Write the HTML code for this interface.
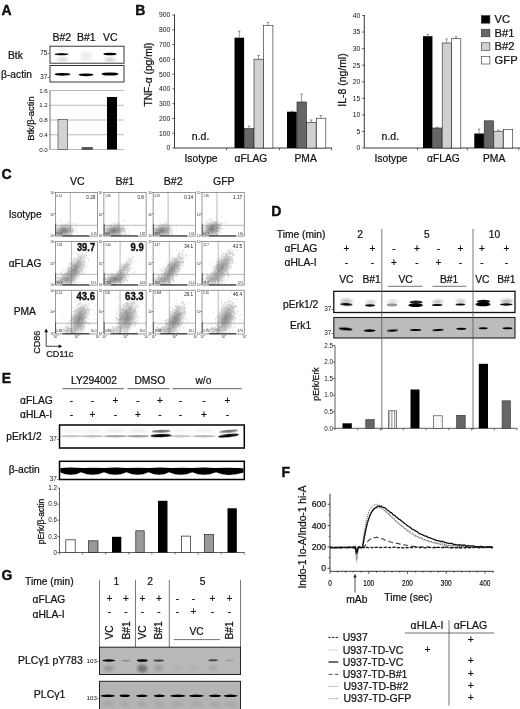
<!DOCTYPE html>
<html><head><meta charset="utf-8"><title>Figure</title>
<style>html,body{margin:0;padding:0;background:#fff}svg{display:block}text{font-family:"Liberation Sans",sans-serif;fill:#111}</style>
</head><body>
<svg width="520" height="709" viewBox="0 0 520 709">
<defs>
<filter id="b1" x="-30%" y="-100%" width="160%" height="300%"><feGaussianBlur stdDeviation="0.7"/></filter>
<filter id="b2" x="-30%" y="-100%" width="160%" height="300%"><feGaussianBlur stdDeviation="1.4"/></filter>
<filter id="b0" x="-10%" y="-10%" width="120%" height="120%"><feGaussianBlur stdDeviation="0.45"/></filter>
<radialGradient id="rg"><stop offset="0" stop-color="#666" stop-opacity="0.8"/><stop offset="0.35" stop-color="#777" stop-opacity="0.55"/><stop offset="0.7" stop-color="#888" stop-opacity="0.2"/><stop offset="1" stop-color="#999" stop-opacity="0"/></radialGradient>
<pattern id="vstripe" x="388.6" width="2.7" height="2" patternUnits="userSpaceOnUse"><rect width="2.7" height="2" fill="#fff"/><rect width="1.2" height="2" fill="#999"/></pattern>
<pattern id="dots" width="2" height="2" patternUnits="userSpaceOnUse"><rect width="2" height="2" fill="#fff"/><rect width="0.6" height="0.6" fill="#bbb"/></pattern>
</defs>
<rect width="520" height="709" fill="#fff"/>
<text x="1.60" y="15.30" font-size="14" font-weight="bold" fill="#000" stroke="#000" stroke-width="0.35">A</text>
<text x="52.50" y="41.00" font-size="10.5" stroke="#111" stroke-width="0.22">B#2</text>
<text x="77.00" y="41.00" font-size="10.5" stroke="#111" stroke-width="0.22">B#1</text>
<text x="103.00" y="41.00" font-size="10.5" stroke="#111" stroke-width="0.22">VC</text>
<rect x="50.00" y="46.20" width="74.00" height="17.00" fill="#fff" stroke="#222" stroke-width="0.9"/>
<rect x="50.00" y="65.50" width="74.00" height="16.50" fill="#fff" stroke="#222" stroke-width="0.9"/>
<text x="8.00" y="59.00" font-size="10.25" stroke="#111" stroke-width="0.22">Btk</text>
<text x="1.00" y="77.50" font-size="10.25" stroke="#111" stroke-width="0.22">β-actin</text>
<text x="49.40" y="54.60" font-size="6.4" text-anchor="end">75-</text>
<text x="49.40" y="79.20" font-size="6.4" text-anchor="end">37-</text>
<ellipse cx="61.50" cy="54.20" rx="7.00" ry="1.10" fill="#111" opacity="1" filter="url(#b1)"/>
<ellipse cx="62.50" cy="59.50" rx="5.50" ry="1.50" fill="#999" opacity="0.45" filter="url(#b2)"/>
<ellipse cx="62.50" cy="49.00" rx="5.00" ry="1.00" fill="#999" opacity="0.3" filter="url(#b2)"/>
<ellipse cx="86.00" cy="54.50" rx="6.00" ry="1.25" fill="#999" opacity="0.3" filter="url(#b2)"/>
<ellipse cx="86.00" cy="58.50" rx="6.00" ry="1.50" fill="#999" opacity="0.25" filter="url(#b2)"/>
<ellipse cx="110.00" cy="54.00" rx="6.75" ry="1.30" fill="#000" opacity="1" filter="url(#b1)"/>
<ellipse cx="110.00" cy="59.50" rx="5.50" ry="1.60" fill="#888" opacity="0.5" filter="url(#b2)"/>
<ellipse cx="62.50" cy="74.30" rx="8.00" ry="1.40" fill="#000" opacity="1" filter="url(#b1)"/>
<ellipse cx="86.00" cy="74.80" rx="7.50" ry="1.40" fill="#000" opacity="1" filter="url(#b1)"/>
<ellipse cx="110.00" cy="74.00" rx="8.50" ry="1.60" fill="#000" opacity="1" filter="url(#b1)"/>
<line x1="50.00" y1="90.50" x2="124.00" y2="90.50" stroke="#777" stroke-width="0.5"/>
<text x="47.80" y="92.60" font-size="6.2" text-anchor="end">1.6</text>
<line x1="50.00" y1="105.25" x2="124.00" y2="105.25" stroke="#777" stroke-width="0.5"/>
<text x="47.80" y="107.35" font-size="6.2" text-anchor="end">1.2</text>
<line x1="50.00" y1="120.00" x2="124.00" y2="120.00" stroke="#777" stroke-width="0.5"/>
<text x="47.80" y="122.10" font-size="6.2" text-anchor="end">0.8</text>
<line x1="50.00" y1="134.75" x2="124.00" y2="134.75" stroke="#777" stroke-width="0.5"/>
<text x="47.80" y="136.85" font-size="6.2" text-anchor="end">0.4</text>
<line x1="50.00" y1="149.50" x2="124.00" y2="149.50" stroke="#777" stroke-width="0.5"/>
<text x="47.80" y="151.60" font-size="6.2" text-anchor="end">0.0</text>
<line x1="50.00" y1="90.50" x2="50.00" y2="149.50" stroke="#333" stroke-width="0.7"/>
<rect x="58.00" y="119.30" width="9.50" height="30.20" fill="#d2d2d2" stroke="#333" stroke-width="0.6"/>
<rect x="82.00" y="147.40" width="10.50" height="2.10" fill="#555" stroke="#222" stroke-width="0.5"/>
<rect x="107.00" y="97.00" width="10.00" height="52.50" fill="#000"/>
<text transform="translate(34.20 118.60) rotate(-90)" font-size="9.4" text-anchor="middle" stroke="#111" stroke-width="0.22">Btk/β-actin</text>
<text x="135.20" y="15.30" font-size="14" font-weight="bold" fill="#000" stroke="#000" stroke-width="0.35">B</text>
<line x1="174.50" y1="14.50" x2="174.50" y2="148.00" stroke="#222" stroke-width="0.9"/>
<line x1="174.50" y1="148.00" x2="332.00" y2="148.00" stroke="#222" stroke-width="0.9"/>
<line x1="172.30" y1="148.00" x2="174.50" y2="148.00" stroke="#222" stroke-width="0.7"/>
<text x="170.30" y="150.40" font-size="6.8" text-anchor="end">0</text>
<line x1="172.30" y1="133.22" x2="174.50" y2="133.22" stroke="#222" stroke-width="0.7"/>
<text x="170.30" y="135.62" font-size="6.8" text-anchor="end">100</text>
<line x1="172.30" y1="118.44" x2="174.50" y2="118.44" stroke="#222" stroke-width="0.7"/>
<text x="170.30" y="120.84" font-size="6.8" text-anchor="end">200</text>
<line x1="172.30" y1="103.67" x2="174.50" y2="103.67" stroke="#222" stroke-width="0.7"/>
<text x="170.30" y="106.07" font-size="6.8" text-anchor="end">300</text>
<line x1="172.30" y1="88.89" x2="174.50" y2="88.89" stroke="#222" stroke-width="0.7"/>
<text x="170.30" y="91.29" font-size="6.8" text-anchor="end">400</text>
<line x1="172.30" y1="74.11" x2="174.50" y2="74.11" stroke="#222" stroke-width="0.7"/>
<text x="170.30" y="76.51" font-size="6.8" text-anchor="end">500</text>
<line x1="172.30" y1="59.33" x2="174.50" y2="59.33" stroke="#222" stroke-width="0.7"/>
<text x="170.30" y="61.73" font-size="6.8" text-anchor="end">600</text>
<line x1="172.30" y1="44.56" x2="174.50" y2="44.56" stroke="#222" stroke-width="0.7"/>
<text x="170.30" y="46.96" font-size="6.8" text-anchor="end">700</text>
<line x1="172.30" y1="29.78" x2="174.50" y2="29.78" stroke="#222" stroke-width="0.7"/>
<text x="170.30" y="32.18" font-size="6.8" text-anchor="end">800</text>
<line x1="172.30" y1="15.00" x2="174.50" y2="15.00" stroke="#222" stroke-width="0.7"/>
<text x="170.30" y="17.40" font-size="6.8" text-anchor="end">900</text>
<line x1="226.50" y1="148.00" x2="226.50" y2="150.20" stroke="#222" stroke-width="0.7"/>
<line x1="279.50" y1="148.00" x2="279.50" y2="150.20" stroke="#222" stroke-width="0.7"/>
<line x1="331.60" y1="148.00" x2="331.60" y2="150.20" stroke="#222" stroke-width="0.7"/>
<text transform="translate(151.70 74.60) rotate(-90)" font-size="10.25" text-anchor="middle" stroke="#111" stroke-width="0.22" textLength="64" lengthAdjust="spacingAndGlyphs">TNF-α (pg/ml)</text>
<text x="191.80" y="140.00" font-size="10.5" stroke="#111" stroke-width="0.22">n.d.</text>
<text x="184.50" y="162.00" font-size="10.25" stroke="#111" stroke-width="0.22">Isotype</text>
<text x="234.50" y="162.00" font-size="10.25" stroke="#111" stroke-width="0.22">αFLAG</text>
<text x="294.50" y="162.00" font-size="10.25" stroke="#111" stroke-width="0.22">PMA</text>
<rect x="234.50" y="37.70" width="9.60" height="110.30" fill="#000"/>
<line x1="239.30" y1="37.70" x2="239.30" y2="31.00" stroke="#555" stroke-width="0.6"/>
<line x1="238.00" y1="31.00" x2="240.60" y2="31.00" stroke="#555" stroke-width="0.6"/>
<rect x="244.40" y="128.50" width="9.30" height="19.50" fill="#666" stroke="#222" stroke-width="0.6"/>
<line x1="248.90" y1="128.50" x2="248.90" y2="126.00" stroke="#555" stroke-width="0.6"/>
<line x1="247.60" y1="126.00" x2="250.20" y2="126.00" stroke="#555" stroke-width="0.6"/>
<rect x="254.00" y="59.20" width="9.30" height="88.80" fill="#d0d0d0" stroke="#222" stroke-width="0.6"/>
<line x1="258.50" y1="59.20" x2="258.50" y2="55.50" stroke="#555" stroke-width="0.6"/>
<line x1="257.20" y1="55.50" x2="259.80" y2="55.50" stroke="#555" stroke-width="0.6"/>
<rect x="263.60" y="25.50" width="9.30" height="122.50" fill="#fff" stroke="#222" stroke-width="0.6"/>
<line x1="268.10" y1="25.50" x2="268.10" y2="22.50" stroke="#555" stroke-width="0.6"/>
<line x1="266.80" y1="22.50" x2="269.40" y2="22.50" stroke="#555" stroke-width="0.6"/>
<rect x="287.00" y="111.70" width="9.70" height="36.30" fill="#000"/>
<line x1="291.85" y1="111.70" x2="291.85" y2="111.20" stroke="#555" stroke-width="0.6"/>
<line x1="290.55" y1="111.20" x2="293.15" y2="111.20" stroke="#555" stroke-width="0.6"/>
<rect x="297.00" y="102.00" width="9.40" height="46.00" fill="#666" stroke="#222" stroke-width="0.6"/>
<line x1="301.55" y1="102.00" x2="301.55" y2="94.00" stroke="#555" stroke-width="0.6"/>
<line x1="300.25" y1="94.00" x2="302.85" y2="94.00" stroke="#555" stroke-width="0.6"/>
<rect x="306.70" y="122.50" width="9.40" height="25.50" fill="#d0d0d0" stroke="#222" stroke-width="0.6"/>
<line x1="311.25" y1="122.50" x2="311.25" y2="120.00" stroke="#555" stroke-width="0.6"/>
<line x1="309.95" y1="120.00" x2="312.55" y2="120.00" stroke="#555" stroke-width="0.6"/>
<rect x="316.40" y="118.20" width="9.40" height="29.80" fill="#fff" stroke="#222" stroke-width="0.6"/>
<line x1="320.95" y1="118.20" x2="320.95" y2="115.50" stroke="#555" stroke-width="0.6"/>
<line x1="319.65" y1="115.50" x2="322.25" y2="115.50" stroke="#555" stroke-width="0.6"/>
<line x1="364.30" y1="15.00" x2="364.30" y2="148.00" stroke="#222" stroke-width="0.9"/>
<line x1="364.30" y1="148.00" x2="520.00" y2="148.00" stroke="#222" stroke-width="0.9"/>
<line x1="362.10" y1="148.00" x2="364.30" y2="148.00" stroke="#222" stroke-width="0.7"/>
<text x="360.20" y="150.40" font-size="6.8" text-anchor="end">0</text>
<line x1="362.10" y1="131.44" x2="364.30" y2="131.44" stroke="#222" stroke-width="0.7"/>
<text x="360.20" y="133.84" font-size="6.8" text-anchor="end">5</text>
<line x1="362.10" y1="114.88" x2="364.30" y2="114.88" stroke="#222" stroke-width="0.7"/>
<text x="360.20" y="117.28" font-size="6.8" text-anchor="end">10</text>
<line x1="362.10" y1="98.31" x2="364.30" y2="98.31" stroke="#222" stroke-width="0.7"/>
<text x="360.20" y="100.71" font-size="6.8" text-anchor="end">15</text>
<line x1="362.10" y1="81.75" x2="364.30" y2="81.75" stroke="#222" stroke-width="0.7"/>
<text x="360.20" y="84.15" font-size="6.8" text-anchor="end">20</text>
<line x1="362.10" y1="65.19" x2="364.30" y2="65.19" stroke="#222" stroke-width="0.7"/>
<text x="360.20" y="67.59" font-size="6.8" text-anchor="end">25</text>
<line x1="362.10" y1="48.62" x2="364.30" y2="48.62" stroke="#222" stroke-width="0.7"/>
<text x="360.20" y="51.02" font-size="6.8" text-anchor="end">30</text>
<line x1="362.10" y1="32.06" x2="364.30" y2="32.06" stroke="#222" stroke-width="0.7"/>
<text x="360.20" y="34.46" font-size="6.8" text-anchor="end">35</text>
<line x1="362.10" y1="15.50" x2="364.30" y2="15.50" stroke="#222" stroke-width="0.7"/>
<text x="360.20" y="17.90" font-size="6.8" text-anchor="end">40</text>
<line x1="417.50" y1="148.00" x2="417.50" y2="150.20" stroke="#222" stroke-width="0.7"/>
<line x1="467.40" y1="148.00" x2="467.40" y2="150.20" stroke="#222" stroke-width="0.7"/>
<line x1="518.80" y1="148.00" x2="518.80" y2="150.20" stroke="#222" stroke-width="0.7"/>
<text transform="translate(346.00 80.00) rotate(-90)" font-size="10.25" text-anchor="middle" stroke="#111" stroke-width="0.22" textLength="53.3" lengthAdjust="spacingAndGlyphs">IL-8 (ng/ml)</text>
<text x="381.60" y="139.60" font-size="10.5" stroke="#111" stroke-width="0.22">n.d.</text>
<text x="374.50" y="162.00" font-size="10.25" stroke="#111" stroke-width="0.22">Isotype</text>
<text x="427.00" y="162.00" font-size="10.25" stroke="#111" stroke-width="0.22">αFLAG</text>
<text x="483.00" y="162.00" font-size="10.25" stroke="#111" stroke-width="0.22">PMA</text>
<rect x="423.00" y="36.20" width="9.45" height="111.80" fill="#000"/>
<line x1="427.73" y1="36.20" x2="427.73" y2="34.50" stroke="#555" stroke-width="0.6"/>
<line x1="426.43" y1="34.50" x2="429.03" y2="34.50" stroke="#555" stroke-width="0.6"/>
<rect x="432.75" y="128.00" width="9.15" height="20.00" fill="#666" stroke="#222" stroke-width="0.6"/>
<line x1="437.18" y1="128.00" x2="437.18" y2="127.20" stroke="#555" stroke-width="0.6"/>
<line x1="435.88" y1="127.20" x2="438.48" y2="127.20" stroke="#555" stroke-width="0.6"/>
<rect x="442.20" y="43.00" width="9.15" height="105.00" fill="#d0d0d0" stroke="#222" stroke-width="0.6"/>
<line x1="446.62" y1="43.00" x2="446.62" y2="39.00" stroke="#555" stroke-width="0.6"/>
<line x1="445.32" y1="39.00" x2="447.93" y2="39.00" stroke="#555" stroke-width="0.6"/>
<rect x="451.65" y="38.70" width="9.15" height="109.30" fill="#fff" stroke="#222" stroke-width="0.6"/>
<line x1="456.08" y1="38.70" x2="456.08" y2="36.70" stroke="#555" stroke-width="0.6"/>
<line x1="454.78" y1="36.70" x2="457.38" y2="36.70" stroke="#555" stroke-width="0.6"/>
<rect x="474.30" y="133.50" width="9.60" height="14.50" fill="#000"/>
<line x1="479.10" y1="133.50" x2="479.10" y2="129.00" stroke="#555" stroke-width="0.6"/>
<line x1="477.80" y1="129.00" x2="480.40" y2="129.00" stroke="#555" stroke-width="0.6"/>
<rect x="484.20" y="120.80" width="9.30" height="27.20" fill="#666" stroke="#222" stroke-width="0.6"/>
<rect x="493.80" y="131.20" width="9.30" height="16.80" fill="#d0d0d0" stroke="#222" stroke-width="0.6"/>
<line x1="498.30" y1="131.20" x2="498.30" y2="130.20" stroke="#555" stroke-width="0.6"/>
<line x1="497.00" y1="130.20" x2="499.60" y2="130.20" stroke="#555" stroke-width="0.6"/>
<rect x="503.40" y="129.60" width="9.30" height="18.40" fill="#fff" stroke="#222" stroke-width="0.6"/>
<rect x="481.30" y="15.60" width="8.60" height="7.60" fill="#000" stroke="#333" stroke-width="0.6"/>
<text x="494.60" y="23.10" font-size="11.2" stroke="#111" stroke-width="0.22">VC</text>
<rect x="481.30" y="29.20" width="8.60" height="7.60" fill="#666" stroke="#333" stroke-width="0.6"/>
<text x="494.60" y="36.70" font-size="11.2" stroke="#111" stroke-width="0.22">B#1</text>
<rect x="481.30" y="42.80" width="8.60" height="7.60" fill="#d0d0d0" stroke="#333" stroke-width="0.6"/>
<text x="494.60" y="50.30" font-size="11.2" stroke="#111" stroke-width="0.22">B#2</text>
<rect x="481.30" y="56.40" width="8.60" height="7.60" fill="#fff" stroke="#333" stroke-width="0.6"/>
<text x="494.60" y="63.90" font-size="11.2" stroke="#111" stroke-width="0.22">GFP</text>
<text x="1.50" y="179.30" font-size="14" font-weight="bold" fill="#000" stroke="#000" stroke-width="0.35">C</text>
<text x="77.20" y="185.30" font-size="10.5" text-anchor="middle" stroke="#111" stroke-width="0.22">VC</text>
<text x="124.80" y="185.30" font-size="10.5" text-anchor="middle" stroke="#111" stroke-width="0.22">B#1</text>
<text x="173.20" y="185.30" font-size="10.5" text-anchor="middle" stroke="#111" stroke-width="0.22">B#2</text>
<text x="223.80" y="185.30" font-size="10.5" text-anchor="middle" stroke="#111" stroke-width="0.22">GFP</text>
<text x="8.70" y="218.00" font-size="10.25" stroke="#111" stroke-width="0.22">Isotype</text>
<text x="8.70" y="267.00" font-size="10.25" stroke="#111" stroke-width="0.22">αFLAG</text>
<text x="13.70" y="314.50" font-size="10.25" stroke="#111" stroke-width="0.22">PMA</text>
<clipPath id="cp00"><rect x="55.3" y="192.3" width="42.2" height="43.8"/></clipPath>
<g clip-path="url(#cp00)">
<ellipse cx="63.8" cy="230.6" rx="11.5" ry="6.9" fill="url(#rg)" opacity="1.00" transform="rotate(-8 63.8 230.6)"/>
<path d="M62.7 232.3h.01M62.5 229.8h.01M59.1 230.6h.01M69.5 231.1h.01M69.0 230.6h.01M65.8 230.9h.01M55.9 234.3h.01M66.5 231.7h.01M55.9 226.6h.01M59.2 229.8h.01M65.3 230.3h.01M66.1 228.3h.01M65.5 231.6h.01M61.2 235.6h.01M67.1 233.8h.01M60.4 228.8h.01M62.1 230.5h.01M67.0 230.9h.01M61.2 228.1h.01M61.7 234.6h.01M59.9 231.9h.01M65.3 225.9h.01M64.6 234.4h.01M55.9 231.0h.01M62.9 228.2h.01M66.2 230.1h.01M56.9 234.1h.01M67.5 232.9h.01M71.1 230.7h.01M63.8 226.7h.01M66.6 228.4h.01M61.0 227.2h.01M58.8 229.7h.01M69.3 223.7h.01M56.7 232.3h.01M71.2 231.3h.01M55.9 224.4h.01M65.3 228.2h.01M58.7 234.3h.01M69.3 230.3h.01M65.2 231.7h.01M72.0 231.3h.01M66.6 231.9h.01M56.6 235.5h.01M68.8 231.5h.01M55.9 230.1h.01M67.2 224.6h.01M63.3 233.8h.01M58.0 235.6h.01M66.5 229.8h.01M65.7 232.3h.01M64.9 233.9h.01M60.4 229.8h.01M69.0 230.0h.01M59.8 234.0h.01M70.9 228.3h.01M56.9 231.2h.01M62.9 229.8h.01M70.3 226.6h.01M69.5 226.0h.01M60.2 233.0h.01M69.7 232.4h.01M65.6 230.8h.01M64.8 232.2h.01M63.0 231.5h.01M66.6 230.2h.01M67.8 231.7h.01M73.9 230.2h.01M61.5 229.8h.01M64.1 233.4h.01M62.3 232.0h.01M71.8 221.7h.01M58.3 232.1h.01M65.9 231.0h.01M61.9 232.8h.01M65.0 228.9h.01M76.0 230.0h.01M61.0 230.7h.01M62.7 230.6h.01M55.9 231.1h.01M68.3 226.4h.01M63.9 233.5h.01M68.7 234.4h.01M55.9 230.7h.01M62.4 232.7h.01M68.1 221.9h.01M68.6 225.5h.01M66.6 225.7h.01M65.2 234.0h.01M63.1 231.3h.01M67.8 230.5h.01M64.0 235.2h.01M68.9 229.0h.01M76.9 225.3h.01M68.2 229.2h.01M64.7 232.6h.01M65.2 232.3h.01M55.9 227.2h.01M66.4 227.3h.01M58.1 226.9h.01M70.4 231.9h.01M70.7 226.8h.01M63.3 227.2h.01M68.3 234.8h.01M60.0 235.6h.01M68.6 229.4h.01M55.9 235.6h.01M63.1 228.9h.01M65.9 231.5h.01M70.8 226.5h.01M70.0 234.2h.01M70.9 229.1h.01M60.5 234.1h.01M64.4 230.9h.01M70.7 228.8h.01M55.9 231.0h.01M55.9 234.3h.01M65.1 228.6h.01M64.1 233.1h.01M64.7 234.5h.01M63.9 233.7h.01M71.9 234.3h.01M60.8 233.7h.01M55.9 228.7h.01M55.9 235.1h.01M57.7 231.4h.01M62.8 230.6h.01M61.0 231.7h.01M72.7 229.5h.01M66.8 233.2h.01M62.3 227.0h.01M61.5 234.2h.01M55.9 230.0h.01M69.1 232.3h.01M64.2 233.0h.01M64.1 227.0h.01M55.9 229.8h.01M68.1 228.3h.01M59.0 228.9h.01M56.2 231.3h.01M58.1 232.5h.01M55.9 233.2h.01M59.8 225.3h.01M67.3 229.3h.01M55.9 229.6h.01M65.0 229.0h.01M68.0 232.3h.01M67.2 231.1h.01M70.7 231.6h.01M65.2 224.1h.01M68.8 233.9h.01M62.1 229.4h.01M72.7 224.0h.01M67.1 235.6h.01M59.5 233.3h.01M73.1 228.9h.01M67.0 232.9h.01M59.3 231.0h.01M65.6 232.8h.01M63.5 230.0h.01M58.6 230.2h.01M68.3 230.3h.01M59.2 228.7h.01M77.5 232.1h.01M65.9 222.5h.01M67.1 231.6h.01M72.3 230.7h.01M63.7 232.2h.01M55.9 235.0h.01M65.1 228.3h.01M71.1 235.1h.01M56.6 229.6h.01M65.3 230.9h.01M61.4 228.0h.01M74.7 232.2h.01M57.3 227.4h.01M72.6 232.4h.01M73.2 231.7h.01M59.6 232.0h.01M55.9 229.9h.01M63.7 232.2h.01M60.1 230.7h.01M66.2 231.4h.01M67.0 230.8h.01M62.5 233.2h.01M63.7 228.1h.01M60.7 231.0h.01M63.3 231.1h.01M63.9 231.1h.01M62.6 227.0h.01M66.3 233.4h.01M65.9 229.7h.01M65.6 227.4h.01M55.9 232.1h.01M59.5 233.4h.01M57.3 223.5h.01M59.3 235.6h.01M61.3 226.8h.01M60.2 232.7h.01M66.3 230.8h.01M71.4 231.7h.01M63.9 232.4h.01M72.4 232.3h.01M68.4 226.7h.01M63.4 232.9h.01M62.8 234.0h.01M67.1 232.9h.01M63.8 235.6h.01M69.8 229.1h.01M65.3 235.6h.01M62.5 233.4h.01M68.7 229.9h.01M58.1 232.0h.01M66.1 233.7h.01M67.7 230.1h.01M68.3 231.6h.01M64.8 230.6h.01M62.9 232.8h.01M58.3 229.5h.01M63.2 226.2h.01M60.8 224.9h.01M60.7 232.8h.01M66.6 230.0h.01M62.1 226.6h.01M73.1 230.9h.01M68.8 227.2h.01M62.1 225.3h.01M68.1 232.8h.01M55.9 231.8h.01M66.2 224.9h.01M55.9 228.7h.01M60.1 226.9h.01M64.1 231.3h.01M67.2 232.2h.01M71.7 233.0h.01M57.1 230.0h.01M58.1 228.1h.01M63.4 230.7h.01M65.6 225.5h.01M57.7 231.4h.01M62.7 229.8h.01M63.2 228.4h.01M67.4 231.2h.01M63.1 228.7h.01M61.8 222.6h.01M59.0 231.4h.01M56.4 232.2h.01M64.0 226.4h.01M62.4 229.8h.01M66.3 232.1h.01M63.3 228.1h.01M63.1 230.5h.01M67.6 231.0h.01M59.7 227.1h.01M61.6 228.7h.01M58.2 231.0h.01M61.4 231.3h.01M66.2 229.0h.01M75.2 228.0h.01M69.3 230.2h.01M68.3 222.8h.01M60.2 231.9h.01M67.8 235.6h.01M65.9 234.2h.01M68.0 232.9h.01M66.3 229.8h.01M65.9 227.0h.01M69.2 226.8h.01M65.9 235.6h.01M62.7 230.8h.01M69.6 229.9h.01M59.9 231.9h.01M67.0 232.3h.01M60.7 235.6h.01M72.1 229.5h.01M65.0 229.1h.01M70.5 227.5h.01M66.9 228.7h.01M60.7 233.2h.01M70.4 229.6h.01M60.8 233.5h.01M63.7 231.6h.01M71.8 232.9h.01M62.2 235.6h.01M64.1 232.9h.01M60.6 230.9h.01M55.9 235.6h.01M70.1 226.0h.01M55.9 226.8h.01M69.4 228.4h.01M63.4 229.7h.01M62.7 227.5h.01M63.3 226.3h.01M63.6 231.6h.01M66.0 229.6h.01M59.4 231.7h.01M62.1 235.6h.01M67.6 229.7h.01M61.2 228.8h.01M59.0 230.2h.01M65.5 231.9h.01M67.5 235.6h.01M60.3 231.1h.01M76.9 223.1h.01M61.3 231.5h.01M64.7 231.7h.01M62.8 231.9h.01M64.4 232.9h.01M55.9 229.3h.01M63.4 227.5h.01M58.9 233.2h.01M60.8 232.9h.01M67.6 231.0h.01M66.3 229.9h.01M56.8 231.5h.01M65.8 228.7h.01M63.6 232.9h.01M59.7 233.1h.01M72.8 227.7h.01M64.5 230.1h.01M71.6 230.5h.01M68.0 227.9h.01M63.7 230.6h.01M55.9 235.6h.01M67.5 224.8h.01M67.4 229.7h.01M66.2 231.4h.01M56.3 231.0h.01M71.0 227.9h.01M58.2 227.3h.01M57.9 232.4h.01M72.4 230.7h.01M65.9 235.6h.01M60.9 229.0h.01M66.6 231.9h.01M58.3 227.8h.01M65.3 231.1h.01M57.2 230.9h.01M61.3 232.3h.01M63.2 230.4h.01M62.5 234.0h.01M70.5 228.5h.01M67.7 227.8h.01M64.5 232.8h.01M71.1 228.4h.01M63.5 231.2h.01M56.4 231.7h.01M60.6 232.2h.01M57.4 225.5h.01M64.1 231.3h.01M61.5 233.6h.01M62.2 229.0h.01M65.5 225.6h.01M60.4 231.0h.01M67.9 229.5h.01M65.1 228.4h.01M66.0 235.3h.01M61.4 235.6h.01M60.6 231.1h.01M65.1 233.5h.01M56.8 225.2h.01M67.1 232.5h.01M68.0 235.6h.01M64.9 231.2h.01M68.6 231.0h.01M71.5 225.8h.01M60.5 220.6h.01M67.7 228.9h.01M69.3 235.6h.01M63.7 229.8h.01M61.0 228.5h.01M60.9 232.9h.01M64.0 230.8h.01M63.3 233.4h.01M66.2 229.8h.01M67.0 229.7h.01M58.7 235.6h.01M65.7 227.4h.01M69.3 230.9h.01M56.7 235.6h.01M65.8 233.0h.01M64.7 230.0h.01M56.5 234.6h.01M63.8 229.7h.01M65.6 230.6h.01M67.0 229.0h.01M62.7 224.3h.01M62.0 232.9h.01M70.3 228.6h.01M63.9 235.4h.01M62.5 233.0h.01M72.1 229.6h.01M69.6 227.6h.01M64.8 230.2h.01M64.8 233.9h.01M75.4 227.0h.01M61.2 232.5h.01M58.8 232.8h.01M66.5 229.4h.01M65.8 225.6h.01M66.9 225.5h.01M60.1 229.4h.01M62.2 233.4h.01M64.0 229.4h.01M67.2 234.9h.01M64.0 231.7h.01M70.0 230.5h.01M58.5 235.6h.01M73.9 223.2h.01M63.8 231.9h.01M68.9 231.9h.01M62.0 227.7h.01M64.7 233.6h.01M58.0 228.3h.01M62.9 224.9h.01M62.3 229.5h.01M65.7 228.2h.01M59.3 230.0h.01M63.3 228.7h.01M64.2 232.8h.01" stroke="#555" stroke-width="1.1" stroke-linecap="round" fill="none" opacity="0.28"/>
</g>
<rect x="55.30" y="192.30" width="42.20" height="43.80" fill="none" stroke="#555" stroke-width="0.6"/>
<line x1="70.30" y1="192.30" x2="70.30" y2="236.10" stroke="#777" stroke-width="0.5"/>
<line x1="55.30" y1="225.30" x2="97.50" y2="225.30" stroke="#777" stroke-width="0.5"/>
<line x1="62.30" y1="235.90" x2="89.30" y2="235.90" stroke="#222" stroke-width="1.0"/>
<line x1="55.60" y1="224.10" x2="55.60" y2="235.10" stroke="#444" stroke-width="0.8"/>
<text x="56.60" y="196.50" font-size="2.8" fill="#555">0.14</text>
<text x="56.60" y="234.50" font-size="2.8" fill="#444">99.4</text>
<text x="96.50" y="234.50" font-size="2.8" text-anchor="end" fill="#444">0.15</text>
<text x="95.30" y="198.50" font-size="4.6" text-anchor="end" fill="#444">0.29</text>
<text x="53.70" y="194.30" font-size="3.0" text-anchor="end" fill="#444">10</text>
<text x="55.10" y="192.70" font-size="2.0" text-anchor="end" fill="#444">4</text>
<text x="53.70" y="215.50" font-size="3.0" text-anchor="end" fill="#444">10</text>
<text x="55.10" y="213.90" font-size="2.0" text-anchor="end" fill="#444">2</text>
<text x="53.70" y="237.10" font-size="3.0" text-anchor="end" fill="#444">10</text>
<text x="55.10" y="235.50" font-size="2.0" text-anchor="end" fill="#444">0</text>
<clipPath id="cp01"><rect x="103.9" y="192.3" width="42.2" height="43.8"/></clipPath>
<g clip-path="url(#cp01)">
<ellipse cx="113.9" cy="230.6" rx="12.9" ry="6.9" fill="url(#rg)" opacity="1.00" transform="rotate(-10 113.9 230.6)"/>
<path d="M121.3 234.5h.01M109.4 230.1h.01M104.5 235.6h.01M109.9 231.2h.01M116.1 226.1h.01M116.4 230.1h.01M104.5 233.2h.01M119.5 223.9h.01M118.5 230.4h.01M116.7 231.4h.01M121.0 228.7h.01M118.5 228.5h.01M117.5 227.5h.01M114.2 235.6h.01M116.3 229.7h.01M107.2 229.4h.01M115.5 233.2h.01M116.5 231.7h.01M114.4 234.6h.01M111.5 229.4h.01M118.8 229.9h.01M112.1 229.2h.01M112.8 232.7h.01M115.2 226.7h.01M116.3 230.7h.01M108.8 233.9h.01M112.2 229.9h.01M119.0 233.7h.01M110.3 232.6h.01M110.3 235.6h.01M111.8 234.6h.01M110.8 233.6h.01M124.8 220.9h.01M111.8 232.5h.01M113.0 228.7h.01M125.8 228.7h.01M105.3 234.7h.01M105.0 235.6h.01M110.8 231.6h.01M120.9 229.7h.01M105.3 226.9h.01M120.8 231.6h.01M109.8 233.9h.01M117.0 232.0h.01M104.5 231.9h.01M119.2 231.9h.01M117.5 222.5h.01M115.1 231.9h.01M127.5 225.3h.01M112.1 231.0h.01M118.6 228.4h.01M119.8 227.2h.01M115.1 228.8h.01M114.4 228.4h.01M105.7 235.4h.01M115.3 228.7h.01M115.5 233.3h.01M108.5 231.2h.01M117.1 231.6h.01M111.0 224.7h.01M120.9 230.4h.01M113.8 229.8h.01M115.1 229.1h.01M107.9 229.4h.01M110.3 229.4h.01M107.8 233.6h.01M107.0 233.8h.01M108.5 232.6h.01M121.6 229.9h.01M109.9 231.5h.01M113.8 225.3h.01M110.6 231.7h.01M111.4 231.3h.01M118.3 232.2h.01M119.2 231.5h.01M112.3 230.8h.01M112.2 229.9h.01M112.0 225.7h.01M112.1 230.9h.01M108.5 231.5h.01M116.7 229.6h.01M124.0 220.9h.01M111.8 225.4h.01M120.7 235.6h.01M104.5 233.4h.01M116.6 229.2h.01M115.8 223.4h.01M118.8 230.9h.01M113.7 228.8h.01M117.2 228.5h.01M114.9 228.9h.01M104.5 232.7h.01M115.4 232.6h.01M109.1 231.4h.01M117.4 230.4h.01M121.8 235.3h.01M107.9 225.8h.01M119.4 234.3h.01M119.4 232.1h.01M110.1 229.1h.01M118.3 227.0h.01M104.5 229.4h.01M128.6 233.9h.01M109.7 229.1h.01M114.8 228.2h.01M121.1 229.1h.01M108.6 235.5h.01M110.8 231.8h.01M113.7 229.7h.01M115.3 228.2h.01M104.5 225.9h.01M106.5 229.6h.01M113.8 230.8h.01M117.0 230.4h.01M109.2 229.3h.01M104.5 232.2h.01M116.8 231.7h.01M113.1 230.2h.01M119.1 229.7h.01M118.3 231.6h.01M115.8 234.3h.01M110.6 230.1h.01M109.0 229.0h.01M123.4 234.3h.01M114.3 232.3h.01M120.8 231.8h.01M119.9 225.7h.01M110.6 232.6h.01M121.9 229.5h.01M109.0 230.4h.01M109.8 228.7h.01M121.9 227.3h.01M115.1 235.6h.01M120.6 230.4h.01M110.7 232.4h.01M123.2 230.9h.01M120.9 229.7h.01M116.6 229.5h.01M116.9 234.0h.01M106.0 231.8h.01M114.9 228.7h.01M112.6 233.2h.01M125.3 230.5h.01M114.9 225.7h.01M124.6 229.0h.01M113.1 227.3h.01M113.0 227.4h.01M114.5 231.9h.01M114.2 231.4h.01M109.9 235.6h.01M109.4 225.9h.01M112.5 228.5h.01M108.1 230.5h.01M114.9 226.8h.01M113.9 234.9h.01M117.6 229.5h.01M114.5 230.1h.01M114.0 232.8h.01M112.1 223.6h.01M113.3 228.0h.01M117.2 228.2h.01M115.9 235.6h.01M107.5 228.3h.01M104.9 224.9h.01M104.5 233.5h.01M109.4 225.7h.01M106.0 233.9h.01M109.4 230.3h.01M116.4 234.3h.01M125.1 231.8h.01M114.8 231.0h.01M124.6 233.1h.01M112.4 232.3h.01M115.5 230.5h.01M110.5 227.2h.01M110.2 226.6h.01M120.9 231.0h.01M108.0 235.6h.01M117.8 224.1h.01M124.5 231.2h.01M124.6 225.0h.01M117.0 231.3h.01M115.1 230.9h.01M118.9 225.2h.01M106.3 227.7h.01M110.5 229.4h.01M116.1 231.0h.01M113.7 228.6h.01M112.0 233.8h.01M118.2 230.2h.01M112.9 235.5h.01M111.0 233.1h.01M120.1 228.7h.01M117.9 226.5h.01M119.6 230.2h.01M105.5 234.1h.01M109.6 235.3h.01M110.1 230.8h.01M115.3 229.3h.01M115.0 228.7h.01M117.6 230.0h.01M113.6 222.3h.01M120.3 229.6h.01M104.5 232.6h.01M117.0 233.3h.01M108.7 235.6h.01M114.3 235.6h.01M113.4 232.8h.01M111.3 227.7h.01M120.4 232.2h.01M122.8 231.6h.01M109.9 226.2h.01M110.0 229.2h.01M109.7 233.1h.01M115.6 229.5h.01M114.8 230.0h.01M115.5 232.6h.01M118.8 227.6h.01M106.3 235.6h.01M115.1 233.8h.01M104.7 231.2h.01M113.3 226.3h.01M111.4 233.2h.01M120.7 234.3h.01M108.4 227.3h.01M117.3 232.9h.01M114.3 226.6h.01M118.6 232.2h.01M116.7 228.6h.01M116.0 232.6h.01M109.9 225.7h.01M116.0 231.7h.01M114.4 233.2h.01M110.6 230.9h.01M112.5 232.6h.01M122.6 228.3h.01M126.0 233.1h.01M118.6 231.6h.01M123.6 228.3h.01M112.7 227.6h.01M117.2 234.1h.01M117.1 231.3h.01M112.9 231.3h.01M106.6 235.1h.01M111.1 227.7h.01M109.3 228.9h.01M119.2 232.9h.01M106.9 234.7h.01M118.5 228.0h.01M105.3 229.8h.01M110.6 232.2h.01M110.9 225.0h.01M114.4 225.8h.01M118.3 226.2h.01M109.6 228.7h.01M111.6 235.0h.01M118.9 231.5h.01M114.9 225.7h.01M110.7 229.5h.01M108.8 233.1h.01M109.4 229.2h.01M107.1 225.5h.01M117.9 234.0h.01M114.4 227.5h.01M104.5 233.7h.01M120.8 230.3h.01M119.8 234.1h.01M119.9 228.2h.01M120.1 231.9h.01M105.2 230.9h.01M106.0 231.7h.01M116.5 226.9h.01M104.5 235.6h.01M116.7 234.6h.01M107.2 235.0h.01M126.4 234.5h.01M112.9 231.6h.01M113.6 233.7h.01M119.7 229.8h.01M106.8 234.1h.01M111.6 232.9h.01M116.2 235.1h.01M119.9 228.2h.01M116.7 235.5h.01M111.2 232.4h.01M121.1 233.2h.01M116.1 226.2h.01M107.1 232.6h.01M117.4 235.6h.01M109.7 234.8h.01M117.3 224.9h.01M109.5 231.9h.01M111.1 230.6h.01M116.1 227.8h.01M116.1 228.3h.01M111.2 232.7h.01M110.9 232.0h.01M122.7 229.1h.01M113.5 232.9h.01M112.4 234.2h.01M107.1 233.7h.01M110.7 228.7h.01M123.2 226.4h.01M123.9 230.8h.01M121.4 226.3h.01M121.3 233.7h.01M113.2 230.3h.01M127.5 228.7h.01M111.2 229.1h.01M116.5 231.1h.01M115.8 235.5h.01M112.3 232.3h.01M121.4 226.2h.01M120.6 235.0h.01M105.9 228.7h.01M107.2 226.2h.01M115.4 224.7h.01M117.4 234.4h.01M104.8 231.2h.01M104.5 234.8h.01M109.7 230.5h.01M114.5 232.2h.01M112.0 231.0h.01M110.9 231.5h.01M107.5 231.9h.01M104.5 231.0h.01M124.5 229.0h.01M107.1 232.6h.01M107.7 226.7h.01M110.2 233.5h.01M116.0 229.9h.01M108.2 228.3h.01M121.5 230.0h.01M107.6 225.3h.01M107.6 235.6h.01M107.5 231.5h.01M115.0 229.9h.01M111.7 226.8h.01M109.0 235.6h.01M110.2 233.8h.01M104.5 231.4h.01M115.9 233.4h.01M108.0 233.5h.01M115.6 228.0h.01M116.1 227.5h.01M109.5 231.3h.01M104.5 232.9h.01M107.6 227.3h.01M112.0 233.3h.01M112.3 234.7h.01M106.8 227.9h.01M122.7 230.3h.01M118.7 227.2h.01M118.5 230.6h.01M117.5 230.0h.01M120.2 227.5h.01M107.8 227.2h.01M119.9 227.3h.01M107.7 228.8h.01M110.8 227.3h.01M112.0 229.0h.01M110.4 228.3h.01M113.9 229.2h.01M114.7 231.2h.01M114.6 223.8h.01M110.5 228.8h.01M117.3 225.2h.01M109.8 230.4h.01M112.6 233.9h.01M112.0 233.9h.01M104.9 226.7h.01M120.9 230.7h.01M116.7 230.5h.01M115.9 226.5h.01M118.9 228.1h.01M119.4 229.9h.01M104.5 228.7h.01M120.0 229.1h.01M111.8 231.7h.01M111.3 229.4h.01M114.5 230.9h.01M122.3 229.3h.01M125.2 234.1h.01M123.9 232.1h.01M114.7 230.9h.01M112.7 228.6h.01M113.2 228.8h.01M123.2 230.6h.01M110.4 225.4h.01M113.4 229.4h.01M107.3 228.3h.01M104.5 234.5h.01M114.9 235.6h.01M113.7 230.2h.01M121.9 229.6h.01M114.6 229.3h.01M111.3 235.6h.01M120.3 234.7h.01M112.0 231.0h.01M109.5 234.3h.01M106.5 233.6h.01M120.7 233.7h.01M109.3 234.7h.01M109.6 229.1h.01M107.2 235.3h.01M122.7 227.2h.01M109.5 230.3h.01M128.3 231.1h.01M110.0 225.8h.01M110.8 234.8h.01M124.1 228.0h.01M109.8 229.8h.01M104.5 235.1h.01M108.5 234.8h.01M104.5 228.5h.01M115.1 228.1h.01M118.2 229.9h.01M107.7 233.6h.01M117.5 224.1h.01M124.2 230.3h.01" stroke="#555" stroke-width="1.1" stroke-linecap="round" fill="none" opacity="0.28"/>
</g>
<rect x="103.90" y="192.30" width="42.20" height="43.80" fill="none" stroke="#555" stroke-width="0.6"/>
<line x1="118.90" y1="192.30" x2="118.90" y2="236.10" stroke="#777" stroke-width="0.5"/>
<line x1="103.90" y1="225.30" x2="146.10" y2="225.30" stroke="#777" stroke-width="0.5"/>
<line x1="110.90" y1="235.90" x2="137.90" y2="235.90" stroke="#222" stroke-width="1.0"/>
<line x1="104.20" y1="224.10" x2="104.20" y2="235.10" stroke="#444" stroke-width="0.8"/>
<text x="105.20" y="196.50" font-size="2.8" fill="#555">1.26</text>
<text x="105.20" y="234.50" font-size="2.8" fill="#444">96.1</text>
<text x="145.10" y="234.50" font-size="2.8" text-anchor="end" fill="#444">1.82</text>
<text x="143.90" y="198.50" font-size="4.6" text-anchor="end" fill="#444">0.8</text>
<text x="102.30" y="194.30" font-size="3.0" text-anchor="end" fill="#444">10</text>
<text x="103.70" y="192.70" font-size="2.0" text-anchor="end" fill="#444">4</text>
<text x="102.30" y="215.50" font-size="3.0" text-anchor="end" fill="#444">10</text>
<text x="103.70" y="213.90" font-size="2.0" text-anchor="end" fill="#444">2</text>
<text x="102.30" y="237.10" font-size="3.0" text-anchor="end" fill="#444">10</text>
<text x="103.70" y="235.50" font-size="2.0" text-anchor="end" fill="#444">0</text>
<clipPath id="cp02"><rect x="153.1" y="192.3" width="42.2" height="43.8"/></clipPath>
<g clip-path="url(#cp02)">
<ellipse cx="161.6" cy="230.6" rx="11.5" ry="6.9" fill="url(#rg)" opacity="1.00" transform="rotate(-8 161.6 230.6)"/>
<path d="M164.6 224.5h.01M157.9 230.1h.01M166.3 225.5h.01M156.4 225.2h.01M160.6 231.8h.01M153.7 230.0h.01M164.8 235.0h.01M164.8 229.2h.01M155.4 228.6h.01M158.4 231.5h.01M162.1 235.6h.01M162.6 227.2h.01M169.6 232.3h.01M161.8 228.4h.01M153.7 228.9h.01M165.8 227.6h.01M155.1 232.1h.01M163.1 232.2h.01M165.4 234.3h.01M157.9 234.1h.01M157.0 233.3h.01M162.6 231.2h.01M166.4 229.9h.01M167.5 232.4h.01M162.0 228.8h.01M157.6 229.6h.01M160.6 230.7h.01M176.6 230.4h.01M165.0 227.5h.01M157.9 230.1h.01M162.1 227.4h.01M169.3 227.8h.01M166.0 222.9h.01M161.7 231.4h.01M162.8 232.3h.01M163.1 230.9h.01M153.7 229.8h.01M153.7 234.1h.01M163.0 229.8h.01M157.3 229.4h.01M171.5 234.5h.01M161.8 234.5h.01M153.7 226.0h.01M158.8 228.3h.01M158.9 231.5h.01M176.3 226.5h.01M162.0 231.4h.01M161.8 233.4h.01M169.9 225.7h.01M162.3 229.7h.01M162.7 225.8h.01M153.7 224.9h.01M164.3 230.8h.01M161.0 223.5h.01M159.4 228.6h.01M154.2 228.9h.01M165.3 231.7h.01M161.7 232.1h.01M158.6 231.2h.01M162.0 232.2h.01M161.2 230.2h.01M160.7 228.8h.01M172.9 230.6h.01M164.7 235.6h.01M167.9 225.0h.01M165.4 232.6h.01M171.5 233.2h.01M164.9 226.6h.01M157.4 232.0h.01M163.7 227.2h.01M159.5 229.7h.01M162.0 231.6h.01M159.7 227.1h.01M168.4 234.5h.01M161.5 233.7h.01M164.1 232.3h.01M163.7 228.0h.01M164.9 233.2h.01M158.0 235.6h.01M172.7 234.6h.01M171.8 231.4h.01M159.7 229.1h.01M157.6 231.5h.01M161.7 232.6h.01M153.7 235.6h.01M172.9 228.9h.01M165.1 231.5h.01M162.9 229.8h.01M160.6 228.2h.01M162.5 230.4h.01M162.8 227.8h.01M161.8 230.7h.01M164.1 227.0h.01M164.1 233.2h.01M164.4 229.1h.01M159.1 230.2h.01M165.9 234.7h.01M160.5 228.8h.01M163.5 230.9h.01M156.8 229.0h.01M161.4 232.7h.01M155.3 228.4h.01M163.6 226.6h.01M162.3 231.6h.01M160.6 227.7h.01M161.2 229.7h.01M162.9 227.9h.01M166.3 224.9h.01M160.7 230.7h.01M166.1 228.1h.01M164.1 228.5h.01M166.0 235.2h.01M159.8 232.2h.01M157.4 234.1h.01M167.6 229.9h.01M156.1 232.6h.01M167.7 233.0h.01M164.9 224.6h.01M158.8 235.3h.01M156.0 234.8h.01M171.2 231.6h.01M167.0 228.8h.01M155.5 231.1h.01M160.6 230.6h.01M165.0 229.7h.01M162.7 231.7h.01M162.3 235.6h.01M163.8 230.5h.01M160.3 228.9h.01M168.3 230.1h.01M156.0 229.7h.01M160.7 229.4h.01M166.5 226.4h.01M164.1 230.7h.01M155.8 231.6h.01M161.3 232.2h.01M159.5 231.8h.01M153.7 228.5h.01M165.9 233.1h.01M161.3 228.8h.01M166.1 223.6h.01M157.9 233.2h.01M164.4 227.1h.01M153.7 235.6h.01M162.0 227.8h.01M162.2 233.2h.01M153.7 235.6h.01M164.4 223.9h.01M164.7 224.8h.01M167.4 231.0h.01M172.5 227.2h.01M162.1 233.7h.01M158.1 229.0h.01M159.7 230.6h.01M156.4 232.8h.01M164.3 230.4h.01M169.9 228.4h.01M167.8 228.1h.01M164.5 224.3h.01M162.5 229.9h.01M158.9 229.1h.01M159.6 228.7h.01M153.7 230.4h.01M158.7 229.4h.01M156.3 230.9h.01M165.4 229.3h.01M159.7 235.0h.01M166.8 232.7h.01M167.2 228.8h.01M161.4 234.0h.01M158.8 230.6h.01M163.6 231.4h.01M160.6 233.7h.01M161.0 232.9h.01M167.2 231.8h.01M164.7 226.6h.01M154.9 229.7h.01M164.6 234.7h.01M155.7 232.4h.01M157.1 229.0h.01M160.5 232.8h.01M163.1 234.0h.01M157.1 233.9h.01M166.2 230.2h.01M163.7 228.6h.01M156.0 230.2h.01M159.6 235.6h.01M159.9 235.6h.01M162.7 231.4h.01M165.0 227.8h.01M166.3 231.1h.01M154.3 233.4h.01M164.5 231.6h.01M169.3 228.3h.01M164.4 232.5h.01M157.6 234.8h.01M153.9 227.7h.01M163.7 227.0h.01M160.3 225.8h.01M161.5 227.2h.01M162.7 225.8h.01M163.7 229.5h.01M161.9 230.4h.01M161.7 226.6h.01M153.7 232.5h.01M156.8 229.9h.01M162.9 224.4h.01M157.6 229.3h.01M156.5 232.3h.01M160.6 228.3h.01M157.1 233.7h.01M158.6 232.8h.01M163.0 224.7h.01M156.2 231.4h.01M163.6 232.7h.01M166.0 233.1h.01M159.7 230.2h.01M165.3 228.8h.01M166.2 225.1h.01M164.8 229.6h.01M153.7 234.9h.01M163.1 230.4h.01M156.1 230.0h.01M168.7 227.1h.01M153.7 230.5h.01M155.6 231.0h.01M159.3 228.2h.01M157.9 234.3h.01M155.3 235.6h.01M158.5 227.7h.01M165.7 231.7h.01M156.7 233.6h.01M153.7 229.1h.01M167.1 229.1h.01M155.4 233.0h.01M166.1 229.9h.01M153.7 230.8h.01M164.0 232.6h.01M170.7 228.6h.01M159.2 230.8h.01M167.2 227.0h.01M166.9 221.5h.01M165.3 228.0h.01M164.2 232.3h.01M155.7 231.2h.01M163.0 232.2h.01M156.6 228.3h.01M153.7 235.6h.01M160.6 230.1h.01M154.6 234.4h.01M159.6 235.2h.01M165.8 230.1h.01M164.7 226.8h.01M159.7 229.1h.01M155.3 231.5h.01M161.5 235.0h.01M153.7 230.9h.01M156.9 229.9h.01M163.9 231.5h.01M161.5 229.2h.01M164.2 231.3h.01M153.7 231.1h.01M154.3 228.0h.01M162.4 230.7h.01M161.8 227.9h.01M160.2 228.0h.01M163.8 232.4h.01M170.8 233.1h.01M157.4 229.8h.01M157.1 232.2h.01M171.7 231.3h.01M153.7 228.4h.01M155.4 233.0h.01M161.7 231.5h.01M170.1 226.9h.01M158.2 235.6h.01M163.0 228.0h.01M153.7 227.5h.01M153.7 232.5h.01M162.2 233.5h.01M160.6 228.6h.01M158.7 235.6h.01M153.7 232.3h.01M162.0 232.4h.01M159.8 232.4h.01M165.6 229.6h.01M159.3 230.4h.01M156.7 230.7h.01M160.2 231.4h.01M168.8 233.6h.01M159.6 232.7h.01M163.4 232.7h.01M161.8 231.4h.01M159.0 228.6h.01M166.5 233.9h.01M165.1 231.4h.01M162.7 229.1h.01M153.7 233.8h.01M162.4 228.8h.01M157.4 235.1h.01M153.7 235.6h.01M165.8 235.6h.01M158.0 231.0h.01M159.2 231.4h.01M160.2 228.5h.01M166.6 227.5h.01M159.3 232.6h.01M158.8 229.7h.01M163.2 229.3h.01M155.4 231.2h.01M161.2 235.6h.01M156.6 234.2h.01M157.6 230.1h.01M160.1 231.6h.01M166.6 235.2h.01M159.0 235.0h.01M166.9 232.3h.01M158.2 233.8h.01M161.2 231.7h.01M160.5 232.8h.01M167.6 233.2h.01M161.0 233.7h.01M168.4 226.8h.01M168.3 225.6h.01M164.5 232.0h.01M169.1 230.4h.01M158.9 228.6h.01M155.7 233.7h.01M160.1 228.6h.01M163.9 228.0h.01M159.2 229.5h.01M170.4 233.8h.01M160.2 226.0h.01M163.0 230.6h.01M163.6 232.0h.01M160.4 233.6h.01M165.8 230.6h.01M159.4 229.5h.01M164.6 226.9h.01M160.5 228.5h.01M155.0 233.4h.01M161.5 230.7h.01M165.3 225.6h.01M161.4 231.5h.01M165.3 226.8h.01M165.2 230.8h.01M168.8 233.0h.01M165.2 235.6h.01M161.4 229.3h.01M159.5 228.0h.01M160.7 225.0h.01M161.4 231.9h.01M166.4 228.9h.01M168.2 227.7h.01M160.1 225.1h.01M157.5 228.8h.01M169.0 231.1h.01M156.5 232.9h.01M163.8 229.6h.01M161.6 229.7h.01M158.3 225.8h.01M161.7 234.4h.01M168.4 228.8h.01M157.9 230.5h.01M166.1 231.0h.01M158.9 232.0h.01M160.8 232.2h.01M159.0 226.6h.01M162.2 232.8h.01M156.2 231.0h.01M165.7 228.9h.01M159.3 235.6h.01M166.0 233.0h.01M157.7 235.6h.01M153.7 230.2h.01M165.7 233.9h.01M156.8 229.3h.01M161.8 224.9h.01M164.9 231.8h.01M159.7 232.5h.01M165.5 231.0h.01M164.7 234.6h.01M159.4 231.4h.01M159.5 233.9h.01M159.8 232.2h.01M162.3 230.7h.01M169.8 229.2h.01M168.7 232.0h.01M167.9 229.2h.01M166.4 232.1h.01M158.8 231.8h.01M161.0 230.6h.01M167.5 227.7h.01M153.7 226.7h.01M159.2 229.1h.01M161.9 232.2h.01M170.1 230.3h.01M163.5 228.2h.01M164.9 234.1h.01M167.2 224.1h.01M166.5 234.5h.01M164.9 225.8h.01M160.4 232.5h.01M163.3 228.0h.01M157.7 234.0h.01M155.8 235.6h.01M161.8 231.4h.01M155.0 229.8h.01M164.3 225.9h.01M170.9 225.2h.01M155.8 231.5h.01M164.2 232.4h.01M159.7 230.3h.01M160.2 229.1h.01M153.7 235.1h.01M162.9 230.9h.01M158.7 231.7h.01M161.5 230.4h.01M166.2 224.9h.01M162.4 227.4h.01" stroke="#555" stroke-width="1.1" stroke-linecap="round" fill="none" opacity="0.28"/>
</g>
<rect x="153.10" y="192.30" width="42.20" height="43.80" fill="none" stroke="#555" stroke-width="0.6"/>
<line x1="168.10" y1="192.30" x2="168.10" y2="236.10" stroke="#777" stroke-width="0.5"/>
<line x1="153.10" y1="225.30" x2="195.30" y2="225.30" stroke="#777" stroke-width="0.5"/>
<line x1="160.10" y1="235.90" x2="187.10" y2="235.90" stroke="#222" stroke-width="1.0"/>
<line x1="153.40" y1="224.10" x2="153.40" y2="235.10" stroke="#444" stroke-width="0.8"/>
<text x="154.40" y="196.50" font-size="2.8" fill="#555">0.19</text>
<text x="154.40" y="234.50" font-size="2.8" fill="#444">98.1</text>
<text x="194.30" y="234.50" font-size="2.8" text-anchor="end" fill="#444">1.62</text>
<text x="193.10" y="198.50" font-size="4.6" text-anchor="end" fill="#444">0.14</text>
<text x="151.50" y="194.30" font-size="3.0" text-anchor="end" fill="#444">10</text>
<text x="152.90" y="192.70" font-size="2.0" text-anchor="end" fill="#444">4</text>
<text x="151.50" y="215.50" font-size="3.0" text-anchor="end" fill="#444">10</text>
<text x="152.90" y="213.90" font-size="2.0" text-anchor="end" fill="#444">2</text>
<text x="151.50" y="237.10" font-size="3.0" text-anchor="end" fill="#444">10</text>
<text x="152.90" y="235.50" font-size="2.0" text-anchor="end" fill="#444">0</text>
<clipPath id="cp03"><rect x="202.0" y="192.3" width="42.2" height="43.8"/></clipPath>
<g clip-path="url(#cp03)">
<ellipse cx="212.0" cy="228.8" rx="11.5" ry="8.3" fill="url(#rg)" opacity="1.00" transform="rotate(-30 212.0 228.8)"/>
<path d="M213.3 234.1h.01M207.3 231.1h.01M211.2 233.1h.01M205.0 226.1h.01M213.5 226.5h.01M212.5 232.8h.01M207.7 229.8h.01M213.3 229.7h.01M211.6 233.1h.01M220.6 222.2h.01M216.1 218.0h.01M217.3 224.4h.01M212.0 227.5h.01M207.1 226.5h.01M212.6 233.6h.01M216.1 225.0h.01M208.6 228.0h.01M210.1 235.6h.01M215.0 227.6h.01M208.2 226.9h.01M218.8 228.0h.01M209.7 234.0h.01M208.5 233.4h.01M207.3 229.9h.01M214.8 228.9h.01M214.8 223.9h.01M220.9 229.0h.01M212.8 230.2h.01M208.5 230.2h.01M206.7 232.2h.01M215.2 232.3h.01M217.3 229.0h.01M210.1 229.0h.01M211.0 230.3h.01M205.3 235.6h.01M204.6 231.0h.01M211.2 227.2h.01M218.7 224.5h.01M220.6 228.5h.01M210.6 231.2h.01M216.8 224.7h.01M211.4 226.9h.01M211.6 227.6h.01M214.1 231.6h.01M218.0 225.9h.01M214.3 230.9h.01M209.0 226.3h.01M215.0 223.3h.01M214.2 223.7h.01M217.8 221.3h.01M218.1 231.3h.01M210.6 235.6h.01M205.5 225.5h.01M216.2 229.2h.01M206.8 221.7h.01M211.2 228.0h.01M209.9 228.8h.01M203.6 231.4h.01M222.2 229.1h.01M209.3 227.5h.01M215.5 231.0h.01M213.0 223.6h.01M212.9 228.8h.01M220.0 228.9h.01M216.3 231.2h.01M213.0 234.4h.01M210.9 231.0h.01M214.2 223.9h.01M206.0 225.2h.01M212.6 228.2h.01M211.5 231.1h.01M203.2 233.8h.01M211.9 227.8h.01M218.3 232.1h.01M208.5 227.1h.01M209.6 230.5h.01M212.9 224.8h.01M214.4 223.3h.01M216.2 228.1h.01M217.7 234.1h.01M210.6 228.9h.01M215.5 230.2h.01M206.9 232.8h.01M210.0 232.5h.01M217.8 225.7h.01M211.9 229.6h.01M202.6 235.6h.01M214.6 227.9h.01M209.1 227.6h.01M213.4 232.9h.01M213.9 233.1h.01M202.6 233.6h.01M213.1 228.1h.01M204.0 230.8h.01M215.0 221.9h.01M206.0 227.9h.01M210.8 232.0h.01M211.0 221.3h.01M217.0 223.5h.01M212.4 235.2h.01M209.5 225.3h.01M208.1 228.2h.01M207.2 230.2h.01M216.3 227.7h.01M211.1 235.6h.01M208.1 231.5h.01M213.4 231.0h.01M211.4 231.0h.01M220.9 224.0h.01M208.1 232.4h.01M208.0 229.6h.01M213.4 229.4h.01M212.3 232.0h.01M208.9 225.4h.01M215.0 225.6h.01M215.9 223.9h.01M214.9 228.4h.01M202.6 230.8h.01M209.8 235.6h.01M205.7 235.6h.01M217.4 227.7h.01M213.9 225.7h.01M212.3 229.5h.01M215.0 229.9h.01M209.9 227.2h.01M210.4 231.4h.01M202.9 229.0h.01M209.3 228.1h.01M206.3 221.5h.01M210.1 228.9h.01M211.8 221.0h.01M211.5 231.0h.01M216.1 231.2h.01M214.6 223.1h.01M214.1 226.3h.01M211.3 235.3h.01M207.9 227.8h.01M208.8 227.2h.01M216.8 227.5h.01M218.5 226.7h.01M211.3 233.4h.01M208.5 229.0h.01M211.4 229.3h.01M215.9 224.1h.01M213.4 227.9h.01M204.9 228.5h.01M211.8 230.5h.01M214.2 229.5h.01M211.4 227.3h.01M212.0 224.8h.01M205.8 231.0h.01M205.1 230.7h.01M207.9 228.9h.01M210.4 226.5h.01M207.3 224.7h.01M211.1 225.8h.01M208.8 219.3h.01M209.1 231.5h.01M202.6 233.6h.01M212.6 228.9h.01M206.2 233.1h.01M210.9 225.5h.01M215.0 226.9h.01M211.3 227.4h.01M214.5 227.8h.01M217.5 227.4h.01M209.0 229.6h.01M215.2 225.5h.01M214.5 229.4h.01M207.2 222.2h.01M212.9 229.1h.01M211.2 226.2h.01M216.8 225.5h.01M208.1 228.1h.01M211.6 224.6h.01M211.3 235.6h.01M219.3 228.8h.01M218.8 227.3h.01M207.0 235.6h.01M218.0 227.3h.01M206.0 235.6h.01M216.9 224.0h.01M213.9 230.8h.01M213.6 232.3h.01M213.5 230.7h.01M209.8 224.1h.01M213.3 235.6h.01M215.5 232.1h.01M219.8 231.2h.01M213.3 225.7h.01M208.7 223.0h.01M212.8 232.0h.01M203.3 234.6h.01M217.8 230.8h.01M207.0 229.1h.01M202.6 230.3h.01M217.9 233.8h.01M209.6 235.6h.01M212.9 226.3h.01M216.8 215.8h.01M212.1 229.6h.01M224.1 229.1h.01M221.8 223.7h.01M218.5 230.5h.01M214.8 228.6h.01M210.5 228.0h.01M210.2 235.6h.01M206.5 223.6h.01M213.1 228.1h.01M215.9 233.9h.01M211.1 228.3h.01M208.8 230.5h.01M210.5 230.5h.01M225.8 222.4h.01M211.8 235.6h.01M217.1 229.2h.01M216.4 229.5h.01M217.3 231.4h.01M218.6 230.4h.01M209.9 230.0h.01M210.6 233.5h.01M214.7 225.4h.01M219.1 235.3h.01M215.3 222.4h.01M212.7 231.0h.01M212.5 230.1h.01M217.5 226.9h.01M208.6 233.6h.01M211.8 229.4h.01M207.2 226.0h.01M206.1 230.8h.01M202.7 223.2h.01M214.8 222.5h.01M209.9 232.2h.01M204.2 235.6h.01M209.9 232.7h.01M210.5 230.9h.01M212.4 228.5h.01M202.6 228.8h.01M214.3 233.2h.01M210.6 231.7h.01M213.5 229.9h.01M213.6 221.8h.01M212.8 227.6h.01M209.2 227.0h.01M206.9 227.6h.01M211.8 235.6h.01M219.2 224.7h.01M213.4 224.0h.01M202.6 230.0h.01M215.1 232.8h.01M210.1 225.9h.01M209.2 226.4h.01M205.7 231.5h.01M208.9 227.3h.01M206.6 228.1h.01M215.4 232.5h.01M215.0 235.6h.01M205.7 233.6h.01M206.8 231.1h.01M213.4 230.2h.01M215.8 224.4h.01M206.4 231.3h.01M212.0 226.0h.01M218.7 231.7h.01M206.6 233.4h.01M212.9 220.5h.01M212.5 227.6h.01M208.3 235.6h.01M212.1 226.8h.01M215.0 229.7h.01M216.3 228.7h.01M211.7 224.2h.01M210.4 230.2h.01M204.1 235.6h.01M208.5 226.5h.01M204.8 234.0h.01M211.1 226.9h.01M208.7 227.1h.01M208.7 230.3h.01M210.5 232.4h.01M211.6 229.5h.01M215.9 231.7h.01M214.9 228.0h.01M209.9 226.7h.01M211.8 231.7h.01M212.3 227.1h.01M203.7 227.4h.01M215.2 231.1h.01M211.2 223.7h.01M211.5 230.0h.01M208.7 232.1h.01M209.7 226.8h.01M208.2 234.3h.01M211.9 225.2h.01M209.3 234.0h.01M214.0 226.4h.01M218.2 224.0h.01M209.5 234.7h.01M211.8 230.3h.01M210.4 225.7h.01M206.7 231.1h.01M216.2 222.3h.01M218.1 226.2h.01M207.8 232.3h.01M212.8 224.7h.01M203.6 235.1h.01M208.1 232.8h.01M203.7 233.0h.01M206.0 226.3h.01M211.3 229.9h.01M207.6 226.6h.01M209.8 223.0h.01M215.1 229.0h.01M220.6 227.4h.01M214.0 228.7h.01M209.8 224.7h.01M219.1 226.8h.01M208.8 226.0h.01M219.2 226.8h.01M208.2 233.7h.01M219.9 224.1h.01M213.0 226.6h.01M211.2 233.6h.01M225.2 221.7h.01M212.9 231.5h.01M212.0 231.7h.01M213.7 223.7h.01M207.4 231.2h.01M216.0 227.6h.01M214.8 221.6h.01M213.0 225.7h.01M213.0 229.5h.01M207.5 230.5h.01M207.6 232.4h.01M207.6 229.4h.01M211.8 226.3h.01M215.7 224.1h.01M216.1 227.6h.01M207.3 230.6h.01M207.9 229.7h.01M214.0 235.0h.01M213.0 234.6h.01M211.6 223.8h.01M203.5 235.6h.01M204.9 235.6h.01M217.0 227.5h.01M210.7 228.5h.01M212.6 227.3h.01M209.1 229.0h.01M215.8 224.1h.01M211.6 224.4h.01M206.6 226.4h.01M212.4 231.3h.01M212.4 226.6h.01M214.0 226.3h.01M214.0 228.7h.01M210.0 220.0h.01M207.9 234.3h.01M215.5 235.6h.01M210.1 227.7h.01M219.2 226.9h.01M220.8 225.7h.01M212.4 231.5h.01M207.9 229.4h.01M209.3 229.5h.01M214.4 225.5h.01M212.5 226.5h.01M210.9 218.4h.01M211.4 229.8h.01M209.2 234.5h.01M215.1 232.1h.01M217.1 228.4h.01M209.5 225.9h.01M210.3 227.9h.01M212.2 226.8h.01M222.0 216.6h.01M216.1 224.5h.01M212.6 232.2h.01M209.9 225.1h.01M213.4 227.2h.01M203.7 234.4h.01M206.3 229.1h.01M214.5 228.5h.01M214.6 235.6h.01M212.7 225.9h.01M212.8 227.9h.01M202.6 229.4h.01M209.8 235.6h.01M210.8 228.4h.01M211.3 233.1h.01M215.1 233.9h.01M218.2 231.8h.01M212.2 230.2h.01M209.9 229.3h.01M203.8 231.2h.01M206.9 229.1h.01M217.5 226.7h.01M218.6 228.4h.01M217.6 229.6h.01M210.9 232.7h.01M209.7 228.0h.01M220.7 232.4h.01M210.9 235.6h.01M214.0 224.3h.01M213.8 229.3h.01M212.9 226.8h.01M206.7 232.0h.01M217.0 229.1h.01M216.7 230.5h.01M207.8 231.1h.01M215.2 231.0h.01M213.5 230.0h.01M216.2 234.8h.01M202.8 234.0h.01M222.7 223.5h.01M204.6 233.6h.01M204.8 230.2h.01M215.9 233.4h.01M215.1 229.7h.01" stroke="#555" stroke-width="1.1" stroke-linecap="round" fill="none" opacity="0.28"/>
</g>
<rect x="202.00" y="192.30" width="42.20" height="43.80" fill="none" stroke="#555" stroke-width="0.6"/>
<line x1="217.00" y1="192.30" x2="217.00" y2="236.10" stroke="#777" stroke-width="0.5"/>
<line x1="202.00" y1="225.30" x2="244.20" y2="225.30" stroke="#777" stroke-width="0.5"/>
<line x1="209.00" y1="235.90" x2="236.00" y2="235.90" stroke="#222" stroke-width="1.0"/>
<line x1="202.30" y1="224.10" x2="202.30" y2="235.10" stroke="#444" stroke-width="0.8"/>
<text x="203.30" y="196.50" font-size="2.8" fill="#555">1.96</text>
<text x="203.30" y="234.50" font-size="2.8" fill="#444">95.2</text>
<text x="243.20" y="234.50" font-size="2.8" text-anchor="end" fill="#444">1.65</text>
<text x="242.00" y="198.50" font-size="4.6" text-anchor="end" fill="#444">1.17</text>
<text x="200.40" y="194.30" font-size="3.0" text-anchor="end" fill="#444">10</text>
<text x="201.80" y="192.70" font-size="2.0" text-anchor="end" fill="#444">4</text>
<text x="200.40" y="215.50" font-size="3.0" text-anchor="end" fill="#444">10</text>
<text x="201.80" y="213.90" font-size="2.0" text-anchor="end" fill="#444">2</text>
<text x="200.40" y="237.10" font-size="3.0" text-anchor="end" fill="#444">10</text>
<text x="201.80" y="235.50" font-size="2.0" text-anchor="end" fill="#444">0</text>
<clipPath id="cp10"><rect x="55.3" y="241.3" width="42.2" height="43.8"/></clipPath>
<g clip-path="url(#cp10)">
<ellipse cx="74.3" cy="270.3" rx="20.7" ry="8.5" fill="url(#rg)" opacity="0.80" transform="rotate(-58 74.3 270.3)"/>
<ellipse cx="65.3" cy="279.8" rx="13.8" ry="6.4" fill="url(#rg)" opacity="0.56" transform="rotate(-8 65.3 279.8)"/>
<path d="M79.6 263.2h.01M70.1 276.4h.01M75.0 267.3h.01M70.1 274.5h.01M64.3 279.4h.01M72.8 270.3h.01M78.7 272.7h.01M75.6 268.0h.01M65.7 276.9h.01M73.4 265.9h.01M73.0 265.1h.01M74.7 269.2h.01M77.7 262.2h.01M73.3 273.5h.01M79.7 273.1h.01M71.5 271.2h.01M74.3 273.5h.01M77.5 269.9h.01M75.4 284.6h.01M82.7 256.7h.01M69.2 279.5h.01M69.5 263.0h.01M69.9 267.4h.01M80.6 269.5h.01M74.5 259.9h.01M83.4 261.9h.01M74.2 273.9h.01M80.3 258.5h.01M72.5 269.4h.01M73.1 257.7h.01M77.9 258.0h.01M73.6 260.4h.01M68.2 276.1h.01M73.2 261.2h.01M75.1 264.7h.01M79.1 260.6h.01M76.0 266.4h.01M81.4 256.5h.01M80.2 274.2h.01M76.7 271.0h.01M71.5 276.1h.01M64.2 284.6h.01M66.8 272.2h.01M71.2 282.9h.01M71.7 264.3h.01M80.5 255.7h.01M73.4 273.5h.01M64.2 275.6h.01M74.4 278.0h.01M73.9 260.3h.01M79.9 261.5h.01M76.8 266.7h.01M73.2 265.4h.01M68.0 275.7h.01M74.5 274.2h.01M73.5 282.2h.01M69.6 273.8h.01M78.8 266.0h.01M69.5 270.8h.01M64.9 274.6h.01M82.8 263.9h.01M84.4 257.5h.01M78.1 269.3h.01M77.9 262.8h.01M82.4 271.8h.01M62.3 280.1h.01M72.2 278.8h.01M78.7 260.9h.01M77.2 265.3h.01M74.0 267.1h.01M74.2 270.5h.01M86.2 266.2h.01M67.6 284.6h.01M77.2 272.2h.01M81.5 264.0h.01M75.1 262.6h.01M71.5 284.6h.01M77.0 259.6h.01M82.2 262.1h.01M65.7 284.6h.01M73.3 279.8h.01M68.9 273.9h.01M66.5 281.2h.01M76.9 261.6h.01M72.2 284.6h.01M84.9 258.0h.01M68.2 272.0h.01M68.5 283.4h.01M77.1 258.7h.01M73.5 269.8h.01M74.6 273.1h.01M82.0 253.7h.01M81.5 266.1h.01M72.5 272.1h.01M71.4 282.2h.01M69.9 273.0h.01M72.0 268.2h.01M68.6 277.4h.01M80.5 259.0h.01M72.3 263.7h.01M70.8 284.6h.01M67.8 270.3h.01M75.7 272.2h.01M63.7 281.3h.01M72.7 266.6h.01M80.9 266.3h.01M75.0 266.2h.01M72.2 269.4h.01M74.7 271.9h.01M75.9 274.4h.01M84.6 250.2h.01M78.4 269.3h.01M76.5 265.1h.01M75.1 275.7h.01M78.7 266.7h.01M72.5 277.4h.01M77.4 264.1h.01M83.9 269.6h.01M67.5 284.6h.01M64.8 276.3h.01M74.9 273.1h.01M71.0 267.7h.01M66.0 279.9h.01M71.8 268.6h.01M72.7 284.6h.01M70.0 276.2h.01M70.0 273.2h.01M73.6 269.4h.01M73.6 263.5h.01M73.4 284.6h.01M76.3 272.3h.01M81.4 262.6h.01M69.7 267.1h.01M69.9 284.0h.01M79.2 266.4h.01M60.2 278.5h.01M65.8 275.9h.01M71.9 267.2h.01M79.7 257.4h.01M74.3 276.1h.01M73.1 266.2h.01M83.9 267.9h.01M67.9 278.9h.01M63.4 274.6h.01M79.3 267.0h.01M80.1 263.9h.01M64.9 284.6h.01M67.6 273.0h.01M71.5 280.0h.01M78.9 276.2h.01M70.7 263.2h.01M82.2 266.1h.01M70.7 267.8h.01M78.5 254.7h.01M68.1 267.3h.01M63.3 276.4h.01M82.9 264.5h.01M68.3 270.7h.01M75.2 271.5h.01M63.7 279.4h.01M76.0 272.4h.01M76.0 270.6h.01M60.9 274.8h.01M72.9 266.2h.01M72.6 270.5h.01M74.2 265.2h.01M81.1 259.6h.01M78.7 267.6h.01M80.4 263.3h.01M64.2 282.1h.01M84.4 257.3h.01M78.3 267.0h.01M69.2 273.8h.01M74.8 277.3h.01M81.5 271.0h.01M82.4 270.2h.01M72.8 264.6h.01M83.5 257.9h.01M80.5 261.8h.01M73.3 273.1h.01M65.4 276.4h.01M68.5 275.9h.01M67.6 280.2h.01M82.0 271.9h.01M82.8 256.4h.01M77.8 263.3h.01M76.0 267.3h.01M72.0 274.5h.01M68.7 282.2h.01M69.6 270.4h.01M74.3 274.1h.01M72.6 276.3h.01M81.8 269.0h.01M68.9 278.2h.01M81.3 269.4h.01M77.9 269.8h.01M65.6 280.2h.01M81.2 257.3h.01M82.2 252.6h.01M68.1 269.3h.01M78.1 266.0h.01M84.3 255.4h.01M68.8 269.5h.01M76.8 272.7h.01M81.6 267.1h.01M78.2 263.7h.01M77.7 266.1h.01M73.3 283.7h.01M72.8 265.4h.01M77.0 268.0h.01M83.5 265.6h.01M61.7 284.6h.01M78.6 256.9h.01M66.4 284.6h.01M77.0 268.4h.01M67.6 277.8h.01M77.5 270.3h.01M85.6 254.3h.01M64.1 270.3h.01M79.0 261.9h.01M70.7 269.2h.01M72.2 261.3h.01M75.2 269.7h.01M79.8 270.6h.01M74.1 271.2h.01M73.5 260.8h.01M73.1 272.6h.01M76.3 261.5h.01M79.3 265.0h.01M62.7 278.7h.01M68.0 281.4h.01M77.5 270.1h.01M76.5 263.0h.01M81.9 263.8h.01M78.0 267.7h.01M69.3 280.8h.01M65.7 275.8h.01M73.1 273.2h.01M73.0 270.1h.01M70.1 278.2h.01M66.4 273.2h.01M79.3 272.4h.01M69.1 271.3h.01M86.2 263.1h.01M72.2 272.1h.01M84.5 274.4h.01M78.0 271.2h.01M70.7 263.4h.01M65.2 276.3h.01M76.7 267.2h.01M82.0 256.2h.01M76.0 268.1h.01M82.2 273.8h.01M80.3 271.0h.01M78.6 259.3h.01M76.4 264.3h.01M75.3 269.8h.01M72.9 269.2h.01M80.9 257.9h.01M82.9 268.2h.01M80.5 267.5h.01M84.3 261.9h.01M78.0 254.4h.01M83.7 255.5h.01M64.0 282.3h.01M67.6 280.9h.01M64.1 279.7h.01M76.2 268.4h.01M69.8 275.9h.01M74.1 271.2h.01M73.6 269.9h.01M73.5 260.5h.01M72.4 274.3h.01M70.7 272.3h.01M72.9 274.0h.01M79.6 260.4h.01M74.1 273.0h.01M67.1 268.4h.01M74.4 267.5h.01M73.5 275.9h.01M72.7 268.9h.01M58.5 283.5h.01M74.0 270.0h.01M77.1 267.4h.01M68.1 271.5h.01M68.6 278.4h.01M71.2 280.5h.01M62.4 276.9h.01M67.8 268.3h.01M78.9 255.9h.01M73.3 270.2h.01M64.8 273.1h.01M68.1 284.6h.01M86.0 266.7h.01M69.1 282.6h.01M76.9 272.1h.01M74.1 275.6h.01M80.5 264.7h.01M80.7 258.9h.01M79.5 257.1h.01M73.6 252.2h.01M71.9 268.6h.01M77.5 272.3h.01M78.0 265.0h.01M77.8 254.4h.01M75.2 279.5h.01M69.4 263.7h.01M72.2 265.4h.01M84.9 261.3h.01M75.8 277.0h.01M73.2 278.5h.01M76.7 265.6h.01M66.6 280.6h.01M61.6 284.6h.01M69.3 284.6h.01M62.1 272.9h.01M78.2 266.6h.01M78.5 278.3h.01M78.2 264.5h.01M62.0 269.4h.01M79.6 268.5h.01M67.0 272.0h.01M68.9 267.3h.01M76.8 271.8h.01M82.3 259.3h.01M77.6 270.3h.01M80.0 259.0h.01M66.0 278.1h.01M65.5 278.2h.01M74.8 271.9h.01M75.3 269.2h.01M73.9 273.9h.01M80.9 265.0h.01M80.5 258.3h.01M78.4 275.5h.01M76.6 269.6h.01M75.7 274.8h.01M69.2 271.4h.01M72.6 269.9h.01M77.1 263.2h.01M74.2 268.9h.01M73.9 266.5h.01M75.1 259.1h.01M70.2 271.9h.01M77.5 265.4h.01M75.6 266.0h.01M67.4 273.6h.01M71.0 271.8h.01M76.7 268.9h.01M78.6 262.6h.01M67.4 273.9h.01M75.7 270.5h.01M84.2 255.8h.01M88.6 260.6h.01M73.1 280.7h.01M83.9 264.3h.01M77.2 272.2h.01M71.8 273.8h.01M80.0 273.6h.01M76.3 273.8h.01M72.4 268.4h.01M77.5 269.7h.01M72.9 277.0h.01M68.2 274.0h.01M74.6 268.2h.01M64.5 274.6h.01M75.2 270.6h.01M72.7 274.2h.01M68.2 282.7h.01M77.2 267.7h.01M71.6 275.1h.01M78.3 271.4h.01M76.4 268.7h.01M73.6 277.5h.01M78.3 260.4h.01M78.3 266.0h.01M70.0 268.1h.01M76.8 253.2h.01M74.6 267.3h.01M78.4 260.7h.01M76.4 271.2h.01M74.8 265.8h.01M78.8 265.9h.01M77.4 261.8h.01M72.9 269.9h.01M71.1 277.2h.01M80.7 270.0h.01M74.0 273.5h.01M79.4 261.4h.01M75.0 270.1h.01M67.9 273.6h.01M80.2 262.1h.01M70.1 268.4h.01M78.5 271.7h.01M66.0 277.3h.01M84.0 264.7h.01M80.0 257.4h.01M74.8 264.3h.01M75.6 265.6h.01M79.4 271.4h.01M75.2 267.3h.01M75.4 270.4h.01M72.5 274.6h.01M82.0 268.8h.01M60.8 283.6h.01M71.2 281.4h.01M86.5 252.2h.01M78.4 271.6h.01M62.2 284.6h.01M60.0 284.6h.01M70.4 273.2h.01M74.1 266.6h.01M79.6 261.9h.01M84.0 272.4h.01M75.1 275.5h.01M74.3 279.0h.01M79.3 263.3h.01M84.0 265.9h.01M80.8 259.9h.01M77.5 272.9h.01M65.5 280.3h.01M78.4 267.7h.01M88.6 259.6h.01M77.2 268.7h.01M67.5 279.9h.01M74.8 267.9h.01M76.5 271.0h.01M68.0 276.4h.01M69.5 284.6h.01M64.0 275.0h.01M77.3 264.1h.01M77.7 262.3h.01M86.6 255.6h.01M75.4 269.4h.01M75.8 273.4h.01M82.4 254.4h.01M71.0 279.7h.01M74.7 259.4h.01M67.9 273.6h.01M78.5 267.0h.01M67.3 273.7h.01M71.1 261.2h.01M76.9 265.1h.01M86.4 257.8h.01M70.7 274.1h.01M70.7 271.0h.01M77.7 271.6h.01M66.5 281.2h.01M83.6 260.5h.01M68.0 274.9h.01M65.3 273.6h.01M79.9 261.8h.01M66.6 272.8h.01M70.9 272.2h.01M81.0 256.5h.01M78.2 271.5h.01M76.9 264.9h.01M68.4 284.6h.01M75.8 265.0h.01M70.9 269.1h.01M65.5 274.2h.01M78.3 267.5h.01M77.5 270.5h.01M77.2 266.5h.01M72.0 278.1h.01M81.8 262.6h.01M78.7 260.0h.01M73.6 280.1h.01M72.3 275.1h.01M73.5 271.8h.01M71.4 271.3h.01M71.8 284.6h.01M69.3 265.1h.01M66.6 274.9h.01M63.0 271.0h.01M82.0 269.1h.01M75.4 273.6h.01M73.3 263.4h.01M74.8 257.9h.01M70.5 273.9h.01M72.7 279.1h.01M64.3 277.7h.01M65.8 279.8h.01M70.1 283.0h.01M69.6 279.2h.01M65.0 284.3h.01M66.5 279.6h.01M76.4 282.6h.01M68.6 279.0h.01M62.0 283.2h.01M63.0 282.8h.01M60.8 280.7h.01M67.7 279.9h.01M66.8 280.6h.01M58.3 277.7h.01M65.1 284.6h.01M64.2 277.4h.01M61.5 280.4h.01M72.0 277.3h.01M68.6 279.8h.01M62.9 277.5h.01M64.1 278.0h.01M67.8 274.6h.01M72.1 280.9h.01M69.2 283.4h.01M68.2 274.7h.01M65.8 281.0h.01M60.9 277.3h.01M68.0 280.8h.01M62.7 279.5h.01M62.1 278.7h.01M65.4 282.8h.01M55.9 280.2h.01M74.8 279.3h.01M66.5 281.9h.01M59.0 277.3h.01M55.9 277.2h.01M67.1 281.9h.01M62.6 278.3h.01M67.9 281.1h.01M66.1 274.4h.01M61.2 273.4h.01M66.4 277.3h.01M62.1 284.4h.01M73.1 280.0h.01M67.0 280.0h.01M61.9 280.1h.01M76.0 275.9h.01M61.5 280.8h.01M70.8 281.3h.01M59.7 280.2h.01M63.3 276.7h.01M65.6 278.4h.01M70.8 280.2h.01M60.8 280.7h.01M63.0 278.4h.01M62.9 283.1h.01M62.3 275.5h.01M61.1 282.6h.01M77.3 275.2h.01M63.1 279.2h.01M57.3 282.0h.01M65.1 280.6h.01M78.1 277.3h.01M70.2 281.4h.01M61.4 278.7h.01M74.6 280.5h.01M65.7 276.7h.01M70.6 280.5h.01M78.6 282.0h.01M70.0 279.9h.01M65.5 278.3h.01M67.2 280.2h.01M69.5 282.2h.01M66.9 278.1h.01M70.6 283.3h.01M60.6 281.6h.01M68.7 280.8h.01M68.2 279.1h.01M65.4 284.4h.01M74.8 274.6h.01M55.9 283.0h.01M61.2 279.0h.01M56.2 282.0h.01M64.8 278.4h.01M71.4 284.6h.01M74.3 281.8h.01M63.2 281.9h.01M65.5 282.9h.01M68.7 279.2h.01M68.2 277.4h.01M70.4 283.2h.01M63.4 281.6h.01M56.0 283.7h.01M70.0 276.3h.01M75.4 278.7h.01M55.9 277.5h.01M70.2 278.4h.01M71.1 274.7h.01M65.1 282.5h.01M61.6 282.2h.01M63.4 281.0h.01M68.0 284.6h.01M58.4 282.9h.01M72.5 275.7h.01M66.6 284.6h.01M70.2 271.0h.01M63.3 275.4h.01M66.8 277.6h.01M61.7 278.0h.01M66.8 278.3h.01M60.0 279.9h.01M67.3 277.2h.01M71.1 274.4h.01M67.5 278.4h.01M74.1 276.8h.01M61.0 276.7h.01M77.0 279.9h.01M58.9 279.8h.01M60.4 284.6h.01M66.9 274.0h.01M66.9 282.1h.01M65.5 281.1h.01M64.7 280.5h.01M66.3 277.7h.01M67.4 280.0h.01M64.8 278.0h.01M59.5 281.3h.01M69.2 272.6h.01M62.7 283.9h.01M70.3 277.1h.01M72.7 276.0h.01M61.5 284.6h.01M62.7 279.6h.01M55.9 278.4h.01M58.5 280.4h.01M55.9 284.2h.01M63.0 278.5h.01M61.9 282.3h.01M74.0 277.5h.01M75.2 282.8h.01M73.2 279.5h.01M56.9 282.8h.01M63.0 280.7h.01M55.9 280.6h.01M66.3 277.1h.01M67.6 284.1h.01M66.4 277.8h.01M78.3 272.1h.01M60.1 281.6h.01M61.0 274.1h.01M67.1 281.8h.01M61.3 284.4h.01M68.6 282.6h.01M56.5 281.0h.01M75.3 283.9h.01M72.9 278.7h.01M66.1 278.0h.01M71.4 277.0h.01M65.2 274.1h.01M57.3 284.6h.01M65.7 280.3h.01M55.9 281.5h.01M76.7 274.1h.01M55.9 281.3h.01M62.1 279.7h.01M57.5 277.2h.01M58.4 282.5h.01M65.3 282.1h.01M59.3 282.3h.01" stroke="#555" stroke-width="1.1" stroke-linecap="round" fill="none" opacity="0.28"/>
</g>
<rect x="55.30" y="241.30" width="42.20" height="43.80" fill="none" stroke="#555" stroke-width="0.6"/>
<line x1="71.50" y1="241.30" x2="71.50" y2="285.10" stroke="#777" stroke-width="0.5"/>
<line x1="55.30" y1="274.30" x2="97.50" y2="274.30" stroke="#777" stroke-width="0.5"/>
<line x1="62.30" y1="284.90" x2="89.30" y2="284.90" stroke="#222" stroke-width="1.0"/>
<line x1="55.60" y1="273.10" x2="55.60" y2="284.10" stroke="#444" stroke-width="0.8"/>
<text x="56.60" y="245.50" font-size="2.8" fill="#555">1.83</text>
<text x="56.60" y="283.50" font-size="2.8" fill="#444">39.4</text>
<text x="96.50" y="283.50" font-size="2.8" text-anchor="end" fill="#444">19.1</text>
<text x="95.10" y="250.90" font-size="10.7" text-anchor="end" font-weight="bold" fill="#000" stroke="#000" stroke-width="0.35" textLength="18.2" lengthAdjust="spacingAndGlyphs">39.7</text>
<text x="53.70" y="243.30" font-size="3.0" text-anchor="end" fill="#444">10</text>
<text x="55.10" y="241.70" font-size="2.0" text-anchor="end" fill="#444">4</text>
<text x="53.70" y="264.50" font-size="3.0" text-anchor="end" fill="#444">10</text>
<text x="55.10" y="262.90" font-size="2.0" text-anchor="end" fill="#444">2</text>
<text x="53.70" y="286.10" font-size="3.0" text-anchor="end" fill="#444">10</text>
<text x="55.10" y="284.50" font-size="2.0" text-anchor="end" fill="#444">0</text>
<clipPath id="cp11"><rect x="103.9" y="241.3" width="42.2" height="43.8"/></clipPath>
<g clip-path="url(#cp11)">
<ellipse cx="114.9" cy="279.3" rx="14.9" ry="6.9" fill="url(#rg)" opacity="0.94" transform="rotate(-12 114.9 279.3)"/>
<ellipse cx="123.9" cy="269.3" rx="16.1" ry="6.0" fill="url(#rg)" opacity="0.46" transform="rotate(-55 123.9 269.3)"/>
<path d="M112.2 280.1h.01M120.7 278.2h.01M111.7 275.0h.01M115.8 281.5h.01M110.9 279.9h.01M104.5 277.8h.01M118.2 282.5h.01M112.0 274.9h.01M111.6 275.3h.01M114.4 284.6h.01M116.7 278.5h.01M121.1 276.8h.01M117.1 279.4h.01M116.8 274.5h.01M119.9 280.9h.01M104.5 274.5h.01M110.2 284.6h.01M115.4 281.2h.01M118.9 281.1h.01M110.6 278.5h.01M117.6 280.6h.01M118.7 279.5h.01M112.6 283.1h.01M118.5 281.7h.01M104.5 284.6h.01M104.5 283.2h.01M110.8 280.5h.01M111.7 279.0h.01M116.3 280.0h.01M108.3 273.1h.01M110.3 281.9h.01M109.9 281.7h.01M112.0 277.1h.01M123.2 282.5h.01M114.2 279.3h.01M120.1 274.2h.01M110.1 283.7h.01M120.2 276.7h.01M110.2 281.4h.01M105.8 279.7h.01M111.9 272.5h.01M119.1 280.7h.01M120.7 273.7h.01M106.3 278.7h.01M108.0 284.6h.01M108.6 279.7h.01M116.5 280.3h.01M123.4 274.2h.01M120.5 278.6h.01M107.6 281.3h.01M107.1 284.6h.01M110.9 283.2h.01M122.7 275.8h.01M109.3 280.9h.01M108.8 283.3h.01M115.5 276.8h.01M111.0 282.3h.01M106.8 284.6h.01M109.8 279.8h.01M110.1 284.6h.01M120.9 282.0h.01M119.1 278.7h.01M126.0 279.0h.01M118.0 280.4h.01M119.7 279.1h.01M112.9 274.9h.01M127.1 272.7h.01M104.5 280.1h.01M127.9 280.3h.01M111.3 280.9h.01M113.5 273.5h.01M113.0 280.6h.01M121.6 274.2h.01M104.5 277.7h.01M117.0 279.1h.01M115.9 279.5h.01M111.7 275.8h.01M118.0 279.8h.01M119.3 282.2h.01M105.6 274.1h.01M104.9 284.6h.01M109.3 281.7h.01M115.3 281.5h.01M135.0 273.5h.01M113.4 277.8h.01M116.8 280.5h.01M109.6 284.5h.01M122.5 279.1h.01M114.1 278.8h.01M104.9 283.4h.01M108.4 279.1h.01M120.7 275.3h.01M112.1 282.5h.01M126.3 274.8h.01M121.5 275.9h.01M117.7 280.2h.01M108.3 283.8h.01M126.4 277.0h.01M115.9 275.5h.01M126.3 277.1h.01M107.3 283.3h.01M105.2 279.3h.01M104.5 284.6h.01M128.6 274.5h.01M110.4 278.5h.01M111.7 281.7h.01M123.5 274.4h.01M116.6 273.4h.01M124.5 277.0h.01M111.4 284.6h.01M115.1 283.5h.01M122.8 282.7h.01M109.8 280.5h.01M117.1 278.2h.01M124.1 275.1h.01M122.1 281.9h.01M104.5 279.1h.01M108.8 278.9h.01M117.3 278.3h.01M115.1 277.8h.01M114.7 280.8h.01M119.2 276.0h.01M113.7 277.2h.01M112.9 275.3h.01M121.4 280.0h.01M113.7 277.5h.01M111.6 278.0h.01M106.1 284.6h.01M135.0 271.2h.01M107.8 282.6h.01M117.8 273.9h.01M104.5 283.5h.01M104.5 284.6h.01M111.8 280.2h.01M114.5 277.7h.01M113.8 278.6h.01M122.8 277.3h.01M114.4 277.8h.01M110.4 278.0h.01M116.1 284.6h.01M122.1 278.5h.01M126.1 280.0h.01M116.1 278.5h.01M108.1 281.5h.01M111.9 275.1h.01M107.9 284.6h.01M116.6 280.5h.01M115.9 277.7h.01M118.5 281.9h.01M113.3 281.2h.01M121.1 276.5h.01M115.5 276.9h.01M118.5 277.4h.01M121.7 275.5h.01M125.4 276.1h.01M109.0 277.8h.01M118.6 275.9h.01M127.2 280.6h.01M117.3 274.4h.01M114.3 277.2h.01M104.5 283.0h.01M128.6 274.8h.01M120.8 282.0h.01M108.6 279.6h.01M116.9 280.3h.01M107.8 281.5h.01M114.8 282.2h.01M104.5 279.8h.01M111.5 279.1h.01M119.1 276.5h.01M131.9 273.5h.01M120.9 281.2h.01M120.9 277.4h.01M109.5 279.7h.01M119.2 278.8h.01M119.0 280.2h.01M108.7 277.8h.01M123.8 275.9h.01M106.0 284.6h.01M109.0 277.7h.01M120.3 274.7h.01M110.0 283.6h.01M111.3 284.6h.01M117.2 284.6h.01M115.8 279.3h.01M110.7 279.5h.01M111.7 279.9h.01M119.0 274.5h.01M107.8 274.4h.01M124.4 277.0h.01M114.8 279.1h.01M121.5 278.9h.01M120.2 277.7h.01M114.1 279.3h.01M104.5 284.6h.01M104.5 278.5h.01M119.2 278.6h.01M121.1 283.2h.01M127.6 280.8h.01M114.7 284.6h.01M109.3 280.2h.01M121.1 277.3h.01M113.9 278.4h.01M122.0 270.2h.01M123.7 280.7h.01M114.8 281.0h.01M109.4 283.9h.01M133.8 272.5h.01M123.7 277.2h.01M112.4 278.3h.01M112.9 275.9h.01M107.3 284.6h.01M115.1 280.9h.01M117.2 280.3h.01M104.6 278.6h.01M119.5 281.4h.01M107.3 279.2h.01M108.5 282.7h.01M117.1 278.9h.01M111.0 281.2h.01M114.6 277.1h.01M116.6 276.9h.01M121.3 279.9h.01M110.9 282.0h.01M114.9 277.1h.01M108.1 275.7h.01M107.9 281.8h.01M122.2 275.8h.01M116.1 280.1h.01M120.1 279.5h.01M123.2 279.9h.01M110.3 281.5h.01M104.5 281.9h.01M115.4 281.0h.01M113.5 282.2h.01M122.8 275.1h.01M111.6 280.8h.01M118.1 279.1h.01M119.4 274.7h.01M120.6 281.7h.01M122.2 279.1h.01M113.6 280.8h.01M113.4 274.7h.01M111.0 280.0h.01M111.0 277.3h.01M113.2 278.5h.01M115.3 279.1h.01M116.6 282.0h.01M116.0 280.3h.01M105.3 272.3h.01M112.8 281.8h.01M112.4 277.9h.01M107.6 283.6h.01M111.7 280.7h.01M122.4 279.3h.01M129.1 275.9h.01M121.4 280.0h.01M110.8 280.3h.01M110.7 277.1h.01M116.3 276.6h.01M125.1 274.9h.01M111.5 280.3h.01M111.6 280.2h.01M110.1 275.9h.01M104.5 278.8h.01M124.9 278.5h.01M115.6 277.7h.01M114.2 280.4h.01M105.6 278.8h.01M110.0 284.2h.01M108.9 284.2h.01M113.6 284.6h.01M114.4 279.5h.01M124.0 280.0h.01M120.2 274.9h.01M123.2 282.7h.01M113.9 278.0h.01M108.6 283.8h.01M116.8 278.9h.01M108.1 284.6h.01M120.5 278.1h.01M123.7 274.5h.01M119.9 275.2h.01M123.7 276.6h.01M122.4 276.4h.01M118.1 282.1h.01M109.2 280.8h.01M110.1 282.9h.01M110.8 279.0h.01M114.3 283.0h.01M108.3 280.6h.01M112.5 278.1h.01M109.8 279.9h.01M115.2 274.5h.01M115.6 275.5h.01M116.4 284.6h.01M108.7 280.4h.01M113.9 282.5h.01M110.8 274.7h.01M104.8 282.0h.01M117.2 282.1h.01M111.9 282.0h.01M108.9 284.5h.01M114.0 277.4h.01M117.1 284.2h.01M108.7 276.8h.01M107.7 277.3h.01M114.8 280.4h.01M114.0 280.1h.01M122.3 276.9h.01M105.5 274.3h.01M116.0 277.0h.01M113.6 280.8h.01M116.9 274.1h.01M108.9 280.8h.01M114.7 282.9h.01M110.4 273.9h.01M121.3 272.9h.01M109.0 281.8h.01M109.7 284.6h.01M116.7 280.5h.01M113.5 284.6h.01M117.9 276.5h.01M121.8 272.6h.01M111.4 280.9h.01M115.2 276.3h.01M125.9 281.5h.01M109.2 281.7h.01M110.6 278.9h.01M121.2 278.3h.01M123.7 270.1h.01M121.8 277.8h.01M123.7 275.6h.01M121.1 271.2h.01M130.3 261.1h.01M120.2 272.2h.01M130.3 268.6h.01M125.5 265.2h.01M118.0 274.7h.01M123.9 270.3h.01M124.0 275.0h.01M118.5 273.7h.01M126.9 267.2h.01M124.4 273.0h.01M121.7 279.8h.01M136.8 259.7h.01M128.6 271.6h.01M126.9 271.0h.01M123.5 270.7h.01M122.3 263.7h.01M126.7 273.1h.01M113.0 284.6h.01M128.3 264.5h.01M127.6 270.3h.01M121.2 264.6h.01M119.5 274.3h.01M123.5 267.8h.01M127.0 272.4h.01M114.6 284.6h.01M128.9 264.8h.01M124.1 269.3h.01M125.9 267.6h.01M122.7 274.6h.01M120.5 274.0h.01M120.0 269.6h.01M126.2 265.7h.01M119.1 275.9h.01M121.4 279.3h.01M130.2 269.3h.01M123.1 273.6h.01M118.2 273.6h.01M124.4 270.4h.01M127.0 263.6h.01M130.4 264.4h.01M120.0 274.0h.01M123.9 277.1h.01M123.6 273.8h.01M127.0 263.7h.01M122.7 272.6h.01M118.1 271.9h.01M120.8 275.3h.01M128.4 270.8h.01M117.7 280.5h.01M121.7 277.6h.01M127.0 265.5h.01M129.0 260.3h.01M119.6 270.8h.01M121.5 273.2h.01M129.3 267.4h.01M121.3 269.8h.01M121.7 270.6h.01M121.2 271.4h.01M120.3 274.2h.01M121.5 272.0h.01M118.7 277.4h.01M127.6 267.0h.01M119.3 270.7h.01M116.2 275.0h.01M120.7 272.5h.01M118.2 280.4h.01M116.3 277.0h.01M122.8 274.6h.01M130.5 258.3h.01M122.0 270.3h.01M122.7 270.2h.01M131.4 253.7h.01M121.8 268.8h.01M124.2 266.5h.01M123.9 264.4h.01M132.7 257.6h.01M118.3 280.4h.01M119.6 270.3h.01M124.6 266.0h.01M125.7 264.3h.01M127.8 264.4h.01M125.7 267.5h.01M121.7 270.8h.01M127.2 267.8h.01M127.0 274.9h.01M128.2 258.0h.01M128.1 263.0h.01M123.2 266.8h.01M128.7 258.7h.01M122.1 268.7h.01M134.2 260.2h.01M117.7 276.1h.01M124.4 266.6h.01M120.2 269.7h.01M122.6 266.3h.01M132.2 268.1h.01M126.1 273.6h.01M124.0 266.2h.01M120.5 269.8h.01M125.8 269.7h.01M127.0 263.6h.01M119.0 275.9h.01M131.1 260.3h.01M119.3 266.6h.01M123.3 272.5h.01M123.0 276.6h.01M119.8 271.2h.01M121.4 272.4h.01M126.7 262.8h.01M116.7 279.3h.01M129.2 268.6h.01M122.6 277.8h.01M127.5 266.1h.01M119.0 272.3h.01M122.1 276.1h.01M127.0 269.6h.01M131.1 259.1h.01M127.7 272.4h.01M117.8 276.0h.01M121.7 270.8h.01M122.7 267.3h.01M125.6 260.8h.01M117.2 271.4h.01M119.6 278.1h.01M126.0 265.5h.01M128.5 265.4h.01M121.5 272.5h.01M129.6 270.2h.01M122.9 272.3h.01M128.6 268.0h.01M127.8 268.5h.01M119.2 274.9h.01M116.2 280.1h.01M133.6 256.5h.01M124.8 269.2h.01M121.7 266.6h.01M120.8 273.0h.01M122.8 267.1h.01M122.0 268.8h.01M117.3 275.8h.01M122.5 275.1h.01M130.4 262.6h.01M121.9 269.7h.01M116.6 277.4h.01M132.5 262.2h.01M124.3 267.7h.01" stroke="#555" stroke-width="1.1" stroke-linecap="round" fill="none" opacity="0.28"/>
</g>
<rect x="103.90" y="241.30" width="42.20" height="43.80" fill="none" stroke="#555" stroke-width="0.6"/>
<line x1="120.10" y1="241.30" x2="120.10" y2="285.10" stroke="#777" stroke-width="0.5"/>
<line x1="103.90" y1="274.30" x2="146.10" y2="274.30" stroke="#777" stroke-width="0.5"/>
<line x1="110.90" y1="284.90" x2="137.90" y2="284.90" stroke="#222" stroke-width="1.0"/>
<line x1="104.20" y1="273.10" x2="104.20" y2="284.10" stroke="#444" stroke-width="0.8"/>
<text x="105.20" y="245.50" font-size="2.8" fill="#555">2.40</text>
<text x="105.20" y="283.50" font-size="2.8" fill="#444">72.8</text>
<text x="145.10" y="283.50" font-size="2.8" text-anchor="end" fill="#444">14.9</text>
<text x="143.70" y="250.90" font-size="10.7" text-anchor="end" font-weight="bold" fill="#000" stroke="#000" stroke-width="0.35" textLength="13.1" lengthAdjust="spacingAndGlyphs">9.9</text>
<text x="102.30" y="243.30" font-size="3.0" text-anchor="end" fill="#444">10</text>
<text x="103.70" y="241.70" font-size="2.0" text-anchor="end" fill="#444">4</text>
<text x="102.30" y="264.50" font-size="3.0" text-anchor="end" fill="#444">10</text>
<text x="103.70" y="262.90" font-size="2.0" text-anchor="end" fill="#444">2</text>
<text x="102.30" y="286.10" font-size="3.0" text-anchor="end" fill="#444">10</text>
<text x="103.70" y="284.50" font-size="2.0" text-anchor="end" fill="#444">0</text>
<clipPath id="cp12"><rect x="153.1" y="241.3" width="42.2" height="43.8"/></clipPath>
<g clip-path="url(#cp12)">
<ellipse cx="172.1" cy="269.3" rx="20.7" ry="8.0" fill="url(#rg)" opacity="0.81" transform="rotate(-55 172.1 269.3)"/>
<ellipse cx="163.1" cy="279.8" rx="13.8" ry="6.4" fill="url(#rg)" opacity="0.50" transform="rotate(-8 163.1 279.8)"/>
<path d="M173.3 270.1h.01M173.3 270.2h.01M168.3 275.0h.01M173.4 274.0h.01M169.5 280.8h.01M170.3 268.9h.01M172.6 269.4h.01M172.1 271.8h.01M164.5 270.2h.01M175.6 264.2h.01M181.7 258.0h.01M165.4 284.6h.01M170.2 275.4h.01M186.4 255.4h.01M166.3 277.1h.01M165.8 282.3h.01M172.1 263.2h.01M177.0 267.9h.01M174.3 262.2h.01M165.5 272.1h.01M166.4 279.3h.01M176.0 271.6h.01M172.6 266.7h.01M169.2 282.7h.01M172.9 268.1h.01M164.1 274.5h.01M172.6 262.8h.01M176.8 266.3h.01M165.7 268.9h.01M178.1 269.1h.01M164.4 272.8h.01M178.0 261.7h.01M172.4 276.2h.01M172.0 272.2h.01M168.0 270.8h.01M170.8 266.0h.01M161.6 281.1h.01M181.4 262.5h.01M185.9 255.5h.01M181.0 258.1h.01M171.2 273.4h.01M169.4 277.6h.01M170.6 273.1h.01M167.4 275.2h.01M176.5 261.8h.01M169.5 274.7h.01M176.1 262.6h.01M161.9 274.7h.01M168.3 281.1h.01M173.0 270.9h.01M178.4 262.1h.01M173.2 264.8h.01M165.7 282.2h.01M173.2 271.1h.01M166.3 276.7h.01M180.0 253.1h.01M176.3 271.2h.01M171.3 271.2h.01M163.5 284.6h.01M173.5 275.0h.01M170.6 269.3h.01M173.7 265.7h.01M173.8 276.0h.01M177.4 262.4h.01M178.5 265.1h.01M175.2 265.2h.01M173.6 269.6h.01M176.0 265.9h.01M169.1 273.2h.01M171.7 264.1h.01M174.2 270.9h.01M172.2 267.6h.01M170.7 268.6h.01M176.1 261.5h.01M160.4 279.0h.01M174.2 267.6h.01M166.1 270.2h.01M169.1 268.8h.01M168.8 274.1h.01M169.1 275.5h.01M167.1 273.8h.01M175.0 273.8h.01M182.7 259.8h.01M168.4 274.7h.01M179.0 264.3h.01M163.8 281.0h.01M170.5 276.1h.01M173.9 263.7h.01M182.2 253.3h.01M184.0 251.4h.01M176.9 273.6h.01M168.2 272.2h.01M179.5 258.6h.01M171.1 263.5h.01M183.9 258.3h.01M175.9 268.1h.01M168.3 272.0h.01M165.2 281.4h.01M180.7 262.0h.01M178.7 264.1h.01M163.9 273.5h.01M175.8 265.0h.01M176.4 261.7h.01M168.9 276.5h.01M164.8 270.2h.01M166.7 272.0h.01M165.0 276.3h.01M183.4 267.0h.01M179.7 256.1h.01M177.7 261.0h.01M172.3 265.1h.01M167.2 266.7h.01M179.1 254.9h.01M173.5 264.0h.01M170.3 265.1h.01M172.7 273.8h.01M169.8 261.3h.01M172.9 260.7h.01M175.0 268.3h.01M168.0 273.4h.01M172.0 271.9h.01M180.5 265.3h.01M179.2 270.8h.01M172.2 279.6h.01M172.9 272.7h.01M171.7 270.4h.01M168.6 276.7h.01M182.8 255.0h.01M172.1 269.5h.01M175.2 263.8h.01M172.7 269.8h.01M181.3 261.7h.01M165.1 275.7h.01M174.6 270.8h.01M176.5 261.9h.01M182.5 253.7h.01M183.1 261.9h.01M180.8 258.2h.01M170.9 262.3h.01M161.5 281.0h.01M178.7 266.2h.01M174.5 272.1h.01M179.2 268.1h.01M161.8 279.2h.01M164.5 274.2h.01M178.0 255.7h.01M166.9 274.6h.01M175.4 262.1h.01M177.4 265.1h.01M162.5 269.4h.01M164.1 273.6h.01M178.5 256.2h.01M167.8 277.8h.01M169.9 267.2h.01M180.2 263.2h.01M171.5 265.9h.01M162.1 271.7h.01M175.2 267.3h.01M167.6 276.0h.01M185.7 243.5h.01M165.2 282.8h.01M168.6 271.5h.01M174.9 264.6h.01M178.6 263.1h.01M178.3 261.2h.01M164.9 284.6h.01M166.4 283.6h.01M169.6 264.9h.01M174.9 270.5h.01M167.1 276.8h.01M165.7 272.7h.01M172.5 276.2h.01M175.5 264.3h.01M172.1 270.2h.01M174.1 267.6h.01M165.9 283.5h.01M160.7 270.5h.01M172.4 261.9h.01M171.2 270.2h.01M170.6 274.6h.01M170.0 270.8h.01M166.5 275.7h.01M167.0 276.9h.01M181.6 261.7h.01M170.6 263.6h.01M179.9 263.7h.01M176.4 250.1h.01M171.3 268.6h.01M174.7 259.4h.01M176.5 276.5h.01M171.7 258.3h.01M176.0 271.8h.01M170.6 274.9h.01M168.6 265.8h.01M172.0 276.0h.01M176.5 259.6h.01M175.9 259.8h.01M173.3 267.5h.01M166.7 279.0h.01M162.7 266.9h.01M165.6 273.7h.01M165.2 273.5h.01M161.9 269.6h.01M176.8 263.0h.01M172.7 267.0h.01M171.7 268.4h.01M162.4 274.3h.01M175.3 270.7h.01M177.7 270.7h.01M164.5 278.7h.01M172.4 276.2h.01M179.3 256.0h.01M175.2 263.5h.01M166.7 276.3h.01M171.1 279.8h.01M178.4 267.3h.01M167.3 262.1h.01M176.4 263.7h.01M160.3 284.6h.01M181.9 265.3h.01M169.1 278.2h.01M173.3 266.6h.01M172.1 272.4h.01M176.8 266.4h.01M166.4 269.7h.01M182.4 262.2h.01M169.2 273.3h.01M171.4 260.1h.01M181.3 270.3h.01M171.6 266.0h.01M182.5 254.5h.01M172.0 267.0h.01M168.1 264.6h.01M161.6 275.8h.01M176.4 262.6h.01M172.4 257.0h.01M173.1 276.5h.01M163.0 271.5h.01M167.4 274.0h.01M175.6 271.9h.01M183.1 262.7h.01M173.7 264.1h.01M165.5 270.1h.01M182.0 262.5h.01M170.1 266.9h.01M176.9 265.4h.01M169.7 266.0h.01M171.8 266.5h.01M177.5 265.1h.01M173.2 265.3h.01M182.0 259.8h.01M180.8 261.7h.01M176.5 265.3h.01M161.7 273.6h.01M169.0 277.3h.01M177.2 263.1h.01M177.6 272.2h.01M165.2 268.7h.01M163.4 279.9h.01M177.7 265.7h.01M173.2 272.5h.01M169.9 268.3h.01M172.3 273.5h.01M173.9 260.2h.01M167.4 276.7h.01M179.7 251.7h.01M166.9 279.2h.01M173.0 264.4h.01M173.3 270.4h.01M163.2 281.9h.01M177.7 266.7h.01M177.8 260.7h.01M168.5 282.3h.01M174.3 262.5h.01M180.2 263.8h.01M164.9 265.8h.01M167.7 271.2h.01M167.6 275.2h.01M167.7 277.9h.01M178.4 253.4h.01M175.9 260.8h.01M174.5 265.1h.01M176.6 258.7h.01M173.7 262.5h.01M173.2 267.6h.01M173.3 258.4h.01M169.1 281.7h.01M178.7 269.8h.01M167.5 277.1h.01M180.0 268.3h.01M170.6 268.8h.01M175.4 263.9h.01M170.4 276.2h.01M159.7 281.1h.01M177.6 258.5h.01M171.5 272.3h.01M179.2 262.2h.01M165.7 275.2h.01M177.1 261.5h.01M171.3 275.5h.01M183.8 265.3h.01M164.7 275.7h.01M169.6 275.0h.01M172.8 274.9h.01M161.2 284.6h.01M168.1 273.4h.01M175.5 265.6h.01M171.1 279.5h.01M173.7 264.2h.01M170.1 265.7h.01M165.1 277.6h.01M174.2 266.9h.01M164.4 272.2h.01M168.0 284.4h.01M171.8 265.1h.01M179.6 261.8h.01M168.3 271.1h.01M178.7 261.7h.01M181.3 258.2h.01M167.5 272.4h.01M169.3 274.8h.01M175.0 268.6h.01M171.5 264.0h.01M168.5 269.0h.01M170.9 263.3h.01M166.8 271.8h.01M168.3 273.2h.01M179.0 257.9h.01M164.1 279.0h.01M177.4 265.0h.01M178.8 271.4h.01M177.9 261.5h.01M174.5 258.0h.01M168.9 268.8h.01M177.4 271.1h.01M174.0 275.9h.01M170.9 279.4h.01M161.3 279.8h.01M176.9 262.0h.01M172.8 268.2h.01M172.5 267.7h.01M166.4 275.8h.01M170.2 266.8h.01M179.3 269.3h.01M162.4 280.0h.01M170.7 271.3h.01M170.6 267.2h.01M171.9 269.6h.01M175.9 272.9h.01M168.7 265.5h.01M165.9 281.7h.01M168.7 270.6h.01M164.5 278.4h.01M169.8 268.6h.01M172.8 273.5h.01M177.5 264.7h.01M167.5 267.9h.01M180.1 266.6h.01M181.7 262.4h.01M174.5 268.0h.01M175.5 271.8h.01M176.7 275.4h.01M175.1 263.1h.01M167.7 266.2h.01M167.6 274.0h.01M182.1 250.2h.01M176.9 262.9h.01M172.3 272.6h.01M164.7 284.6h.01M182.6 256.0h.01M172.2 270.1h.01M174.1 263.6h.01M174.1 269.4h.01M171.4 272.5h.01M175.7 268.3h.01M165.7 275.3h.01M173.3 274.7h.01M168.8 264.3h.01M171.0 282.2h.01M170.2 264.4h.01M167.9 276.1h.01M183.7 262.2h.01M169.4 271.3h.01M179.0 253.7h.01M180.9 258.8h.01M176.1 271.1h.01M172.2 264.2h.01M164.5 280.2h.01M178.4 268.3h.01M162.7 284.6h.01M179.4 267.8h.01M176.7 264.0h.01M175.4 267.0h.01M168.6 273.6h.01M171.5 267.5h.01M160.8 277.0h.01M176.1 266.7h.01M169.4 266.3h.01M175.3 262.4h.01M166.0 284.6h.01M170.8 284.3h.01M173.6 264.6h.01M158.4 284.6h.01M183.3 261.3h.01M168.7 264.1h.01M169.4 271.5h.01M174.1 265.7h.01M169.3 263.7h.01M172.8 276.7h.01M167.4 281.5h.01M185.5 254.0h.01M168.6 281.6h.01M163.7 283.2h.01M173.5 274.6h.01M178.5 261.2h.01M183.8 258.4h.01M167.0 270.8h.01M183.3 250.9h.01M173.8 266.1h.01M165.3 269.6h.01M171.1 270.1h.01M175.6 261.3h.01M161.3 278.4h.01M172.6 270.1h.01M174.7 263.4h.01M175.2 265.7h.01M180.4 257.1h.01M174.4 269.4h.01M175.7 258.8h.01M169.0 272.2h.01M165.0 284.6h.01M177.5 261.7h.01M192.5 247.7h.01M186.6 257.8h.01M172.7 260.1h.01M180.9 259.1h.01M166.3 278.0h.01M178.6 265.8h.01M171.5 267.0h.01M173.8 262.3h.01M173.8 271.3h.01M165.9 280.3h.01M159.7 281.5h.01M165.7 277.9h.01M175.5 264.1h.01M176.9 262.9h.01M172.4 271.7h.01M171.3 271.3h.01M175.7 260.7h.01M174.8 258.9h.01M166.2 267.5h.01M173.8 276.2h.01M177.4 269.2h.01M161.9 277.9h.01M176.7 267.6h.01M171.7 260.1h.01M174.5 265.5h.01M174.0 269.4h.01M166.0 268.0h.01M162.7 274.2h.01M155.5 280.5h.01M170.4 276.8h.01M158.3 277.3h.01M153.7 281.4h.01M160.2 279.6h.01M157.7 281.9h.01M156.4 282.2h.01M159.6 282.4h.01M158.1 281.7h.01M165.6 279.2h.01M172.6 278.9h.01M158.2 282.4h.01M158.1 279.0h.01M163.2 280.3h.01M172.3 273.7h.01M162.0 283.0h.01M162.3 280.8h.01M171.5 275.3h.01M163.7 281.9h.01M159.0 275.6h.01M157.4 281.1h.01M164.9 284.6h.01M170.2 274.6h.01M169.4 281.4h.01M172.4 278.1h.01M159.9 280.6h.01M172.3 280.2h.01M173.2 280.5h.01M159.3 277.6h.01M173.2 274.2h.01M161.0 279.2h.01M157.6 279.0h.01M164.0 284.6h.01M162.5 278.5h.01M164.2 282.2h.01M158.2 279.4h.01M153.7 283.1h.01M167.6 283.3h.01M157.0 284.6h.01M168.0 278.4h.01M160.7 279.3h.01M156.4 282.9h.01M159.3 278.4h.01M166.1 279.7h.01M159.6 279.6h.01M160.8 283.8h.01M168.6 277.0h.01M163.4 283.5h.01M162.1 284.6h.01M165.9 281.2h.01M153.7 283.8h.01M165.3 281.1h.01M166.1 280.8h.01M160.5 282.6h.01M163.1 276.9h.01M157.3 281.1h.01M164.2 273.6h.01M153.7 284.3h.01M164.1 284.6h.01M154.1 280.4h.01M159.8 281.8h.01M171.9 283.0h.01M157.7 283.9h.01M156.2 281.6h.01M164.3 281.3h.01M159.0 284.0h.01M162.7 279.8h.01M161.2 277.2h.01M167.4 280.1h.01M166.4 284.4h.01M158.0 279.7h.01M163.5 282.1h.01M162.4 282.5h.01M165.1 274.7h.01M158.4 274.9h.01M161.3 278.9h.01M166.6 279.8h.01M163.2 283.2h.01M166.1 276.0h.01M159.2 281.2h.01M172.9 277.9h.01M162.2 280.7h.01M167.6 278.9h.01M164.7 278.4h.01M159.6 278.1h.01M166.7 277.8h.01M166.4 280.4h.01M167.7 271.8h.01M157.0 277.3h.01M162.5 282.1h.01M178.4 281.9h.01M171.1 279.7h.01M161.1 281.6h.01M153.7 284.1h.01M163.4 281.5h.01M156.7 277.7h.01M159.4 280.2h.01M165.0 278.6h.01M165.4 281.3h.01M156.3 280.5h.01M153.9 279.6h.01M168.1 277.1h.01M174.1 279.6h.01M168.3 279.4h.01M168.5 282.0h.01M163.5 278.3h.01M160.6 284.6h.01M161.9 278.7h.01M158.4 275.8h.01M160.3 281.1h.01M160.0 278.2h.01M165.7 280.7h.01M160.7 281.0h.01M157.8 282.9h.01M157.3 279.7h.01M163.7 278.6h.01M157.2 284.6h.01M171.2 273.9h.01M163.3 276.3h.01M164.4 276.0h.01M166.7 280.8h.01M173.5 281.7h.01M160.8 282.7h.01M160.4 279.9h.01M159.5 275.5h.01M165.8 273.8h.01M161.9 281.4h.01M163.2 275.5h.01M159.6 282.2h.01M170.1 283.2h.01M153.7 282.5h.01M160.6 282.3h.01M153.7 280.8h.01M167.0 277.5h.01M160.6 277.5h.01M169.1 275.3h.01M157.7 279.6h.01M162.1 284.6h.01M164.4 277.3h.01M166.6 280.3h.01M164.7 279.4h.01M165.3 276.3h.01M156.0 279.6h.01M157.0 282.6h.01M174.8 281.6h.01M165.8 280.3h.01M158.6 276.9h.01M165.7 275.4h.01M164.8 279.2h.01M167.5 279.3h.01" stroke="#555" stroke-width="1.1" stroke-linecap="round" fill="none" opacity="0.28"/>
</g>
<rect x="153.10" y="241.30" width="42.20" height="43.80" fill="none" stroke="#555" stroke-width="0.6"/>
<line x1="169.30" y1="241.30" x2="169.30" y2="285.10" stroke="#777" stroke-width="0.5"/>
<line x1="153.10" y1="274.30" x2="195.30" y2="274.30" stroke="#777" stroke-width="0.5"/>
<line x1="160.10" y1="284.90" x2="187.10" y2="284.90" stroke="#222" stroke-width="1.0"/>
<line x1="153.40" y1="273.10" x2="153.40" y2="284.10" stroke="#444" stroke-width="0.8"/>
<text x="154.40" y="245.50" font-size="2.8" fill="#555">4.47</text>
<text x="154.40" y="283.50" font-size="2.8" fill="#444">40.4</text>
<text x="194.30" y="283.50" font-size="2.8" text-anchor="end" fill="#444">21.0</text>
<text x="193.10" y="247.50" font-size="4.6" text-anchor="end" fill="#444">34.1</text>
<text x="151.50" y="243.30" font-size="3.0" text-anchor="end" fill="#444">10</text>
<text x="152.90" y="241.70" font-size="2.0" text-anchor="end" fill="#444">4</text>
<text x="151.50" y="264.50" font-size="3.0" text-anchor="end" fill="#444">10</text>
<text x="152.90" y="262.90" font-size="2.0" text-anchor="end" fill="#444">2</text>
<text x="151.50" y="286.10" font-size="3.0" text-anchor="end" fill="#444">10</text>
<text x="152.90" y="284.50" font-size="2.0" text-anchor="end" fill="#444">0</text>
<clipPath id="cp13"><rect x="202.0" y="241.3" width="42.2" height="43.8"/></clipPath>
<g clip-path="url(#cp13)">
<ellipse cx="222.0" cy="267.3" rx="20.7" ry="9.0" fill="url(#rg)" opacity="0.76" transform="rotate(-58 222.0 267.3)"/>
<ellipse cx="213.0" cy="279.3" rx="13.8" ry="6.4" fill="url(#rg)" opacity="0.50" transform="rotate(-8 213.0 279.3)"/>
<path d="M220.6 265.3h.01M212.9 279.4h.01M228.6 264.2h.01M225.2 255.0h.01M219.9 275.7h.01M228.2 275.9h.01M218.6 261.9h.01M224.5 274.6h.01M214.0 281.2h.01M220.7 280.9h.01M216.6 268.6h.01M211.7 278.6h.01M208.6 284.6h.01M232.5 251.2h.01M217.0 266.9h.01M222.1 263.8h.01M222.5 276.4h.01M221.2 262.2h.01M228.7 256.2h.01M224.8 263.8h.01M229.5 259.7h.01M222.7 271.3h.01M220.6 270.5h.01M226.2 252.9h.01M215.9 274.2h.01M223.9 273.6h.01M222.0 283.8h.01M227.9 254.6h.01M221.7 265.2h.01M227.3 263.6h.01M228.0 263.2h.01M230.5 252.5h.01M224.7 261.7h.01M222.9 267.5h.01M222.9 268.4h.01M217.5 273.3h.01M215.4 269.5h.01M217.1 271.6h.01M216.3 265.3h.01M217.2 266.9h.01M218.8 273.8h.01M228.1 259.6h.01M218.3 270.1h.01M223.0 254.0h.01M222.5 255.8h.01M219.2 272.1h.01M226.3 272.3h.01M224.2 263.5h.01M226.6 260.3h.01M221.9 275.6h.01M233.1 258.7h.01M222.7 279.9h.01M222.5 272.0h.01M235.2 263.2h.01M211.2 277.3h.01M229.1 259.5h.01M211.1 263.7h.01M223.5 263.6h.01M218.5 284.6h.01M208.5 284.6h.01M222.7 267.8h.01M224.7 261.1h.01M216.6 273.3h.01M208.6 280.8h.01M229.0 251.1h.01M227.8 271.7h.01M227.3 259.7h.01M224.6 261.3h.01M221.0 276.1h.01M227.8 269.5h.01M219.6 268.5h.01M223.0 264.3h.01M217.7 267.8h.01M224.2 266.0h.01M230.5 253.6h.01M215.3 281.4h.01M231.3 249.3h.01M217.7 273.0h.01M207.5 284.6h.01M216.2 265.7h.01M221.9 261.2h.01M211.0 279.7h.01M231.2 266.4h.01M228.5 258.3h.01M218.8 270.6h.01M224.9 259.0h.01M227.1 266.1h.01M215.9 272.9h.01M224.1 264.0h.01M219.7 267.2h.01M227.7 271.5h.01M223.1 253.9h.01M222.5 267.1h.01M217.7 264.2h.01M221.9 268.6h.01M219.8 273.0h.01M205.7 282.5h.01M223.7 267.3h.01M219.7 267.6h.01M226.4 268.1h.01M226.0 260.4h.01M223.3 272.9h.01M227.4 265.0h.01M217.9 267.6h.01M220.9 264.6h.01M230.1 260.4h.01M214.0 284.6h.01M231.6 259.4h.01M217.0 269.1h.01M229.8 262.1h.01M218.5 264.5h.01M215.7 279.3h.01M215.9 272.1h.01M227.5 266.1h.01M210.2 281.4h.01M227.9 257.5h.01M222.5 271.2h.01M212.7 273.4h.01M227.2 270.3h.01M226.7 259.7h.01M225.4 258.9h.01M211.1 272.7h.01M226.2 267.1h.01M223.6 264.4h.01M223.7 272.5h.01M217.1 264.7h.01M226.3 255.7h.01M223.8 264.4h.01M227.7 259.9h.01M228.4 258.5h.01M218.2 269.7h.01M222.4 260.7h.01M225.6 259.9h.01M214.8 272.5h.01M227.1 272.0h.01M225.7 261.6h.01M223.9 277.9h.01M220.7 269.4h.01M224.3 273.2h.01M221.3 265.0h.01M219.6 263.9h.01M216.5 274.9h.01M212.3 284.6h.01M227.7 250.1h.01M216.2 265.2h.01M223.5 266.4h.01M221.1 259.0h.01M217.1 270.5h.01M228.3 273.8h.01M220.9 268.7h.01M222.2 272.7h.01M237.8 250.4h.01M225.7 253.6h.01M227.0 259.4h.01M231.3 260.1h.01M219.6 259.0h.01M221.0 265.3h.01M224.2 264.0h.01M221.7 256.2h.01M218.3 272.7h.01M222.2 264.1h.01M222.0 267.6h.01M226.5 259.2h.01M217.2 261.8h.01M205.0 284.0h.01M216.2 259.9h.01M223.6 264.0h.01M219.6 265.8h.01M222.7 272.1h.01M223.6 264.6h.01M220.4 271.4h.01M227.5 258.3h.01M216.5 267.7h.01M219.5 264.7h.01M218.1 279.9h.01M212.5 267.8h.01M224.6 276.4h.01M217.2 265.4h.01M219.2 277.0h.01M224.6 264.7h.01M222.7 269.8h.01M230.8 256.7h.01M216.7 265.7h.01M229.2 267.1h.01M221.0 259.9h.01M227.1 268.5h.01M220.6 273.1h.01M233.0 261.5h.01M208.9 275.7h.01M226.0 265.9h.01M220.3 269.9h.01M224.0 272.8h.01M212.4 284.4h.01M213.8 275.5h.01M211.8 277.0h.01M222.0 267.5h.01M229.7 253.4h.01M224.8 265.4h.01M228.0 268.3h.01M223.1 266.6h.01M221.5 268.2h.01M225.0 269.7h.01M222.3 267.3h.01M224.2 269.2h.01M222.8 272.8h.01M221.6 273.0h.01M231.8 253.3h.01M217.7 265.6h.01M225.5 261.8h.01M224.1 259.1h.01M230.3 267.1h.01M222.8 263.6h.01M215.8 277.1h.01M227.0 263.6h.01M213.4 273.6h.01M214.1 272.6h.01M221.6 269.9h.01M231.7 253.2h.01M223.4 253.0h.01M231.9 257.3h.01M226.8 265.7h.01M231.1 266.6h.01M220.1 257.7h.01M219.0 283.7h.01M225.9 270.6h.01M218.2 268.5h.01M221.4 270.5h.01M220.9 264.6h.01M226.5 264.5h.01M214.0 271.9h.01M211.8 281.5h.01M219.8 265.8h.01M218.7 271.6h.01M224.0 268.2h.01M227.3 261.9h.01M224.1 256.9h.01M226.1 263.5h.01M214.9 273.8h.01M224.3 264.1h.01M214.3 275.6h.01M231.9 257.5h.01M226.8 269.4h.01M217.2 273.8h.01M225.4 259.4h.01M218.6 276.9h.01M221.3 250.0h.01M218.6 263.6h.01M216.0 266.7h.01M232.0 246.3h.01M219.9 265.5h.01M215.9 273.8h.01M228.7 269.3h.01M228.5 268.3h.01M217.2 275.5h.01M214.8 267.4h.01M238.8 241.9h.01M220.7 263.9h.01M215.9 269.5h.01M225.5 258.7h.01M221.9 268.8h.01M217.0 277.0h.01M222.7 269.5h.01M220.3 270.3h.01M227.6 265.4h.01M221.9 274.5h.01M216.7 274.3h.01M223.1 266.6h.01M207.0 284.1h.01M224.2 270.6h.01M223.6 275.7h.01M213.8 281.1h.01M224.6 263.3h.01M226.3 267.2h.01M220.1 274.6h.01M226.2 258.8h.01M207.2 282.3h.01M214.5 271.6h.01M221.4 262.4h.01M235.6 249.8h.01M214.9 276.6h.01M231.4 257.2h.01M220.6 277.1h.01M227.0 275.4h.01M221.3 272.7h.01M223.2 262.1h.01M225.1 270.8h.01M224.1 263.4h.01M229.8 267.5h.01M227.9 261.2h.01M218.4 261.6h.01M221.0 265.3h.01M223.5 260.5h.01M220.7 261.8h.01M223.8 259.1h.01M223.8 268.7h.01M220.5 269.8h.01M232.8 262.9h.01M210.5 279.1h.01M228.3 264.1h.01M220.1 271.1h.01M228.5 273.4h.01M217.2 266.4h.01M210.5 276.4h.01M226.9 256.7h.01M233.3 253.9h.01M225.9 265.7h.01M228.7 263.2h.01M215.6 273.5h.01M219.8 271.6h.01M216.8 266.7h.01M224.6 276.2h.01M229.2 249.5h.01M223.7 264.4h.01M220.3 275.1h.01M227.1 271.2h.01M223.1 263.2h.01M209.2 284.6h.01M223.7 259.4h.01M228.4 262.0h.01M213.0 280.2h.01M226.0 266.4h.01M222.7 266.1h.01M219.4 269.3h.01M218.5 265.1h.01M224.0 261.8h.01M222.8 262.3h.01M224.4 264.5h.01M227.7 261.5h.01M225.9 259.9h.01M220.9 267.2h.01M215.7 276.5h.01M229.6 260.7h.01M219.0 274.3h.01M221.1 258.9h.01M224.7 265.3h.01M226.4 262.2h.01M207.2 276.3h.01M230.1 251.5h.01M232.1 260.3h.01M218.7 264.3h.01M228.3 256.9h.01M226.0 264.4h.01M229.8 262.2h.01M210.7 275.1h.01M222.7 266.3h.01M225.2 261.2h.01M227.8 272.8h.01M232.3 259.3h.01M224.3 257.9h.01M221.4 267.8h.01M214.0 273.8h.01M218.8 263.6h.01M226.1 264.2h.01M219.8 268.4h.01M226.4 263.7h.01M219.7 262.1h.01M221.0 283.7h.01M217.7 271.5h.01M210.8 279.4h.01M221.1 274.4h.01M205.0 284.4h.01M218.5 269.4h.01M216.9 272.2h.01M215.4 279.7h.01M228.1 258.6h.01M223.6 273.9h.01M220.9 261.5h.01M217.3 270.4h.01M225.7 270.1h.01M218.2 272.3h.01M218.7 264.0h.01M221.7 272.1h.01M221.2 255.0h.01M224.4 261.4h.01M230.1 258.8h.01M232.3 253.1h.01M217.4 268.6h.01M217.1 279.2h.01M227.1 265.1h.01M218.8 261.6h.01M219.3 269.9h.01M225.2 267.7h.01M229.6 257.2h.01M209.0 280.8h.01M209.5 281.8h.01M217.1 276.8h.01M224.6 271.2h.01M225.6 258.2h.01M226.5 260.2h.01M228.5 266.6h.01M216.4 275.8h.01M226.8 254.1h.01M223.4 265.9h.01M215.8 267.8h.01M215.6 270.5h.01M227.9 259.6h.01M221.5 259.6h.01M224.8 263.8h.01M224.6 257.9h.01M230.3 264.0h.01M227.5 251.8h.01M212.0 272.8h.01M228.5 261.2h.01M220.8 263.0h.01M233.1 261.1h.01M221.4 267.3h.01M229.3 259.4h.01M227.0 256.3h.01M222.5 264.1h.01M218.4 271.0h.01M222.3 270.5h.01M220.8 269.7h.01M214.2 270.9h.01M225.6 254.5h.01M233.6 255.5h.01M209.1 283.3h.01M220.1 270.5h.01M219.2 267.4h.01M227.5 257.6h.01M224.3 258.6h.01M223.1 275.2h.01M217.1 267.2h.01M224.6 270.7h.01M218.9 267.1h.01M228.2 264.5h.01M220.0 268.2h.01M229.0 275.5h.01M226.8 272.2h.01M222.6 269.2h.01M213.0 283.0h.01M221.2 266.3h.01M215.7 267.6h.01M215.5 278.9h.01M218.7 271.9h.01M219.5 267.6h.01M224.6 276.5h.01M215.2 274.6h.01M216.9 267.2h.01M220.3 276.3h.01M226.8 260.5h.01M240.0 244.5h.01M225.2 256.3h.01M232.6 262.5h.01M226.1 273.8h.01M214.6 271.1h.01M219.2 266.0h.01M221.4 260.2h.01M216.1 262.7h.01M225.3 269.6h.01M221.8 269.9h.01M223.6 256.8h.01M216.3 277.0h.01M222.5 264.6h.01M221.4 277.0h.01M215.7 275.5h.01M224.2 269.1h.01M217.3 269.0h.01M228.8 250.4h.01M225.3 261.0h.01M219.6 270.8h.01M221.8 269.8h.01M210.0 284.6h.01M219.2 264.8h.01M227.7 274.9h.01M232.8 254.7h.01M222.1 264.9h.01M227.1 255.9h.01M220.4 274.9h.01M214.9 273.0h.01M223.6 253.1h.01M222.1 268.0h.01M218.5 262.4h.01M219.9 268.3h.01M234.3 254.8h.01M221.3 274.7h.01M224.7 262.1h.01M220.0 268.5h.01M212.7 277.6h.01M231.1 263.1h.01M229.5 252.5h.01M215.7 272.3h.01M211.0 276.1h.01M217.2 274.1h.01M206.5 277.2h.01M215.7 281.2h.01M208.3 284.6h.01M213.7 276.9h.01M215.1 279.0h.01M218.0 279.5h.01M226.3 280.7h.01M209.6 282.0h.01M217.1 276.0h.01M208.3 277.7h.01M202.6 283.1h.01M212.2 282.8h.01M209.8 280.0h.01M217.7 281.3h.01M214.5 276.2h.01M226.3 279.8h.01M221.6 282.6h.01M221.4 279.3h.01M216.0 280.6h.01M204.5 282.7h.01M207.5 281.2h.01M207.4 282.1h.01M211.1 284.6h.01M214.4 280.5h.01M207.6 279.3h.01M212.6 278.6h.01M210.2 277.3h.01M217.4 277.6h.01M208.4 281.0h.01M208.2 279.5h.01M209.7 277.2h.01M211.4 277.3h.01M205.8 281.3h.01M210.7 275.6h.01M210.8 280.1h.01M215.7 280.0h.01M214.8 280.7h.01M209.8 277.5h.01M216.5 277.7h.01M213.3 281.0h.01M219.0 281.8h.01M208.9 278.9h.01M215.8 275.0h.01M205.9 282.0h.01M209.1 277.3h.01M217.9 280.1h.01M218.3 277.6h.01M211.2 278.6h.01M214.0 273.6h.01M209.3 281.8h.01M208.5 279.8h.01M214.0 280.6h.01M209.8 276.6h.01M227.4 275.3h.01M222.4 273.1h.01M213.6 278.7h.01M224.9 283.2h.01M218.4 275.8h.01M208.1 277.9h.01M210.1 280.4h.01M208.4 279.3h.01M222.2 282.0h.01M202.6 278.3h.01M211.4 283.1h.01M211.8 284.6h.01M215.7 282.9h.01M207.9 279.2h.01M219.2 280.0h.01M202.6 280.1h.01M214.3 280.8h.01M210.0 284.5h.01M214.5 283.1h.01M215.4 279.2h.01M210.8 276.4h.01M218.4 280.6h.01M218.4 277.5h.01M207.0 279.1h.01M211.2 279.5h.01M218.5 276.0h.01M210.5 281.6h.01M219.2 284.5h.01M215.8 276.6h.01M206.7 278.0h.01M213.6 279.9h.01M212.4 277.7h.01M212.0 279.2h.01M216.6 279.0h.01M207.9 276.8h.01M221.7 277.8h.01M212.0 279.4h.01M219.5 277.5h.01M214.0 278.5h.01M216.1 276.1h.01M214.6 281.9h.01M220.2 280.0h.01M215.4 283.3h.01M217.7 282.5h.01M205.7 277.3h.01M217.6 277.9h.01M210.2 277.1h.01M221.3 274.9h.01M213.2 275.5h.01M212.9 284.6h.01M227.1 276.0h.01M207.8 284.5h.01M207.4 275.2h.01M214.7 276.1h.01M205.1 283.5h.01M208.4 277.0h.01M214.0 278.6h.01M219.7 278.6h.01M222.8 281.0h.01M223.9 280.8h.01M213.7 280.7h.01M212.6 275.1h.01M206.5 282.2h.01M202.6 279.0h.01M205.6 280.2h.01M207.1 280.8h.01M211.8 278.2h.01M207.3 274.0h.01M213.0 275.8h.01M211.5 280.5h.01M219.5 280.3h.01M221.2 274.3h.01M217.6 282.9h.01M215.0 276.0h.01M215.2 277.6h.01M209.7 282.7h.01M211.6 276.4h.01M209.9 284.6h.01M208.4 281.8h.01M214.6 282.3h.01M211.1 277.0h.01M209.0 277.1h.01M228.2 277.7h.01M211.7 282.9h.01M216.8 278.3h.01M216.8 279.5h.01M220.3 282.8h.01M211.3 279.5h.01M212.5 282.7h.01M215.6 281.1h.01M218.1 276.9h.01M214.4 282.9h.01M218.8 280.7h.01M211.3 278.6h.01" stroke="#555" stroke-width="1.1" stroke-linecap="round" fill="none" opacity="0.28"/>
</g>
<rect x="202.00" y="241.30" width="42.20" height="43.80" fill="none" stroke="#555" stroke-width="0.6"/>
<line x1="218.20" y1="241.30" x2="218.20" y2="285.10" stroke="#777" stroke-width="0.5"/>
<line x1="202.00" y1="274.30" x2="244.20" y2="274.30" stroke="#777" stroke-width="0.5"/>
<line x1="209.00" y1="284.90" x2="236.00" y2="284.90" stroke="#222" stroke-width="1.0"/>
<line x1="202.30" y1="273.10" x2="202.30" y2="284.10" stroke="#444" stroke-width="0.8"/>
<text x="203.30" y="245.50" font-size="2.8" fill="#555">12.7</text>
<text x="203.30" y="283.50" font-size="2.8" fill="#444">31.4</text>
<text x="243.20" y="283.50" font-size="2.8" text-anchor="end" fill="#444">12.5</text>
<text x="242.00" y="247.50" font-size="4.6" text-anchor="end" fill="#444">43.5</text>
<text x="200.40" y="243.30" font-size="3.0" text-anchor="end" fill="#444">10</text>
<text x="201.80" y="241.70" font-size="2.0" text-anchor="end" fill="#444">4</text>
<text x="200.40" y="264.50" font-size="3.0" text-anchor="end" fill="#444">10</text>
<text x="201.80" y="262.90" font-size="2.0" text-anchor="end" fill="#444">2</text>
<text x="200.40" y="286.10" font-size="3.0" text-anchor="end" fill="#444">10</text>
<text x="201.80" y="284.50" font-size="2.0" text-anchor="end" fill="#444">0</text>
<clipPath id="cp20"><rect x="55.3" y="290.2" width="42.2" height="43.8"/></clipPath>
<g clip-path="url(#cp20)">
<ellipse cx="79.3" cy="319.2" rx="19.5" ry="9.9" fill="url(#rg)" opacity="0.85" transform="rotate(-70 79.3 319.2)"/>
<ellipse cx="68.3" cy="330.2" rx="11.5" ry="4.6" fill="url(#rg)" opacity="0.33" transform="rotate(0 68.3 330.2)"/>
<path d="M75.9 325.4h.01M73.6 317.5h.01M79.7 308.9h.01M82.4 318.0h.01M70.7 320.8h.01M83.7 312.1h.01M83.1 322.7h.01M78.2 310.7h.01M72.2 317.2h.01M84.1 323.1h.01M80.2 326.8h.01M73.9 330.4h.01M88.7 314.2h.01M83.6 316.6h.01M74.7 302.2h.01M81.9 333.5h.01M88.7 300.7h.01M80.6 318.9h.01M77.0 318.0h.01M78.8 319.0h.01M83.9 314.8h.01M84.4 312.3h.01M82.0 328.6h.01M72.2 333.5h.01M78.2 315.7h.01M80.4 302.9h.01M74.1 327.5h.01M83.6 316.9h.01M82.3 319.2h.01M75.0 323.7h.01M74.5 316.1h.01M78.4 317.0h.01M77.3 312.3h.01M75.7 322.4h.01M74.4 320.5h.01M73.3 319.2h.01M83.5 315.9h.01M78.6 318.9h.01M73.1 324.6h.01M75.2 319.5h.01M76.7 328.4h.01M77.7 318.6h.01M76.8 325.3h.01M75.7 323.8h.01M82.7 318.7h.01M79.1 312.3h.01M78.3 308.1h.01M84.0 322.3h.01M86.6 300.9h.01M76.9 321.3h.01M75.4 328.3h.01M75.2 321.3h.01M79.7 308.7h.01M87.4 307.1h.01M78.9 313.3h.01M70.1 320.2h.01M79.1 316.6h.01M77.8 315.1h.01M74.9 313.2h.01M75.0 333.5h.01M70.1 306.3h.01M81.6 308.6h.01M72.9 318.1h.01M79.3 327.8h.01M77.1 324.7h.01M86.7 323.1h.01M76.7 310.3h.01M73.5 321.2h.01M72.8 328.8h.01M82.6 310.6h.01M80.7 313.7h.01M78.5 322.5h.01M86.7 322.4h.01M85.9 305.7h.01M73.3 311.6h.01M88.3 323.4h.01M80.3 326.4h.01M81.2 309.1h.01M76.9 320.2h.01M81.7 313.0h.01M88.2 309.2h.01M89.5 322.9h.01M76.1 320.6h.01M75.3 319.7h.01M77.9 322.2h.01M75.7 310.0h.01M72.4 328.8h.01M80.3 322.1h.01M83.0 327.3h.01M77.0 322.9h.01M84.1 320.3h.01M80.3 316.8h.01M78.5 323.5h.01M79.1 315.5h.01M72.1 316.6h.01M82.5 324.9h.01M83.0 308.0h.01M80.5 333.5h.01M88.9 324.1h.01M82.1 323.7h.01M83.0 325.8h.01M78.4 308.7h.01M94.2 313.2h.01M74.0 319.1h.01M78.6 316.4h.01M71.0 329.2h.01M74.1 315.0h.01M84.1 311.4h.01M84.3 322.5h.01M79.4 327.2h.01M74.3 329.1h.01M79.0 313.4h.01M81.6 320.9h.01M88.7 309.2h.01M79.6 315.2h.01M82.0 332.7h.01M76.1 301.6h.01M81.6 312.4h.01M82.6 314.1h.01M78.8 320.6h.01M83.8 321.1h.01M76.5 320.4h.01M83.7 315.0h.01M81.7 316.2h.01M87.8 309.4h.01M79.1 317.2h.01M73.8 311.4h.01M75.1 322.1h.01M78.3 317.2h.01M89.1 301.2h.01M89.3 319.2h.01M78.1 318.7h.01M86.0 310.8h.01M86.7 313.7h.01M75.7 321.0h.01M77.7 324.8h.01M78.0 309.9h.01M72.6 321.3h.01M88.1 304.9h.01M75.2 315.7h.01M73.9 326.1h.01M74.4 317.0h.01M83.5 322.6h.01M79.8 319.2h.01M72.4 333.5h.01M76.2 319.3h.01M75.2 329.7h.01M74.3 326.2h.01M74.5 331.2h.01M78.6 310.9h.01M74.3 314.5h.01M83.1 315.5h.01M81.7 323.4h.01M77.1 325.9h.01M83.9 306.2h.01M80.7 329.4h.01M79.7 314.6h.01M66.8 330.4h.01M80.9 332.9h.01M76.8 315.7h.01M88.3 312.4h.01M78.9 326.3h.01M76.2 332.3h.01M78.8 303.2h.01M77.0 317.8h.01M79.4 320.0h.01M83.6 318.3h.01M84.9 316.7h.01M86.5 312.9h.01M79.1 324.9h.01M75.0 320.8h.01M85.9 304.5h.01M71.2 315.8h.01M81.7 322.0h.01M76.6 319.9h.01M82.2 307.4h.01M78.0 321.5h.01M82.8 322.4h.01M80.6 314.7h.01M77.4 321.6h.01M82.8 305.7h.01M74.9 311.9h.01M82.9 317.7h.01M84.1 309.8h.01M82.2 315.2h.01M90.4 313.9h.01M76.7 316.4h.01M80.6 314.4h.01M84.2 315.3h.01M78.0 317.3h.01M75.3 315.0h.01M76.6 315.8h.01M81.1 315.9h.01M74.0 319.1h.01M76.8 317.8h.01M81.7 321.2h.01M76.9 310.0h.01M87.3 313.9h.01M83.6 310.9h.01M85.9 322.3h.01M72.4 319.4h.01M80.7 318.8h.01M71.7 325.3h.01M85.3 304.1h.01M79.2 312.3h.01M74.4 330.5h.01M80.4 307.9h.01M73.7 332.6h.01M78.6 321.3h.01M75.2 326.6h.01M81.3 324.5h.01M83.2 319.2h.01M70.8 316.4h.01M76.0 333.5h.01M85.2 313.7h.01M72.1 317.1h.01M79.6 323.5h.01M81.8 308.1h.01M74.7 322.3h.01M85.6 312.6h.01M79.0 333.5h.01M71.0 324.0h.01M72.0 330.3h.01M95.9 305.1h.01M73.2 327.7h.01M81.4 318.5h.01M71.8 320.5h.01M75.5 321.3h.01M74.9 333.0h.01M68.4 327.8h.01M87.3 308.9h.01M83.8 308.2h.01M77.8 322.1h.01M78.5 330.6h.01M78.9 316.6h.01M73.7 333.2h.01M89.6 308.8h.01M80.4 311.9h.01M81.9 318.9h.01M84.0 319.1h.01M68.3 320.9h.01M69.0 333.5h.01M78.1 330.6h.01M82.3 310.9h.01M81.1 315.1h.01M78.0 317.1h.01M82.9 323.9h.01M78.4 321.1h.01M86.5 311.4h.01M79.2 322.5h.01M77.0 327.0h.01M80.2 316.7h.01M81.2 318.4h.01M69.0 333.5h.01M77.6 317.8h.01M75.7 326.1h.01M82.9 306.5h.01M75.6 323.4h.01M77.9 328.9h.01M80.2 328.0h.01M84.1 313.0h.01M81.9 311.0h.01M74.2 332.5h.01M75.0 312.0h.01M80.3 330.0h.01M85.9 317.7h.01M81.5 314.1h.01M83.9 317.0h.01M78.4 319.0h.01M79.0 316.3h.01M83.0 299.6h.01M70.0 328.9h.01M80.7 310.5h.01M78.9 317.6h.01M74.4 314.9h.01M77.3 317.6h.01M84.8 311.7h.01M72.0 327.4h.01M85.6 316.5h.01M80.9 313.0h.01M73.1 307.2h.01M74.0 321.8h.01M78.7 327.8h.01M81.2 317.4h.01M81.4 321.0h.01M79.3 312.3h.01M78.3 310.6h.01M79.1 303.7h.01M74.3 319.7h.01M84.7 320.7h.01M84.3 327.4h.01M84.8 308.8h.01M81.3 324.9h.01M68.3 333.5h.01M81.9 311.6h.01M83.6 299.0h.01M74.8 329.0h.01M87.7 317.1h.01M75.0 332.9h.01M80.2 308.4h.01M73.3 320.9h.01M84.8 314.4h.01M82.0 314.9h.01M81.6 311.3h.01M84.6 314.7h.01M85.0 309.8h.01M82.4 319.5h.01M68.0 328.5h.01M84.4 306.8h.01M74.1 326.4h.01M79.2 320.4h.01M81.1 326.4h.01M85.7 333.5h.01M82.9 329.9h.01M74.5 311.5h.01M76.1 328.7h.01M78.4 316.4h.01M80.0 319.2h.01M76.3 328.1h.01M83.2 300.5h.01M79.1 327.9h.01M87.3 310.2h.01M77.3 323.9h.01M79.1 317.2h.01M84.8 317.6h.01M80.8 314.8h.01M85.9 323.3h.01M83.8 331.6h.01M81.8 313.5h.01M84.5 327.5h.01M86.4 310.9h.01M78.1 300.2h.01M78.4 317.9h.01M77.6 324.9h.01M83.0 315.7h.01M73.7 318.3h.01M83.3 315.6h.01M89.1 303.9h.01M74.8 317.3h.01M84.4 296.8h.01M82.9 318.6h.01M86.1 317.1h.01M73.6 326.2h.01M74.9 315.9h.01M83.1 325.9h.01M79.8 316.6h.01M77.9 323.6h.01M75.0 317.8h.01M76.5 311.0h.01M81.7 308.5h.01M66.6 333.5h.01M76.7 315.6h.01M90.0 306.9h.01M88.9 303.8h.01M80.8 307.6h.01M81.3 308.2h.01M73.8 317.5h.01M81.1 319.2h.01M74.7 318.0h.01M85.6 313.3h.01M82.2 320.9h.01M78.2 309.9h.01M71.8 316.7h.01M78.1 327.9h.01M78.4 326.6h.01M72.1 313.2h.01M84.0 325.2h.01M79.9 319.2h.01M70.9 322.3h.01M86.3 333.5h.01M75.3 319.3h.01M71.9 315.4h.01M90.2 310.5h.01M78.5 325.5h.01M80.2 327.5h.01M76.3 325.6h.01M85.2 309.5h.01M72.3 319.5h.01M79.6 333.5h.01M81.1 315.1h.01M83.6 309.3h.01M76.8 324.7h.01M79.0 319.8h.01M88.9 300.1h.01M79.1 316.6h.01M73.4 323.1h.01M72.0 333.4h.01M67.5 328.5h.01M68.5 323.6h.01M88.3 310.0h.01M84.8 329.8h.01M71.1 310.1h.01M75.4 317.5h.01M73.2 332.6h.01M84.5 310.6h.01M72.4 329.8h.01M81.7 326.8h.01M75.1 318.4h.01M68.7 323.5h.01M80.5 327.2h.01M74.6 333.5h.01M82.3 321.2h.01M79.7 329.6h.01M93.1 310.1h.01M74.5 332.1h.01M79.2 321.0h.01M79.9 328.3h.01M92.2 302.6h.01M74.2 325.9h.01M82.0 313.5h.01M82.1 327.0h.01M85.0 316.5h.01M84.0 322.4h.01M73.5 321.2h.01M73.7 317.1h.01M85.9 310.2h.01M75.1 332.9h.01M80.3 311.8h.01M78.2 314.9h.01M78.8 319.6h.01M76.8 313.8h.01M77.4 328.7h.01M79.9 324.0h.01M72.5 321.3h.01M82.6 313.6h.01M80.1 312.8h.01M83.4 323.9h.01M81.4 333.5h.01M80.6 314.9h.01M82.0 319.3h.01M78.2 325.7h.01M69.0 324.1h.01M80.3 317.7h.01M83.5 314.8h.01M84.6 314.7h.01M81.2 329.4h.01M84.8 296.8h.01M78.4 330.3h.01M86.1 313.3h.01M78.2 304.8h.01M82.3 316.8h.01M79.4 307.8h.01M77.9 318.4h.01M78.3 320.2h.01M71.7 317.8h.01M79.5 319.6h.01M63.8 317.0h.01M74.6 323.8h.01M83.3 328.5h.01M81.3 311.5h.01M94.4 319.2h.01M78.4 327.7h.01M83.6 326.2h.01M82.1 310.1h.01M77.9 313.1h.01M78.1 333.1h.01M82.9 305.6h.01M70.5 320.8h.01M80.7 300.1h.01M75.7 326.7h.01M83.1 309.5h.01M79.3 319.4h.01M81.6 312.3h.01M79.5 317.8h.01M81.5 330.1h.01M71.9 322.8h.01M78.2 322.7h.01M75.7 310.4h.01M76.3 329.6h.01M76.0 314.5h.01M76.7 328.5h.01M72.3 317.9h.01M82.8 328.4h.01M80.5 329.2h.01M80.9 333.5h.01M81.4 305.4h.01M79.9 325.6h.01M77.9 330.0h.01M83.9 309.8h.01M79.6 316.3h.01M78.9 309.9h.01M83.9 306.4h.01M71.7 319.4h.01M79.0 323.1h.01M76.4 306.8h.01M76.1 319.2h.01M75.8 328.8h.01M80.6 326.6h.01M74.4 333.5h.01M65.8 331.6h.01M79.4 314.5h.01M75.8 316.7h.01M73.3 326.5h.01M75.7 318.4h.01M74.6 321.3h.01M75.4 315.6h.01M62.6 332.0h.01M79.6 319.5h.01M79.1 310.4h.01M69.9 326.1h.01M79.0 312.2h.01M81.9 311.2h.01M71.0 318.7h.01M80.5 325.8h.01M80.3 325.1h.01M78.6 333.5h.01M92.0 298.5h.01M75.2 314.8h.01M75.1 322.5h.01M71.7 314.7h.01M80.0 327.3h.01M82.7 319.1h.01M77.2 310.7h.01M77.3 330.7h.01M79.7 319.0h.01M81.1 327.2h.01M85.4 316.9h.01M81.1 323.1h.01M75.3 318.3h.01M72.4 317.4h.01M79.5 320.9h.01M77.1 312.1h.01M72.5 328.8h.01M70.6 333.5h.01M87.5 298.4h.01M74.3 324.3h.01M79.7 303.3h.01M78.6 320.0h.01M74.2 324.0h.01M71.0 331.4h.01M88.8 310.9h.01M81.3 322.5h.01M81.1 315.7h.01M83.8 322.1h.01M80.0 314.3h.01M82.4 322.5h.01M74.7 322.9h.01M76.5 320.7h.01M84.4 309.6h.01M76.9 319.1h.01M85.2 308.5h.01M89.1 303.9h.01M76.4 320.1h.01M79.2 321.7h.01M83.6 313.6h.01M77.7 304.4h.01M73.6 316.9h.01M73.9 326.6h.01M73.5 323.0h.01M79.5 333.1h.01M82.3 323.2h.01M66.7 324.6h.01M81.1 325.3h.01M79.3 324.3h.01M81.8 329.9h.01M84.8 317.3h.01M83.7 323.3h.01M77.5 317.9h.01M77.7 324.4h.01M71.8 324.7h.01M69.0 331.6h.01M66.8 331.9h.01M76.2 327.7h.01M69.6 328.3h.01M65.1 330.6h.01M56.4 331.4h.01M72.5 331.3h.01M71.5 333.5h.01M66.5 332.4h.01M75.6 331.2h.01M59.4 329.9h.01M66.8 327.0h.01M68.0 331.7h.01M67.0 329.8h.01M75.7 329.0h.01M63.6 330.3h.01M73.9 331.4h.01M68.7 329.2h.01M74.5 332.0h.01M59.6 330.9h.01M56.2 333.2h.01M71.4 328.9h.01M61.8 329.6h.01M59.5 331.3h.01M65.7 326.7h.01M68.2 332.6h.01M61.9 329.5h.01M77.4 330.6h.01M65.5 330.6h.01M72.2 328.2h.01M67.8 326.9h.01M60.4 327.1h.01M72.5 330.8h.01M72.0 332.6h.01M68.5 330.7h.01M70.3 331.1h.01M63.0 329.6h.01M67.5 330.3h.01M64.5 329.9h.01M69.7 330.6h.01M71.3 331.8h.01M71.1 332.1h.01M72.5 333.0h.01M71.4 329.0h.01M80.0 332.5h.01M74.6 331.7h.01M68.5 327.9h.01M70.5 329.5h.01M66.3 325.9h.01M76.1 327.9h.01M62.8 331.1h.01M71.1 328.6h.01M68.3 330.7h.01M69.1 331.3h.01M72.2 329.5h.01M60.2 333.5h.01M66.4 328.2h.01M72.1 331.4h.01M65.2 333.5h.01M56.5 332.8h.01" stroke="#555" stroke-width="1.1" stroke-linecap="round" fill="none" opacity="0.28"/>
</g>
<rect x="55.30" y="290.20" width="42.20" height="43.80" fill="none" stroke="#555" stroke-width="0.6"/>
<line x1="71.50" y1="290.20" x2="71.50" y2="334.00" stroke="#777" stroke-width="0.5"/>
<line x1="55.30" y1="323.20" x2="97.50" y2="323.20" stroke="#777" stroke-width="0.5"/>
<line x1="62.30" y1="333.80" x2="89.30" y2="333.80" stroke="#222" stroke-width="1.0"/>
<line x1="55.60" y1="322.00" x2="55.60" y2="333.00" stroke="#444" stroke-width="0.8"/>
<text x="56.60" y="294.40" font-size="2.8" fill="#555">0.14</text>
<text x="56.60" y="332.40" font-size="2.8" fill="#444">5.85</text>
<text x="96.50" y="332.40" font-size="2.8" text-anchor="end" fill="#444">50.4</text>
<text x="95.10" y="299.80" font-size="10.7" text-anchor="end" font-weight="bold" fill="#000" stroke="#000" stroke-width="0.35" textLength="18.6" lengthAdjust="spacingAndGlyphs">43.6</text>
<text x="53.70" y="292.20" font-size="3.0" text-anchor="end" fill="#444">10</text>
<text x="55.10" y="290.60" font-size="2.0" text-anchor="end" fill="#444">4</text>
<text x="53.70" y="313.40" font-size="3.0" text-anchor="end" fill="#444">10</text>
<text x="55.10" y="311.80" font-size="2.0" text-anchor="end" fill="#444">2</text>
<text x="53.70" y="335.00" font-size="3.0" text-anchor="end" fill="#444">10</text>
<text x="55.10" y="333.40" font-size="2.0" text-anchor="end" fill="#444">0</text>
<text x="55.30" y="337.60" font-size="3.0" text-anchor="middle" fill="#444">10</text>
<text x="57.70" y="336.20" font-size="2.0" text-anchor="middle" fill="#444">0</text>
<text x="76.30" y="337.60" font-size="3.0" text-anchor="middle" fill="#444">10</text>
<text x="78.70" y="336.20" font-size="2.0" text-anchor="middle" fill="#444">2</text>
<text x="97.30" y="337.60" font-size="3.0" text-anchor="middle" fill="#444">10</text>
<text x="99.70" y="336.20" font-size="2.0" text-anchor="middle" fill="#444">4</text>
<clipPath id="cp21"><rect x="103.9" y="290.2" width="42.2" height="43.8"/></clipPath>
<g clip-path="url(#cp21)">
<ellipse cx="126.9" cy="317.2" rx="19.5" ry="10.8" fill="url(#rg)" opacity="0.86" transform="rotate(-74 126.9 317.2)"/>
<ellipse cx="115.9" cy="330.2" rx="11.5" ry="4.6" fill="url(#rg)" opacity="0.28" transform="rotate(0 115.9 330.2)"/>
<path d="M128.2 317.9h.01M126.6 314.3h.01M121.7 312.9h.01M134.3 322.9h.01M126.4 333.5h.01M117.8 333.5h.01M127.1 309.5h.01M118.7 320.0h.01M125.8 318.0h.01M118.3 320.4h.01M129.2 316.5h.01M131.9 308.5h.01M135.9 306.3h.01M127.8 333.5h.01M121.9 316.7h.01M132.3 314.9h.01M117.7 328.3h.01M126.0 310.8h.01M131.3 305.5h.01M119.6 320.0h.01M120.5 310.1h.01M117.9 326.2h.01M138.6 305.5h.01M124.6 318.5h.01M134.2 313.1h.01M135.0 326.7h.01M131.5 320.4h.01M121.1 333.5h.01M134.3 325.5h.01M120.6 317.3h.01M128.4 300.3h.01M121.2 315.6h.01M129.4 311.9h.01M124.4 319.1h.01M122.3 321.0h.01M129.0 330.3h.01M122.7 308.1h.01M126.0 327.3h.01M131.3 298.4h.01M125.0 319.5h.01M126.7 314.9h.01M133.9 309.6h.01M135.3 314.7h.01M123.9 318.4h.01M125.1 290.8h.01M112.5 326.9h.01M122.9 312.9h.01M119.9 305.8h.01M124.8 317.8h.01M129.4 327.5h.01M128.0 321.1h.01M126.3 321.7h.01M126.2 321.0h.01M123.6 317.1h.01M127.1 313.4h.01M119.9 323.8h.01M134.0 315.3h.01M121.9 327.4h.01M132.7 314.9h.01M123.2 309.8h.01M131.1 318.1h.01M126.4 314.9h.01M124.9 327.1h.01M126.9 317.8h.01M135.8 306.4h.01M126.1 324.0h.01M126.6 319.9h.01M134.9 305.0h.01M124.0 316.0h.01M128.2 319.0h.01M130.7 322.7h.01M121.6 315.5h.01M118.6 296.6h.01M125.7 319.3h.01M134.3 310.5h.01M137.4 307.3h.01M128.2 314.7h.01M129.2 308.8h.01M121.9 327.0h.01M131.2 312.6h.01M129.7 327.8h.01M120.8 312.7h.01M132.6 314.7h.01M126.7 312.4h.01M130.1 325.2h.01M127.4 315.3h.01M121.3 319.1h.01M120.9 332.1h.01M133.0 309.1h.01M132.2 324.8h.01M121.8 317.8h.01M135.5 311.0h.01M120.4 318.8h.01M115.7 314.6h.01M133.9 318.7h.01M124.2 314.0h.01M126.3 310.7h.01M128.3 306.3h.01M130.1 300.0h.01M123.1 314.4h.01M125.4 328.1h.01M123.3 313.1h.01M126.3 312.1h.01M125.3 321.6h.01M131.1 314.9h.01M131.5 307.6h.01M122.1 322.3h.01M122.3 312.6h.01M124.8 318.1h.01M127.5 318.2h.01M136.8 310.8h.01M133.6 311.3h.01M129.1 327.3h.01M123.8 304.8h.01M130.3 295.7h.01M129.3 333.5h.01M123.4 315.6h.01M130.4 323.3h.01M125.8 314.6h.01M125.4 306.5h.01M122.4 323.4h.01M128.3 324.2h.01M121.6 317.7h.01M116.8 318.4h.01M127.7 316.0h.01M127.3 311.9h.01M123.6 312.7h.01M127.7 317.2h.01M126.7 327.9h.01M127.5 316.1h.01M134.8 323.7h.01M123.4 316.2h.01M127.6 324.9h.01M122.8 317.9h.01M129.4 324.3h.01M131.9 317.9h.01M121.5 315.8h.01M130.4 310.5h.01M124.0 322.2h.01M128.4 326.2h.01M128.1 321.2h.01M126.3 314.7h.01M126.6 313.8h.01M122.2 326.3h.01M127.5 327.8h.01M125.8 311.1h.01M129.5 312.4h.01M125.0 308.0h.01M122.5 315.7h.01M131.5 324.6h.01M118.0 332.5h.01M131.6 314.2h.01M115.9 321.0h.01M124.5 331.7h.01M133.6 309.4h.01M131.3 324.9h.01M129.2 319.5h.01M133.6 320.8h.01M116.0 318.7h.01M127.0 320.0h.01M124.3 314.0h.01M121.2 317.6h.01M126.7 319.2h.01M134.9 317.4h.01M124.5 333.5h.01M122.7 312.2h.01M127.0 316.6h.01M127.8 326.3h.01M134.4 302.5h.01M133.5 312.2h.01M131.0 319.5h.01M125.8 324.0h.01M134.4 313.1h.01M124.9 319.2h.01M127.6 313.3h.01M130.8 317.1h.01M129.1 324.6h.01M126.6 313.8h.01M121.1 326.6h.01M131.0 318.8h.01M125.5 333.5h.01M122.3 314.2h.01M130.7 310.7h.01M123.5 312.4h.01M128.4 327.4h.01M131.8 306.2h.01M124.4 318.2h.01M127.3 332.4h.01M132.2 319.6h.01M129.9 324.4h.01M127.9 323.8h.01M126.9 305.1h.01M129.0 309.8h.01M125.6 325.1h.01M125.2 311.0h.01M123.7 318.6h.01M124.2 323.2h.01M126.6 309.9h.01M128.1 306.6h.01M130.1 324.2h.01M127.2 305.0h.01M123.0 311.0h.01M124.3 320.0h.01M122.9 309.8h.01M122.6 320.5h.01M121.6 314.8h.01M136.4 331.7h.01M120.7 313.5h.01M122.9 308.8h.01M130.0 333.5h.01M126.0 306.0h.01M126.5 326.6h.01M134.3 301.5h.01M123.1 310.3h.01M124.5 332.1h.01M129.9 309.2h.01M133.1 319.0h.01M129.9 325.4h.01M126.0 309.7h.01M127.7 316.3h.01M123.9 311.3h.01M126.8 319.2h.01M127.1 317.0h.01M126.6 314.9h.01M130.3 322.6h.01M124.0 322.0h.01M119.7 322.8h.01M127.7 313.5h.01M128.6 318.9h.01M129.5 319.5h.01M132.6 303.1h.01M133.7 321.5h.01M121.1 309.4h.01M130.9 306.7h.01M123.7 308.9h.01M122.1 323.2h.01M123.2 311.3h.01M129.5 324.1h.01M125.9 322.5h.01M117.3 322.3h.01M126.2 317.7h.01M127.9 330.0h.01M132.7 311.7h.01M120.6 319.8h.01M127.4 318.1h.01M123.9 317.9h.01M121.3 324.3h.01M124.5 317.3h.01M129.5 303.5h.01M125.9 313.0h.01M122.1 317.4h.01M119.1 319.2h.01M128.1 333.5h.01M126.4 326.2h.01M124.1 317.5h.01M126.1 310.7h.01M126.3 313.3h.01M133.4 310.6h.01M131.9 318.1h.01M135.0 315.1h.01M119.8 316.2h.01M128.4 315.8h.01M125.1 319.9h.01M120.7 317.8h.01M127.4 302.5h.01M117.4 323.8h.01M124.8 323.9h.01M132.9 306.2h.01M119.7 321.5h.01M124.0 326.1h.01M126.8 309.6h.01M139.1 306.8h.01M117.7 313.2h.01M129.0 308.4h.01M132.8 313.1h.01M124.9 325.4h.01M124.0 314.8h.01M127.9 311.5h.01M134.3 322.8h.01M134.5 318.0h.01M131.1 319.8h.01M125.8 323.4h.01M119.7 305.8h.01M126.9 312.6h.01M130.2 308.7h.01M121.0 316.2h.01M130.4 292.8h.01M122.9 318.9h.01M127.2 319.9h.01M128.5 329.2h.01M128.9 320.1h.01M119.7 333.4h.01M124.5 319.1h.01M126.7 322.9h.01M123.5 312.7h.01M125.6 333.5h.01M130.9 321.1h.01M128.4 310.1h.01M122.0 328.2h.01M130.7 324.6h.01M127.0 331.9h.01M120.8 328.8h.01M120.6 327.6h.01M127.5 321.2h.01M128.6 322.8h.01M131.6 303.5h.01M123.5 326.2h.01M125.0 317.6h.01M134.6 309.5h.01M133.8 301.9h.01M120.2 333.5h.01M124.8 310.9h.01M129.5 323.2h.01M122.2 314.7h.01M111.9 318.0h.01M121.5 315.7h.01M121.5 316.2h.01M122.5 324.0h.01M128.0 293.5h.01M121.8 326.0h.01M132.8 309.8h.01M127.0 311.3h.01M123.8 315.3h.01M122.9 317.7h.01M119.2 327.6h.01M133.0 302.4h.01M124.7 323.1h.01M131.2 322.4h.01M124.0 316.7h.01M129.8 312.2h.01M121.9 321.7h.01M119.9 314.1h.01M129.2 325.8h.01M133.8 311.8h.01M123.2 320.1h.01M124.1 318.8h.01M128.8 306.8h.01M126.8 305.6h.01M134.9 316.3h.01M122.3 322.4h.01M118.4 320.0h.01M123.3 318.8h.01M129.8 299.1h.01M126.2 333.5h.01M128.9 309.6h.01M130.7 315.9h.01M125.8 321.8h.01M134.5 318.2h.01M130.8 306.2h.01M127.7 329.1h.01M131.9 319.2h.01M127.8 317.1h.01M125.1 311.1h.01M135.5 325.4h.01M129.0 325.4h.01M132.0 312.9h.01M124.0 304.7h.01M119.9 307.1h.01M128.5 317.3h.01M134.0 310.5h.01M123.5 324.4h.01M123.4 317.7h.01M122.1 323.0h.01M135.5 309.9h.01M136.0 313.5h.01M122.2 315.2h.01M126.3 322.8h.01M134.6 310.7h.01M129.0 325.6h.01M128.3 322.3h.01M135.5 311.9h.01M126.7 321.8h.01M126.0 313.4h.01M129.7 317.3h.01M120.3 329.6h.01M134.1 299.5h.01M117.5 319.4h.01M127.0 325.6h.01M130.4 312.5h.01M125.5 311.8h.01M125.5 303.2h.01M126.8 312.9h.01M127.0 332.0h.01M129.4 320.4h.01M130.5 307.4h.01M124.4 322.3h.01M133.1 319.7h.01M135.8 312.5h.01M125.2 310.3h.01M133.3 311.2h.01M128.6 318.9h.01M120.5 318.2h.01M130.0 319.0h.01M116.1 317.3h.01M129.9 325.0h.01M132.3 317.0h.01M123.3 322.8h.01M121.1 324.3h.01M128.6 313.4h.01M127.1 321.5h.01M122.2 327.2h.01M116.8 327.3h.01M118.9 326.7h.01M136.5 306.5h.01M127.1 306.6h.01M123.2 310.9h.01M126.7 321.9h.01M124.1 330.3h.01M119.1 309.8h.01M120.1 333.5h.01M127.2 318.5h.01M126.8 327.0h.01M123.9 315.4h.01M131.7 304.6h.01M136.8 313.8h.01M124.8 321.0h.01M121.9 330.8h.01M139.0 317.0h.01M129.0 313.1h.01M120.2 326.3h.01M116.5 330.3h.01M128.4 316.8h.01M123.8 324.3h.01M127.8 324.5h.01M125.8 311.5h.01M120.4 319.4h.01M135.5 323.8h.01M130.6 318.5h.01M134.8 314.6h.01M122.1 318.8h.01M133.3 310.3h.01M130.2 324.0h.01M126.6 317.4h.01M133.4 303.4h.01M126.2 314.4h.01M132.0 317.1h.01M124.5 312.7h.01M127.4 313.6h.01M126.7 314.6h.01M114.7 332.6h.01M116.1 317.6h.01M132.5 331.9h.01M126.4 311.2h.01M117.6 311.9h.01M131.8 316.6h.01M121.4 314.2h.01M126.7 308.9h.01M126.4 322.1h.01M135.3 322.4h.01M136.1 321.2h.01M122.3 312.1h.01M127.1 317.4h.01M135.9 307.5h.01M129.7 296.1h.01M136.3 323.8h.01M126.4 324.9h.01M126.0 303.2h.01M122.7 319.2h.01M129.9 313.7h.01M129.7 318.5h.01M123.4 323.1h.01M137.0 316.2h.01M127.0 317.7h.01M130.2 307.0h.01M130.9 307.3h.01M130.3 308.4h.01M120.9 323.6h.01M136.3 316.3h.01M129.7 302.0h.01M127.6 295.9h.01M129.1 325.3h.01M127.5 330.7h.01M130.5 315.1h.01M125.8 327.5h.01M128.8 309.8h.01M129.3 309.1h.01M126.2 314.2h.01M123.0 328.0h.01M124.6 312.4h.01M115.4 331.0h.01M128.9 306.5h.01M130.7 325.0h.01M119.7 316.8h.01M121.9 319.7h.01M122.3 317.6h.01M129.1 317.4h.01M124.6 321.7h.01M130.2 319.6h.01M128.6 324.0h.01M128.9 307.1h.01M123.3 324.7h.01M120.4 330.8h.01M123.4 326.7h.01M128.3 321.0h.01M129.0 316.9h.01M128.0 318.1h.01M127.2 327.3h.01M134.9 308.3h.01M125.7 328.6h.01M126.5 331.3h.01M124.3 318.4h.01M124.1 323.0h.01M122.5 316.1h.01M128.2 317.2h.01M127.9 313.0h.01M137.3 320.4h.01M130.6 309.6h.01M126.5 329.3h.01M116.2 309.3h.01M128.2 319.1h.01M127.4 317.2h.01M132.8 320.3h.01M126.5 313.9h.01M135.8 321.8h.01M122.5 323.6h.01M128.3 314.9h.01M133.7 316.6h.01M131.4 308.7h.01M126.7 316.9h.01M130.9 320.5h.01M119.3 326.1h.01M121.5 319.7h.01M130.6 324.8h.01M124.3 333.5h.01M122.8 327.6h.01M121.1 320.6h.01M123.8 329.3h.01M110.5 333.5h.01M130.9 321.9h.01M129.8 302.0h.01M123.7 323.4h.01M132.2 314.7h.01M126.8 325.6h.01M132.0 319.0h.01M125.0 320.3h.01M118.9 322.5h.01M130.7 316.0h.01M130.7 308.6h.01M121.7 319.8h.01M120.9 325.7h.01M128.1 314.7h.01M121.1 333.5h.01M121.5 318.3h.01M129.2 318.2h.01M118.4 323.9h.01M127.3 320.2h.01M133.3 321.4h.01M122.7 314.8h.01M125.7 310.2h.01M128.9 311.9h.01M125.2 306.1h.01M130.5 312.0h.01M128.0 325.5h.01M133.7 299.4h.01M124.4 323.3h.01M131.0 307.1h.01M127.4 304.5h.01M122.8 304.7h.01M125.2 318.2h.01M131.3 322.8h.01M127.1 322.6h.01M134.9 303.4h.01M122.6 319.7h.01M123.9 333.5h.01M133.9 311.5h.01M137.2 318.1h.01M118.2 308.0h.01M128.4 325.4h.01M129.7 321.6h.01M129.4 295.5h.01M131.7 299.3h.01M123.9 329.3h.01M126.4 309.2h.01M126.6 303.3h.01M130.6 320.0h.01M123.9 318.3h.01M129.8 318.2h.01M137.1 305.0h.01M131.1 302.0h.01M122.8 330.7h.01M121.4 319.3h.01M125.4 321.3h.01M131.2 318.0h.01M129.9 326.2h.01M130.3 317.8h.01M124.2 305.5h.01M127.4 303.3h.01M132.7 315.4h.01M122.0 307.7h.01M132.4 317.4h.01M126.2 318.1h.01M134.5 318.8h.01M121.4 320.4h.01M121.9 325.5h.01M127.9 319.6h.01M118.9 315.7h.01M126.3 330.9h.01M122.5 309.6h.01M118.1 306.5h.01M135.0 299.1h.01M125.3 331.4h.01M124.8 316.9h.01M125.0 319.9h.01M122.6 316.9h.01M128.1 322.6h.01M122.1 311.2h.01M132.8 323.3h.01M136.0 313.5h.01M119.0 326.9h.01M113.0 332.4h.01M121.3 318.9h.01M121.2 325.2h.01M130.2 319.8h.01M120.3 310.4h.01M128.9 304.6h.01M124.4 325.3h.01M119.7 318.7h.01M127.9 303.7h.01M127.9 322.8h.01M133.0 304.2h.01M111.4 331.1h.01M121.4 331.0h.01M119.1 329.2h.01M115.5 326.8h.01M112.3 327.9h.01M115.9 333.2h.01M104.6 327.6h.01M111.2 330.0h.01M121.7 328.6h.01M112.0 332.6h.01M117.8 331.3h.01M120.1 328.7h.01M117.0 328.9h.01M112.3 330.5h.01M118.1 327.6h.01M112.0 331.4h.01M116.7 331.5h.01M114.3 328.6h.01M119.8 331.4h.01M104.5 331.9h.01M112.1 331.5h.01M123.8 329.6h.01M111.0 330.7h.01M116.3 331.3h.01M108.9 330.7h.01M120.4 331.6h.01M119.0 332.6h.01M111.8 332.7h.01M116.9 328.2h.01M114.4 330.7h.01M117.6 332.9h.01M116.9 329.2h.01M126.9 329.5h.01M111.8 332.1h.01M113.8 328.6h.01M110.6 332.6h.01M110.6 330.4h.01M113.6 329.8h.01M111.8 330.5h.01M118.9 332.3h.01M114.1 327.9h.01M108.5 330.2h.01M104.5 332.9h.01M116.0 330.5h.01M108.9 328.9h.01M112.2 331.6h.01M113.8 331.4h.01M118.5 326.3h.01M114.7 332.7h.01M113.3 330.5h.01" stroke="#555" stroke-width="1.1" stroke-linecap="round" fill="none" opacity="0.28"/>
</g>
<rect x="103.90" y="290.20" width="42.20" height="43.80" fill="none" stroke="#555" stroke-width="0.6"/>
<line x1="120.10" y1="290.20" x2="120.10" y2="334.00" stroke="#777" stroke-width="0.5"/>
<line x1="103.90" y1="323.20" x2="146.10" y2="323.20" stroke="#777" stroke-width="0.5"/>
<line x1="110.90" y1="333.80" x2="137.90" y2="333.80" stroke="#222" stroke-width="1.0"/>
<line x1="104.20" y1="322.00" x2="104.20" y2="333.00" stroke="#444" stroke-width="0.8"/>
<text x="105.20" y="294.40" font-size="2.8" fill="#555">0.81</text>
<text x="105.20" y="332.40" font-size="2.8" fill="#444">0.83</text>
<text x="145.10" y="332.40" font-size="2.8" text-anchor="end" fill="#444">35.0</text>
<text x="143.70" y="299.80" font-size="10.7" text-anchor="end" font-weight="bold" fill="#000" stroke="#000" stroke-width="0.35" textLength="18.6" lengthAdjust="spacingAndGlyphs">63.3</text>
<text x="102.30" y="292.20" font-size="3.0" text-anchor="end" fill="#444">10</text>
<text x="103.70" y="290.60" font-size="2.0" text-anchor="end" fill="#444">4</text>
<text x="102.30" y="313.40" font-size="3.0" text-anchor="end" fill="#444">10</text>
<text x="103.70" y="311.80" font-size="2.0" text-anchor="end" fill="#444">2</text>
<text x="102.30" y="335.00" font-size="3.0" text-anchor="end" fill="#444">10</text>
<text x="103.70" y="333.40" font-size="2.0" text-anchor="end" fill="#444">0</text>
<text x="103.90" y="337.60" font-size="3.0" text-anchor="middle" fill="#444">10</text>
<text x="106.30" y="336.20" font-size="2.0" text-anchor="middle" fill="#444">0</text>
<text x="124.90" y="337.60" font-size="3.0" text-anchor="middle" fill="#444">10</text>
<text x="127.30" y="336.20" font-size="2.0" text-anchor="middle" fill="#444">2</text>
<text x="145.90" y="337.60" font-size="3.0" text-anchor="middle" fill="#444">10</text>
<text x="148.30" y="336.20" font-size="2.0" text-anchor="middle" fill="#444">4</text>
<clipPath id="cp22"><rect x="153.1" y="290.2" width="42.2" height="43.8"/></clipPath>
<g clip-path="url(#cp22)">
<ellipse cx="175.1" cy="320.2" rx="19.5" ry="9.0" fill="url(#rg)" opacity="0.87" transform="rotate(-64 175.1 320.2)"/>
<ellipse cx="165.1" cy="330.2" rx="11.5" ry="4.6" fill="url(#rg)" opacity="0.39" transform="rotate(0 165.1 330.2)"/>
<path d="M170.3 319.1h.01M182.8 303.3h.01M175.9 314.6h.01M184.4 311.4h.01M182.9 312.8h.01M182.6 317.2h.01M177.1 317.4h.01M175.0 312.5h.01M168.5 333.5h.01M173.2 317.8h.01M170.8 320.6h.01M172.6 327.0h.01M178.5 320.7h.01M177.0 322.0h.01M175.2 313.8h.01M166.4 332.0h.01M172.3 321.2h.01M181.0 302.1h.01M174.2 315.3h.01M173.3 312.8h.01M179.3 313.2h.01M169.4 321.2h.01M179.3 306.4h.01M172.1 305.0h.01M177.0 332.5h.01M181.9 306.6h.01M181.0 313.6h.01M174.2 323.2h.01M166.1 326.7h.01M178.2 320.5h.01M171.4 316.9h.01M178.6 313.9h.01M176.9 314.0h.01M177.8 324.1h.01M176.1 307.6h.01M174.4 330.4h.01M176.7 317.6h.01M175.0 329.5h.01M176.6 319.2h.01M174.8 316.4h.01M177.1 317.4h.01M179.2 315.4h.01M167.9 328.8h.01M178.2 324.3h.01M176.7 327.1h.01M182.2 313.4h.01M183.5 302.9h.01M180.6 319.8h.01M180.1 318.8h.01M179.6 323.6h.01M169.8 314.3h.01M178.5 311.6h.01M170.8 326.5h.01M178.1 324.3h.01M176.1 317.6h.01M172.0 318.8h.01M171.1 324.3h.01M170.2 320.0h.01M177.2 325.0h.01M176.8 316.8h.01M175.6 317.2h.01M173.8 330.8h.01M185.3 303.9h.01M186.3 319.2h.01M172.5 330.4h.01M172.9 322.4h.01M168.7 332.8h.01M171.1 314.4h.01M172.6 321.1h.01M173.6 329.0h.01M182.8 308.3h.01M181.7 313.6h.01M176.9 321.7h.01M178.6 309.3h.01M169.8 319.0h.01M165.3 333.1h.01M179.8 314.0h.01M180.7 320.5h.01M173.4 333.5h.01M178.2 320.9h.01M177.5 308.2h.01M173.3 327.6h.01M172.9 319.7h.01M172.2 320.0h.01M174.3 318.5h.01M177.9 305.4h.01M177.6 315.9h.01M177.7 306.4h.01M179.4 326.7h.01M171.4 324.6h.01M170.3 321.6h.01M185.0 313.4h.01M172.0 320.1h.01M172.4 331.7h.01M175.1 325.2h.01M164.7 333.5h.01M178.9 316.1h.01M165.5 333.5h.01M175.6 319.2h.01M172.3 322.1h.01M177.5 320.0h.01M163.3 333.5h.01M177.9 312.7h.01M176.5 309.3h.01M185.6 307.2h.01M183.2 328.0h.01M186.0 311.9h.01M170.3 329.2h.01M180.6 318.4h.01M170.9 317.4h.01M179.1 310.6h.01M175.7 316.3h.01M170.0 318.8h.01M175.5 314.0h.01M169.9 333.5h.01M178.3 322.1h.01M174.0 311.9h.01M174.5 321.6h.01M171.8 317.8h.01M178.8 321.3h.01M184.8 313.2h.01M169.2 310.1h.01M172.2 321.4h.01M169.6 333.5h.01M178.5 313.2h.01M178.2 318.3h.01M179.1 324.2h.01M184.8 307.6h.01M173.9 324.9h.01M181.3 313.9h.01M175.9 327.1h.01M179.9 315.6h.01M173.5 323.4h.01M167.9 333.5h.01M172.5 323.1h.01M173.0 321.8h.01M175.8 319.7h.01M172.4 324.7h.01M176.5 321.7h.01M175.5 316.2h.01M166.4 323.8h.01M171.9 330.5h.01M177.3 330.0h.01M173.2 320.8h.01M172.7 320.5h.01M173.0 325.2h.01M170.2 331.5h.01M171.7 319.4h.01M180.2 313.0h.01M176.9 310.8h.01M166.4 327.7h.01M162.7 329.1h.01M179.3 307.4h.01M174.0 317.8h.01M180.1 324.0h.01M165.2 331.9h.01M172.5 317.7h.01M182.2 317.1h.01M181.1 314.6h.01M178.0 323.2h.01M168.0 324.3h.01M173.3 321.8h.01M176.3 309.2h.01M176.7 310.1h.01M164.5 327.0h.01M170.0 318.0h.01M176.1 318.7h.01M167.0 320.0h.01M174.7 324.9h.01M170.9 333.5h.01M173.3 319.2h.01M178.1 319.8h.01M172.4 319.1h.01M175.7 313.0h.01M179.9 319.1h.01M185.5 312.9h.01M179.5 312.6h.01M175.0 322.1h.01M187.4 321.2h.01M174.7 313.8h.01M175.3 305.9h.01M174.4 310.4h.01M169.3 327.7h.01M169.4 320.1h.01M177.0 315.3h.01M176.6 308.2h.01M170.7 333.5h.01M177.7 323.6h.01M162.1 333.5h.01M182.2 322.8h.01M163.9 326.4h.01M178.3 326.1h.01M176.3 305.8h.01M166.5 321.8h.01M168.6 325.0h.01M180.7 318.9h.01M182.8 301.3h.01M178.9 314.3h.01M182.3 322.5h.01M183.2 317.5h.01M179.2 319.4h.01M176.7 316.2h.01M171.1 324.9h.01M173.8 319.5h.01M171.4 321.6h.01M177.5 313.2h.01M173.9 320.7h.01M178.2 309.2h.01M177.4 307.9h.01M183.0 309.5h.01M174.9 324.7h.01M176.1 309.9h.01M175.4 322.5h.01M173.3 321.3h.01M176.3 320.6h.01M183.1 316.8h.01M184.1 327.6h.01M180.1 325.7h.01M169.6 318.7h.01M172.3 322.9h.01M172.1 308.6h.01M172.3 324.8h.01M178.9 315.8h.01M177.8 313.4h.01M178.4 324.0h.01M182.9 307.7h.01M172.7 317.6h.01M184.4 304.8h.01M171.9 312.7h.01M185.8 319.7h.01M173.8 321.1h.01M180.2 308.1h.01M185.0 317.0h.01M167.9 327.7h.01M178.1 315.2h.01M174.7 319.6h.01M176.8 319.8h.01M172.4 323.3h.01M172.2 316.6h.01M169.2 313.1h.01M177.1 315.1h.01M175.4 331.4h.01M177.9 332.6h.01M176.6 327.8h.01M180.5 323.4h.01M177.9 323.6h.01M167.4 319.5h.01M178.2 318.0h.01M182.4 320.0h.01M167.4 323.4h.01M173.7 317.1h.01M174.7 321.0h.01M175.9 328.3h.01M180.9 324.1h.01M179.7 320.1h.01M171.8 321.3h.01M170.1 322.7h.01M177.3 317.0h.01M165.8 325.8h.01M165.6 323.6h.01M166.6 324.3h.01M173.7 312.8h.01M172.5 324.4h.01M176.7 320.6h.01M180.2 315.5h.01M178.2 324.9h.01M174.0 316.2h.01M176.6 306.8h.01M181.2 318.7h.01M176.8 319.9h.01M177.9 320.4h.01M176.0 318.5h.01M171.2 311.6h.01M175.0 317.7h.01M183.4 305.8h.01M175.0 326.3h.01M169.6 321.1h.01M175.8 323.1h.01M183.2 312.9h.01M175.4 318.2h.01M180.1 320.7h.01M178.7 323.1h.01M172.2 326.2h.01M180.4 315.5h.01M174.1 317.8h.01M167.0 333.0h.01M170.6 325.9h.01M178.3 306.9h.01M178.2 313.7h.01M171.4 328.7h.01M173.8 312.5h.01M169.5 328.3h.01M175.7 313.7h.01M178.3 317.8h.01M176.7 320.8h.01M179.1 310.3h.01M172.6 315.9h.01M172.1 325.4h.01M175.8 312.9h.01M173.2 332.2h.01M174.9 297.9h.01M171.6 328.4h.01M173.6 314.9h.01M180.2 319.5h.01M176.6 323.5h.01M172.4 317.6h.01M170.8 323.8h.01M184.0 312.1h.01M170.6 315.7h.01M171.9 323.2h.01M168.0 333.5h.01M171.6 315.8h.01M172.0 322.6h.01M184.2 307.4h.01M178.2 314.5h.01M173.6 331.3h.01M166.0 322.0h.01M176.6 314.1h.01M176.9 321.0h.01M175.7 322.6h.01M178.7 310.0h.01M173.9 322.9h.01M176.1 314.7h.01M173.1 318.4h.01M176.7 321.7h.01M171.5 326.0h.01M167.4 329.9h.01M177.2 320.5h.01M171.0 327.7h.01M172.8 327.7h.01M177.6 319.0h.01M169.4 319.3h.01M168.4 322.1h.01M172.5 325.1h.01M176.8 311.0h.01M173.0 326.3h.01M174.5 333.5h.01M173.0 333.4h.01M182.0 314.5h.01M177.3 322.2h.01M177.2 324.4h.01M169.9 323.7h.01M174.9 316.6h.01M174.6 313.7h.01M172.7 316.5h.01M182.2 324.6h.01M167.0 326.1h.01M168.5 331.7h.01M179.4 307.4h.01M177.9 312.9h.01M179.7 328.3h.01M172.7 309.1h.01M173.0 328.2h.01M176.7 315.0h.01M178.1 318.8h.01M177.3 324.5h.01M174.6 327.8h.01M179.1 313.7h.01M173.8 322.7h.01M168.0 333.5h.01M163.0 327.4h.01M174.7 313.0h.01M176.6 317.6h.01M165.6 331.7h.01M175.8 323.0h.01M171.0 317.5h.01M173.6 324.3h.01M169.0 328.9h.01M165.8 320.7h.01M184.4 308.9h.01M176.7 325.2h.01M176.6 330.5h.01M174.3 323.2h.01M173.3 324.6h.01M176.4 317.8h.01M174.7 327.6h.01M177.1 316.1h.01M176.4 311.2h.01M179.2 310.5h.01M179.1 308.2h.01M174.9 322.4h.01M184.0 314.5h.01M171.0 322.3h.01M182.1 316.6h.01M176.5 314.4h.01M179.6 310.7h.01M177.9 320.0h.01M165.2 320.6h.01M178.4 319.8h.01M178.6 317.9h.01M179.3 320.7h.01M180.7 321.9h.01M178.0 321.2h.01M174.2 324.8h.01M177.1 317.3h.01M180.8 308.8h.01M180.4 312.5h.01M175.9 310.6h.01M177.1 324.5h.01M173.5 326.9h.01M177.8 316.3h.01M178.6 317.9h.01M175.7 322.6h.01M171.7 323.3h.01M169.0 331.7h.01M169.1 332.8h.01M172.1 316.8h.01M176.4 320.2h.01M170.7 321.2h.01M176.1 321.7h.01M185.1 316.6h.01M169.2 333.5h.01M174.5 315.9h.01M183.5 321.3h.01M180.2 321.6h.01M177.4 311.6h.01M170.8 333.5h.01M174.6 305.8h.01M172.0 320.5h.01M176.1 318.8h.01M177.2 310.7h.01M176.2 303.1h.01M185.1 323.1h.01M176.9 322.0h.01M184.8 329.2h.01M177.1 313.0h.01M168.9 333.5h.01M170.7 311.3h.01M175.3 324.7h.01M165.8 333.5h.01M164.7 329.7h.01M180.5 319.1h.01M177.0 310.5h.01M170.8 313.4h.01M171.7 332.1h.01M170.1 321.4h.01M167.6 333.5h.01M176.2 300.3h.01M175.2 329.8h.01M166.0 333.3h.01M179.3 321.6h.01M181.2 323.8h.01M174.6 320.2h.01M177.9 317.5h.01M166.4 329.7h.01M175.4 322.5h.01M168.2 328.1h.01M173.6 326.3h.01M175.6 324.4h.01M173.3 315.8h.01M169.7 320.3h.01M178.3 320.8h.01M165.4 324.5h.01M176.0 315.9h.01M176.6 321.2h.01M179.7 319.0h.01M165.8 319.9h.01M172.3 323.3h.01M175.0 323.9h.01M178.7 324.2h.01M172.8 324.9h.01M181.2 326.4h.01M168.2 325.6h.01M176.4 324.3h.01M174.5 319.8h.01M162.6 327.5h.01M173.5 321.4h.01M182.8 307.7h.01M180.0 318.7h.01M167.6 324.8h.01M178.9 325.4h.01M176.7 311.9h.01M173.8 331.0h.01M175.3 310.2h.01M178.2 306.9h.01M177.1 314.3h.01M171.8 321.6h.01M179.8 316.1h.01M177.1 313.7h.01M179.5 330.2h.01M180.7 307.1h.01M176.2 331.3h.01M175.8 319.3h.01M179.4 314.4h.01M182.4 322.7h.01M170.5 333.5h.01M171.8 327.7h.01M175.4 321.9h.01M168.7 333.5h.01M182.2 302.1h.01M180.6 314.5h.01M174.4 317.1h.01M178.4 315.9h.01M183.3 310.8h.01M162.3 320.5h.01M182.3 309.7h.01M173.6 317.9h.01M188.9 303.7h.01M174.2 318.8h.01M181.9 318.2h.01M180.3 317.9h.01M177.3 318.8h.01M170.9 329.9h.01M175.0 319.7h.01M175.3 322.5h.01M172.3 324.2h.01M178.4 333.5h.01M167.6 324.9h.01M171.7 323.5h.01M162.6 324.1h.01M184.7 309.6h.01M175.7 324.0h.01M165.4 325.8h.01M178.3 318.7h.01M172.6 325.4h.01M163.3 333.5h.01M179.6 312.5h.01M177.8 319.8h.01M162.9 333.5h.01M171.3 330.2h.01M162.0 326.4h.01M169.5 329.8h.01M170.0 333.5h.01M156.9 327.7h.01M170.4 333.0h.01M167.1 330.9h.01M168.5 331.5h.01M158.8 331.7h.01M170.0 329.4h.01M160.6 329.2h.01M162.2 331.3h.01M168.9 330.2h.01M163.6 326.7h.01M163.0 328.2h.01M162.4 330.9h.01M165.9 333.5h.01M160.8 329.1h.01M159.4 329.7h.01M163.7 332.2h.01M155.4 332.0h.01M168.3 329.2h.01M161.7 330.6h.01M167.7 329.9h.01M164.3 330.2h.01M159.7 330.7h.01M168.0 330.3h.01M159.4 330.2h.01M164.6 330.8h.01M163.0 331.9h.01M170.5 331.8h.01M166.3 332.6h.01M164.9 329.9h.01M158.0 330.2h.01M171.1 328.3h.01M169.0 327.7h.01M166.6 333.5h.01M165.3 327.9h.01M166.5 329.9h.01M169.0 329.2h.01M156.5 329.3h.01M168.0 332.2h.01M166.5 330.3h.01M168.5 329.8h.01M162.8 330.6h.01M170.5 329.2h.01M167.5 328.9h.01M161.4 330.5h.01M158.5 328.5h.01M159.2 329.0h.01M160.6 333.5h.01M168.1 330.3h.01M158.4 325.5h.01M167.3 329.0h.01M170.3 329.4h.01M158.6 329.0h.01M157.5 327.4h.01M168.6 329.2h.01M168.5 329.1h.01M163.9 329.1h.01M162.4 328.9h.01M172.5 330.1h.01M155.4 333.5h.01M171.3 332.4h.01M164.5 329.9h.01M162.7 330.4h.01M167.4 330.2h.01M161.0 328.3h.01M173.3 333.5h.01M158.9 329.0h.01M164.9 331.4h.01" stroke="#555" stroke-width="1.1" stroke-linecap="round" fill="none" opacity="0.28"/>
</g>
<rect x="153.10" y="290.20" width="42.20" height="43.80" fill="none" stroke="#555" stroke-width="0.6"/>
<line x1="169.30" y1="290.20" x2="169.30" y2="334.00" stroke="#777" stroke-width="0.5"/>
<line x1="153.10" y1="323.20" x2="195.30" y2="323.20" stroke="#777" stroke-width="0.5"/>
<line x1="160.10" y1="333.80" x2="187.10" y2="333.80" stroke="#222" stroke-width="1.0"/>
<line x1="153.40" y1="322.00" x2="153.40" y2="333.00" stroke="#444" stroke-width="0.8"/>
<text x="154.40" y="294.40" font-size="2.8" fill="#555">0.968</text>
<text x="154.40" y="332.40" font-size="2.8" fill="#444">19.83</text>
<text x="194.30" y="332.40" font-size="2.8" text-anchor="end" fill="#444">50.1</text>
<text x="193.10" y="296.40" font-size="4.6" text-anchor="end" fill="#444">29.1</text>
<text x="151.50" y="292.20" font-size="3.0" text-anchor="end" fill="#444">10</text>
<text x="152.90" y="290.60" font-size="2.0" text-anchor="end" fill="#444">4</text>
<text x="151.50" y="313.40" font-size="3.0" text-anchor="end" fill="#444">10</text>
<text x="152.90" y="311.80" font-size="2.0" text-anchor="end" fill="#444">2</text>
<text x="151.50" y="335.00" font-size="3.0" text-anchor="end" fill="#444">10</text>
<text x="152.90" y="333.40" font-size="2.0" text-anchor="end" fill="#444">0</text>
<text x="153.10" y="337.60" font-size="3.0" text-anchor="middle" fill="#444">10</text>
<text x="155.50" y="336.20" font-size="2.0" text-anchor="middle" fill="#444">0</text>
<text x="174.10" y="337.60" font-size="3.0" text-anchor="middle" fill="#444">10</text>
<text x="176.50" y="336.20" font-size="2.0" text-anchor="middle" fill="#444">2</text>
<text x="195.10" y="337.60" font-size="3.0" text-anchor="middle" fill="#444">10</text>
<text x="197.50" y="336.20" font-size="2.0" text-anchor="middle" fill="#444">4</text>
<clipPath id="cp23"><rect x="202.0" y="290.2" width="42.2" height="43.8"/></clipPath>
<g clip-path="url(#cp23)">
<ellipse cx="226.0" cy="318.2" rx="19.5" ry="9.9" fill="url(#rg)" opacity="0.85" transform="rotate(-68 226.0 318.2)"/>
<ellipse cx="215.0" cy="330.2" rx="11.5" ry="4.6" fill="url(#rg)" opacity="0.33" transform="rotate(0 215.0 330.2)"/>
<path d="M226.6 319.5h.01M231.6 317.2h.01M226.1 330.2h.01M229.5 315.7h.01M220.3 329.7h.01M227.6 321.3h.01M230.8 314.0h.01M226.8 330.4h.01M229.8 319.2h.01M223.2 317.3h.01M236.8 298.8h.01M226.6 311.6h.01M229.6 321.8h.01M234.2 317.5h.01M225.6 307.2h.01M225.6 332.2h.01M226.9 313.2h.01M222.9 319.7h.01M231.0 304.0h.01M225.1 330.5h.01M227.1 319.5h.01M224.6 321.3h.01M222.1 333.5h.01M222.3 323.1h.01M231.9 317.8h.01M218.6 333.5h.01M231.6 315.6h.01M224.3 326.0h.01M230.8 316.6h.01M223.3 322.9h.01M228.7 324.1h.01M227.7 309.1h.01M226.4 319.7h.01M222.7 325.2h.01M231.7 312.7h.01M221.3 322.7h.01M220.0 317.0h.01M227.4 316.1h.01M220.8 328.5h.01M222.8 323.1h.01M228.4 327.3h.01M225.8 327.1h.01M232.2 318.9h.01M225.8 318.8h.01M219.0 314.9h.01M232.8 299.1h.01M220.7 319.1h.01M231.7 321.9h.01M225.3 325.0h.01M232.9 311.7h.01M218.0 318.8h.01M229.4 316.0h.01M223.3 320.3h.01M225.5 302.1h.01M222.0 321.5h.01M218.4 329.6h.01M228.2 326.5h.01M215.2 330.0h.01M220.9 313.9h.01M217.2 333.2h.01M218.4 326.3h.01M227.2 320.3h.01M222.9 323.0h.01M227.7 312.5h.01M226.1 311.7h.01M232.4 316.5h.01M233.0 333.5h.01M223.7 320.4h.01M227.2 320.3h.01M222.3 327.9h.01M229.5 325.1h.01M223.0 332.9h.01M222.2 319.7h.01M225.5 316.9h.01M227.0 318.4h.01M228.3 308.3h.01M221.1 301.1h.01M236.4 305.9h.01M231.7 306.4h.01M223.1 314.6h.01M225.9 306.1h.01M223.5 324.6h.01M228.0 317.0h.01M221.0 327.0h.01M232.0 316.3h.01M230.0 313.0h.01M223.1 319.6h.01M224.0 322.3h.01M225.8 313.4h.01M228.7 300.7h.01M227.8 311.6h.01M224.1 318.9h.01M229.7 305.9h.01M228.2 314.2h.01M230.6 313.4h.01M228.5 304.3h.01M229.8 327.4h.01M230.3 308.5h.01M226.0 321.0h.01M227.2 307.0h.01M230.4 306.9h.01M223.4 320.6h.01M220.6 333.5h.01M219.7 327.9h.01M224.0 325.8h.01M228.4 312.8h.01M228.1 317.5h.01M233.3 306.6h.01M230.7 305.9h.01M224.7 314.6h.01M224.7 312.4h.01M225.1 313.7h.01M229.5 323.0h.01M229.4 318.4h.01M218.2 317.4h.01M230.0 306.5h.01M227.5 324.9h.01M219.6 326.2h.01M227.0 308.3h.01M228.4 309.0h.01M225.6 320.1h.01M228.4 323.9h.01M229.7 309.9h.01M230.0 314.4h.01M225.4 302.7h.01M232.7 311.7h.01M225.1 320.9h.01M229.6 323.0h.01M224.7 328.3h.01M232.2 309.2h.01M222.8 321.4h.01M215.4 333.4h.01M225.9 308.3h.01M219.9 330.9h.01M223.0 330.8h.01M226.8 326.7h.01M220.3 317.1h.01M221.1 323.4h.01M228.0 326.9h.01M224.2 326.8h.01M226.4 323.8h.01M215.6 327.2h.01M233.0 316.5h.01M220.4 328.8h.01M220.9 320.9h.01M229.3 310.8h.01M220.8 328.9h.01M227.6 306.8h.01M221.3 321.2h.01M224.4 316.2h.01M225.7 310.1h.01M223.1 330.5h.01M212.4 333.5h.01M227.8 316.5h.01M222.5 322.2h.01M241.7 319.9h.01M222.8 324.4h.01M226.6 322.8h.01M228.1 319.1h.01M230.2 305.1h.01M226.5 321.2h.01M231.3 301.3h.01M235.8 306.9h.01M213.6 333.5h.01M224.4 326.7h.01M230.4 308.0h.01M234.7 320.4h.01M235.2 318.8h.01M229.4 327.9h.01M215.3 318.7h.01M221.6 324.1h.01M228.7 319.8h.01M230.2 313.7h.01M230.3 326.9h.01M230.0 309.0h.01M224.0 322.8h.01M222.7 319.0h.01M223.5 317.4h.01M225.6 312.3h.01M228.8 315.0h.01M228.5 317.8h.01M232.4 330.3h.01M226.6 324.9h.01M224.5 317.5h.01M235.7 306.3h.01M227.3 321.4h.01M234.1 315.4h.01M228.6 310.1h.01M220.8 318.6h.01M230.1 317.6h.01M227.3 322.4h.01M224.7 316.6h.01M226.3 329.6h.01M236.1 299.2h.01M218.7 325.2h.01M229.3 317.3h.01M221.8 302.7h.01M232.5 304.0h.01M227.9 317.8h.01M223.8 320.7h.01M222.8 307.4h.01M227.8 320.1h.01M220.2 331.0h.01M232.3 306.8h.01M230.9 313.8h.01M228.1 317.1h.01M222.6 324.4h.01M227.3 301.9h.01M220.7 317.7h.01M221.4 321.3h.01M223.0 328.3h.01M225.0 326.5h.01M222.1 300.2h.01M217.6 316.4h.01M227.0 319.8h.01M231.3 318.5h.01M220.0 314.4h.01M227.2 305.0h.01M227.0 319.5h.01M223.6 325.4h.01M224.4 303.9h.01M219.0 330.7h.01M220.7 317.7h.01M222.2 333.5h.01M222.3 313.2h.01M227.6 313.7h.01M221.5 315.0h.01M227.2 320.7h.01M216.5 330.5h.01M236.7 313.7h.01M227.9 313.0h.01M221.0 326.2h.01M226.9 320.9h.01M234.6 324.1h.01M221.9 304.5h.01M222.3 327.5h.01M230.7 311.1h.01M211.0 333.5h.01M232.6 308.5h.01M237.2 299.3h.01M233.3 317.0h.01M222.5 320.9h.01M223.7 326.6h.01M231.0 316.2h.01M233.0 307.8h.01M229.0 308.2h.01M225.7 327.0h.01M234.4 312.3h.01M223.7 318.8h.01M226.2 321.7h.01M225.2 318.3h.01M225.7 315.8h.01M224.8 314.7h.01M219.9 330.0h.01M229.0 302.1h.01M234.1 313.1h.01M225.3 322.9h.01M220.9 333.5h.01M231.6 306.4h.01M217.5 333.1h.01M224.1 324.3h.01M225.4 315.3h.01M221.9 319.4h.01M228.6 314.0h.01M225.2 314.7h.01M226.5 313.9h.01M226.4 315.6h.01M219.7 321.8h.01M214.9 330.8h.01M240.0 319.6h.01M217.7 329.9h.01M239.6 323.8h.01M220.9 318.1h.01M235.3 318.1h.01M212.6 333.5h.01M225.5 306.7h.01M223.3 318.1h.01M222.9 309.9h.01M227.9 316.1h.01M229.5 314.4h.01M219.7 314.3h.01M221.4 319.3h.01M226.8 313.7h.01M230.7 318.7h.01M232.1 321.7h.01M223.0 309.3h.01M228.8 324.7h.01M229.0 324.0h.01M223.8 322.5h.01M223.2 307.7h.01M224.5 316.9h.01M233.1 319.5h.01M222.4 312.2h.01M227.3 309.9h.01M231.0 318.7h.01M228.7 322.1h.01M223.1 315.4h.01M219.8 318.5h.01M230.4 309.1h.01M224.8 308.8h.01M224.1 309.7h.01M226.9 316.0h.01M225.3 323.3h.01M222.8 316.6h.01M218.6 322.0h.01M231.0 307.6h.01M227.5 322.2h.01M218.8 323.2h.01M233.3 317.9h.01M227.6 316.1h.01M225.6 302.0h.01M231.5 292.4h.01M220.6 316.7h.01M221.2 327.4h.01M230.2 297.5h.01M225.1 323.5h.01M221.8 325.8h.01M220.2 308.3h.01M223.9 320.1h.01M223.9 322.1h.01M218.6 331.7h.01M220.4 320.7h.01M237.7 311.4h.01M225.2 310.5h.01M232.5 307.8h.01M225.7 325.6h.01M226.4 323.7h.01M233.4 312.7h.01M222.2 326.3h.01M221.3 316.3h.01M230.0 316.0h.01M219.5 328.2h.01M217.6 324.9h.01M227.9 328.8h.01M222.4 322.8h.01M233.1 312.0h.01M222.5 303.9h.01M221.6 309.5h.01M222.4 322.5h.01M231.8 325.8h.01M230.0 321.4h.01M225.2 319.5h.01M229.3 314.9h.01M220.9 311.5h.01M228.9 314.7h.01M227.7 313.4h.01M222.3 312.9h.01M224.9 307.4h.01M234.4 308.7h.01M224.7 318.2h.01M227.3 311.6h.01M223.3 328.0h.01M220.3 327.1h.01M234.9 305.3h.01M224.3 321.6h.01M223.9 323.3h.01M224.0 330.7h.01M223.7 317.1h.01M234.2 327.2h.01M222.7 320.9h.01M222.2 322.0h.01M232.8 308.9h.01M228.8 315.5h.01M213.0 323.4h.01M233.6 307.4h.01M227.8 316.9h.01M226.7 316.7h.01M216.5 316.8h.01M228.0 313.8h.01M230.3 311.0h.01M227.4 321.4h.01M224.9 316.0h.01M223.2 320.5h.01M223.3 319.9h.01M240.4 315.0h.01M230.0 320.8h.01M207.2 328.7h.01M223.9 321.7h.01M218.4 321.9h.01M221.3 324.1h.01M225.2 316.5h.01M220.7 327.1h.01M227.4 304.9h.01M230.1 319.3h.01M221.2 323.7h.01M240.0 297.3h.01M224.9 322.6h.01M226.9 317.6h.01M226.3 314.1h.01M215.2 333.5h.01M221.2 314.9h.01M230.8 323.1h.01M224.2 315.3h.01M230.5 318.8h.01M215.7 329.7h.01M222.2 322.7h.01M223.5 318.0h.01M226.7 317.5h.01M219.9 326.4h.01M223.2 328.4h.01M229.4 317.2h.01M221.2 324.3h.01M219.0 333.5h.01M222.2 331.5h.01M231.2 310.4h.01M228.9 313.6h.01M230.8 316.7h.01M237.8 311.4h.01M228.4 321.6h.01M230.4 312.0h.01M222.0 314.1h.01M226.0 308.2h.01M220.6 322.0h.01M224.0 312.3h.01M229.6 315.5h.01M225.0 316.9h.01M233.0 315.6h.01M220.5 320.2h.01M220.7 321.6h.01M224.6 319.8h.01M224.3 333.5h.01M221.8 323.9h.01M212.1 330.5h.01M223.7 326.5h.01M221.7 308.7h.01M232.6 318.8h.01M228.7 321.9h.01M223.4 314.3h.01M226.8 309.4h.01M225.6 314.8h.01M225.9 320.1h.01M223.7 305.2h.01M222.8 327.1h.01M228.4 310.2h.01M227.4 320.5h.01M227.5 304.4h.01M219.8 330.3h.01M223.3 310.1h.01M233.2 310.8h.01M225.2 310.7h.01M224.4 329.4h.01M229.5 317.2h.01M210.3 324.2h.01M233.4 311.0h.01M225.1 320.4h.01M230.3 315.8h.01M223.4 318.9h.01M226.9 327.5h.01M213.1 312.1h.01M224.9 314.6h.01M220.0 327.4h.01M220.2 327.6h.01M226.2 323.3h.01M215.7 323.3h.01M218.8 320.8h.01M227.6 312.1h.01M217.3 330.0h.01M225.7 318.4h.01M219.6 332.5h.01M230.7 317.4h.01M229.0 309.4h.01M220.4 327.9h.01M224.5 311.7h.01M226.3 306.8h.01M225.6 328.4h.01M226.9 319.5h.01M225.1 320.6h.01M231.5 325.8h.01M227.6 312.9h.01M230.7 315.8h.01M225.0 322.6h.01M224.5 315.7h.01M222.8 324.0h.01M223.5 319.9h.01M220.1 333.5h.01M228.4 313.2h.01M234.8 306.1h.01M222.3 320.0h.01M226.1 313.7h.01M221.3 331.1h.01M224.2 320.2h.01M228.7 313.7h.01M229.6 301.1h.01M226.9 319.4h.01M222.6 320.9h.01M225.9 302.2h.01M220.3 312.7h.01M219.7 312.6h.01M226.7 329.1h.01M231.4 306.3h.01M221.3 333.5h.01M222.5 314.6h.01M219.8 318.9h.01M225.4 318.8h.01M229.4 318.5h.01M215.5 319.8h.01M217.4 325.4h.01M223.1 320.4h.01M231.1 320.7h.01M221.9 316.3h.01M221.6 319.2h.01M227.5 321.0h.01M225.1 328.2h.01M237.5 306.5h.01M231.5 305.6h.01M229.4 331.9h.01M226.7 319.0h.01M221.2 319.5h.01M222.6 311.2h.01M223.8 329.9h.01M221.6 319.8h.01M233.0 316.5h.01M224.6 320.2h.01M231.4 315.3h.01M231.9 311.1h.01M225.9 324.2h.01M219.5 315.5h.01M232.1 309.4h.01M230.1 307.3h.01M228.0 312.4h.01M230.0 318.3h.01M228.5 318.7h.01M230.6 320.4h.01M221.7 310.5h.01M232.9 305.9h.01M222.0 321.2h.01M232.6 302.7h.01M229.9 315.1h.01M230.8 325.6h.01M229.7 300.5h.01M223.4 306.8h.01M225.2 320.9h.01M228.4 318.7h.01M228.7 315.6h.01M226.7 319.7h.01M231.8 325.6h.01M230.9 319.6h.01M225.8 317.1h.01M220.5 317.6h.01M234.2 302.6h.01M224.6 316.5h.01M228.8 307.7h.01M222.5 321.0h.01M232.1 306.6h.01M223.1 318.3h.01M231.2 308.6h.01M228.4 322.2h.01M225.0 309.8h.01M233.8 310.9h.01M220.2 318.0h.01M228.2 309.1h.01M224.3 319.3h.01M228.3 321.6h.01M224.6 327.5h.01M233.7 310.8h.01M229.3 313.0h.01M224.9 319.5h.01M229.6 327.6h.01M221.8 317.5h.01M234.4 314.0h.01M216.4 329.6h.01M209.5 331.4h.01M213.8 328.9h.01M218.0 327.7h.01M218.7 325.6h.01M212.0 327.5h.01M213.8 331.7h.01M208.6 332.8h.01M211.7 329.3h.01M219.9 328.8h.01M222.2 329.8h.01M214.6 328.4h.01M220.7 330.1h.01M212.7 328.4h.01M211.9 330.0h.01M211.5 331.7h.01M214.9 329.0h.01M217.3 332.9h.01M204.8 330.9h.01M220.4 330.5h.01M219.1 327.3h.01M211.4 332.1h.01M214.6 330.3h.01M218.1 330.9h.01M217.3 329.3h.01M213.6 332.7h.01M212.6 327.5h.01M213.3 331.9h.01M223.9 330.5h.01M212.0 331.4h.01M216.5 332.4h.01M217.6 331.6h.01M217.6 331.0h.01M210.6 329.9h.01M222.9 332.7h.01M219.8 331.0h.01M214.5 330.9h.01M213.5 332.3h.01M213.6 328.8h.01M207.2 333.2h.01M211.4 328.6h.01M217.1 333.5h.01M218.4 329.6h.01M217.9 328.6h.01M213.9 330.3h.01M215.2 331.7h.01M217.7 333.5h.01M219.2 329.7h.01M216.4 328.6h.01M212.1 329.6h.01M220.1 328.9h.01M207.5 328.3h.01M209.3 329.9h.01M213.6 328.0h.01M211.3 329.4h.01M217.0 331.4h.01M221.6 329.7h.01M218.2 330.3h.01M209.8 329.0h.01M225.8 329.9h.01" stroke="#555" stroke-width="1.1" stroke-linecap="round" fill="none" opacity="0.28"/>
</g>
<rect x="202.00" y="290.20" width="42.20" height="43.80" fill="none" stroke="#555" stroke-width="0.6"/>
<line x1="218.20" y1="290.20" x2="218.20" y2="334.00" stroke="#777" stroke-width="0.5"/>
<line x1="202.00" y1="323.20" x2="244.20" y2="323.20" stroke="#777" stroke-width="0.5"/>
<line x1="209.00" y1="333.80" x2="236.00" y2="333.80" stroke="#222" stroke-width="1.0"/>
<line x1="202.30" y1="322.00" x2="202.30" y2="333.00" stroke="#444" stroke-width="0.8"/>
<text x="203.30" y="294.40" font-size="2.8" fill="#555">0.16</text>
<text x="203.30" y="332.40" font-size="2.8" fill="#444">5.76</text>
<text x="243.20" y="332.40" font-size="2.8" text-anchor="end" fill="#444">47.6</text>
<text x="242.00" y="296.40" font-size="4.6" text-anchor="end" fill="#444">46.4</text>
<text x="200.40" y="292.20" font-size="3.0" text-anchor="end" fill="#444">10</text>
<text x="201.80" y="290.60" font-size="2.0" text-anchor="end" fill="#444">4</text>
<text x="200.40" y="313.40" font-size="3.0" text-anchor="end" fill="#444">10</text>
<text x="201.80" y="311.80" font-size="2.0" text-anchor="end" fill="#444">2</text>
<text x="200.40" y="335.00" font-size="3.0" text-anchor="end" fill="#444">10</text>
<text x="201.80" y="333.40" font-size="2.0" text-anchor="end" fill="#444">0</text>
<text x="202.00" y="337.60" font-size="3.0" text-anchor="middle" fill="#444">10</text>
<text x="204.40" y="336.20" font-size="2.0" text-anchor="middle" fill="#444">0</text>
<text x="223.00" y="337.60" font-size="3.0" text-anchor="middle" fill="#444">10</text>
<text x="225.40" y="336.20" font-size="2.0" text-anchor="middle" fill="#444">2</text>
<text x="244.00" y="337.60" font-size="3.0" text-anchor="middle" fill="#444">10</text>
<text x="246.40" y="336.20" font-size="2.0" text-anchor="middle" fill="#444">4</text>
<text transform="translate(40.00 353.80) rotate(-90)" font-size="9" stroke="#111" stroke-width="0.22">CD86</text>
<text x="46.30" y="357.00" font-size="9" stroke="#111" stroke-width="0.22">CD11c</text>
<path d="M46.2 329.8V346.3H61" fill="none" stroke="#111" stroke-width="0.8"/>
<path d="M46.2 328.6l-1.9 3.6h3.8zM62.3 346.3l-3.6 -1.9v3.8z" fill="#111"/>
<text x="1.80" y="383.20" font-size="14" font-weight="bold" fill="#000" stroke="#000" stroke-width="0.35">E</text>
<text x="94.00" y="384.40" font-size="10.25" text-anchor="middle" stroke="#111" stroke-width="0.22">LY294002</text>
<text x="149.80" y="384.40" font-size="10.25" text-anchor="middle" stroke="#111" stroke-width="0.22">DMSO</text>
<text x="203.40" y="384.40" font-size="10.25" text-anchor="middle" stroke="#111" stroke-width="0.22">w/o</text>
<line x1="62.50" y1="388.70" x2="123.80" y2="388.70" stroke="#333" stroke-width="0.8"/>
<line x1="127.50" y1="388.70" x2="169.50" y2="388.70" stroke="#333" stroke-width="0.8"/>
<line x1="172.50" y1="388.70" x2="241.80" y2="388.70" stroke="#333" stroke-width="0.8"/>
<text x="20.00" y="403.70" font-size="10.25" stroke="#111" stroke-width="0.22">αFLAG</text>
<text x="20.00" y="418.00" font-size="10.25" stroke="#111" stroke-width="0.22">αHLA-I</text>
<text x="71.30" y="404.00" font-size="10.0" text-anchor="middle" stroke="#111" stroke-width="0.22">-</text>
<text x="92.50" y="404.00" font-size="10.0" text-anchor="middle" stroke="#111" stroke-width="0.22">-</text>
<text x="115.50" y="403.90" font-size="10.0" text-anchor="middle" stroke="#111" stroke-width="0.22">+</text>
<text x="138.00" y="404.00" font-size="10.0" text-anchor="middle" stroke="#111" stroke-width="0.22">-</text>
<text x="160.00" y="403.90" font-size="10.0" text-anchor="middle" stroke="#111" stroke-width="0.22">+</text>
<text x="180.50" y="404.00" font-size="10.0" text-anchor="middle" stroke="#111" stroke-width="0.22">-</text>
<text x="203.80" y="404.00" font-size="10.0" text-anchor="middle" stroke="#111" stroke-width="0.22">-</text>
<text x="227.50" y="403.90" font-size="10.0" text-anchor="middle" stroke="#111" stroke-width="0.22">+</text>
<text x="71.30" y="418.20" font-size="10.0" text-anchor="middle" stroke="#111" stroke-width="0.22">-</text>
<text x="92.50" y="418.10" font-size="10.0" text-anchor="middle" stroke="#111" stroke-width="0.22">+</text>
<text x="115.50" y="418.20" font-size="10.0" text-anchor="middle" stroke="#111" stroke-width="0.22">-</text>
<text x="138.00" y="418.10" font-size="10.0" text-anchor="middle" stroke="#111" stroke-width="0.22">+</text>
<text x="160.00" y="418.20" font-size="10.0" text-anchor="middle" stroke="#111" stroke-width="0.22">-</text>
<text x="180.50" y="418.20" font-size="10.0" text-anchor="middle" stroke="#111" stroke-width="0.22">-</text>
<text x="203.80" y="418.10" font-size="10.0" text-anchor="middle" stroke="#111" stroke-width="0.22">+</text>
<text x="227.50" y="418.20" font-size="10.0" text-anchor="middle" stroke="#111" stroke-width="0.22">-</text>
<rect x="59.50" y="425.00" width="184.80" height="23.00" fill="#fff" stroke="#000" stroke-width="1.5"/>
<text x="6.30" y="440.00" font-size="10.25" stroke="#111" stroke-width="0.22">pErk1/2</text>
<text x="59.00" y="440.80" font-size="6.4" text-anchor="end">37-</text>
<clipPath id="cpE"><rect x="60.3" y="425.8" width="183.2" height="21.4"/></clipPath><g clip-path="url(#cpE)">
<ellipse cx="71.30" cy="436.20" rx="11.50" ry="1.30" fill="#777" opacity="0.4" filter="url(#b1)"/>
<ellipse cx="71.30" cy="430.80" rx="11.00" ry="1.30" fill="#999" opacity="0.16000000000000003" filter="url(#b2)"/>
<ellipse cx="92.50" cy="436.20" rx="11.50" ry="1.30" fill="#777" opacity="0.45" filter="url(#b1)"/>
<ellipse cx="92.50" cy="430.80" rx="11.00" ry="1.30" fill="#999" opacity="0.18000000000000002" filter="url(#b2)"/>
<ellipse cx="115.50" cy="436.20" rx="11.50" ry="1.30" fill="#777" opacity="0.65" filter="url(#b1)"/>
<ellipse cx="115.50" cy="430.80" rx="11.00" ry="1.30" fill="#999" opacity="0.26" filter="url(#b2)"/>
<ellipse cx="138.00" cy="436.20" rx="11.50" ry="1.30" fill="#777" opacity="0.7" filter="url(#b1)"/>
<ellipse cx="138.00" cy="430.80" rx="11.00" ry="1.30" fill="#999" opacity="0.27999999999999997" filter="url(#b2)"/>
<ellipse cx="161.00" cy="435.60" rx="10.50" ry="1.70" fill="#000" opacity="1" filter="url(#b1)" transform="rotate(-2 161.00 435.60)"/>
<ellipse cx="161.20" cy="431.20" rx="9.50" ry="1.50" fill="#555" opacity="0.8" filter="url(#b1)" transform="rotate(-2 161.20 431.20)"/>
<ellipse cx="180.50" cy="436.20" rx="11.50" ry="1.30" fill="#777" opacity="0.4" filter="url(#b1)"/>
<ellipse cx="180.50" cy="430.80" rx="11.00" ry="1.30" fill="#999" opacity="0.16000000000000003" filter="url(#b2)"/>
<ellipse cx="203.80" cy="436.20" rx="11.50" ry="1.30" fill="#777" opacity="0.5" filter="url(#b1)"/>
<ellipse cx="203.80" cy="430.80" rx="11.00" ry="1.30" fill="#999" opacity="0.2" filter="url(#b2)"/>
<ellipse cx="228.50" cy="435.60" rx="10.50" ry="1.70" fill="#000" opacity="1" filter="url(#b1)" transform="rotate(-6 228.50 435.60)"/>
<ellipse cx="228.70" cy="431.20" rx="9.50" ry="1.50" fill="#555" opacity="0.8" filter="url(#b1)" transform="rotate(-5 228.70 431.20)"/>
</g>
<rect x="59.50" y="461.30" width="184.80" height="18.20" fill="#fff" stroke="#000" stroke-width="1.5"/>
<text x="8.70" y="473.00" font-size="10.25" stroke="#111" stroke-width="0.22">β-actin</text>
<text x="59.00" y="480.80" font-size="6.4" text-anchor="end">37-</text>
<clipPath id="cpE2"><rect x="60.3" y="462.1" width="183.2" height="16.6"/></clipPath><g clip-path="url(#cpE2)">
<path d="M60 467.9 Q71.3 466.8 82.8 468.1 Q92.5 467.6 104.0 468.1 Q115.5 466.8 127.0 468.1 Q138.0 467.6 149.5 468.1 Q160.0 466.8 171.5 468.1 Q180.5 467.6 192.0 468.1 Q203.8 466.8 215.3 468.1 Q227.5 467.6 239.0 468.1 L244 468.4 L244 472.5 Q227.5 477.4 216.0 472.3 Q203.8 477.4 192.3 472.3 Q180.5 477.4 169.0 472.3 Q160.0 477.4 148.5 472.3 Q138.0 477.4 126.5 472.3 Q115.5 477.4 104.0 472.3 Q92.5 477.4 81.0 472.3 Q71.3 477.4 59.8 472.3 Z" fill="#000" filter="url(#b0)"/>
<path d="M60 477.6 L244 477.6" stroke="#777" stroke-width="1.3" opacity="0.7" filter="url(#b1)"/>
<path d="M60 464 L244 464" stroke="#999" stroke-width="1.5" opacity="0.45" filter="url(#b1)"/>
</g>
<line x1="59.50" y1="488.00" x2="59.50" y2="552.50" stroke="#333" stroke-width="0.8"/>
<line x1="59.50" y1="552.50" x2="244.30" y2="552.50" stroke="#333" stroke-width="0.8"/>
<line x1="57.50" y1="552.50" x2="59.50" y2="552.50" stroke="#333" stroke-width="0.7"/>
<text x="57.00" y="554.70" font-size="6.3" text-anchor="end">0</text>
<line x1="57.50" y1="536.38" x2="59.50" y2="536.38" stroke="#333" stroke-width="0.7"/>
<text x="57.00" y="538.58" font-size="6.3" text-anchor="end">0.3</text>
<line x1="57.50" y1="520.25" x2="59.50" y2="520.25" stroke="#333" stroke-width="0.7"/>
<text x="57.00" y="522.45" font-size="6.3" text-anchor="end">0.6</text>
<line x1="57.50" y1="504.12" x2="59.50" y2="504.12" stroke="#333" stroke-width="0.7"/>
<text x="57.00" y="506.32" font-size="6.3" text-anchor="end">0.9</text>
<line x1="57.50" y1="488.00" x2="59.50" y2="488.00" stroke="#333" stroke-width="0.7"/>
<text x="57.00" y="490.20" font-size="6.3" text-anchor="end">1.2</text>
<line x1="59.50" y1="552.50" x2="59.50" y2="554.50" stroke="#333" stroke-width="0.7"/>
<line x1="82.60" y1="552.50" x2="82.60" y2="554.50" stroke="#333" stroke-width="0.7"/>
<line x1="105.70" y1="552.50" x2="105.70" y2="554.50" stroke="#333" stroke-width="0.7"/>
<line x1="128.80" y1="552.50" x2="128.80" y2="554.50" stroke="#333" stroke-width="0.7"/>
<line x1="151.90" y1="552.50" x2="151.90" y2="554.50" stroke="#333" stroke-width="0.7"/>
<line x1="175.00" y1="552.50" x2="175.00" y2="554.50" stroke="#333" stroke-width="0.7"/>
<line x1="198.10" y1="552.50" x2="198.10" y2="554.50" stroke="#333" stroke-width="0.7"/>
<line x1="221.20" y1="552.50" x2="221.20" y2="554.50" stroke="#333" stroke-width="0.7"/>
<line x1="244.30" y1="552.50" x2="244.30" y2="554.50" stroke="#333" stroke-width="0.7"/>
<text transform="translate(44.00 521.50) rotate(-90)" font-size="8.5" text-anchor="middle" stroke="#111" stroke-width="0.22">pErk/β-actin</text>
<rect x="65.80" y="539.80" width="9.40" height="12.70" fill="#fff" stroke="#222" stroke-width="0.7"/>
<rect x="88.60" y="540.80" width="9.40" height="11.70" fill="#999" stroke="#222" stroke-width="0.7"/>
<rect x="112.00" y="536.80" width="9.30" height="15.70" fill="#000"/>
<rect x="135.80" y="530.80" width="8.40" height="21.70" fill="#999" stroke="#222" stroke-width="0.7"/>
<rect x="158.00" y="500.80" width="9.50" height="51.70" fill="#000"/>
<rect x="181.60" y="536.10" width="8.90" height="16.40" fill="#fff" stroke="#222" stroke-width="0.7"/>
<rect x="204.60" y="534.60" width="8.90" height="17.90" fill="#999" stroke="#222" stroke-width="0.7"/>
<rect x="227.50" y="508.30" width="9.30" height="44.20" fill="#000"/>
<text x="271.20" y="215.90" font-size="14" font-weight="bold" fill="#000" stroke="#000" stroke-width="0.35">D</text>
<text x="276.80" y="237.50" font-size="10.25" stroke="#111" stroke-width="0.22">Time (min)</text>
<text x="284.50" y="251.70" font-size="10.25" stroke="#111" stroke-width="0.22">αFLAG</text>
<text x="284.50" y="265.50" font-size="10.25" stroke="#111" stroke-width="0.22">αHLA-I</text>
<text x="360.00" y="237.50" font-size="10.25" text-anchor="middle" stroke="#111" stroke-width="0.22">2</text>
<text x="426.80" y="237.50" font-size="10.25" text-anchor="middle" stroke="#111" stroke-width="0.22">5</text>
<text x="494.50" y="237.50" font-size="10.25" text-anchor="middle" stroke="#111" stroke-width="0.22">10</text>
<text x="346.30" y="252.30" font-size="10.0" text-anchor="middle" stroke="#111" stroke-width="0.22">+</text>
<text x="372.50" y="252.30" font-size="10.0" text-anchor="middle" stroke="#111" stroke-width="0.22">+</text>
<text x="393.80" y="252.40" font-size="10.0" text-anchor="middle" stroke="#111" stroke-width="0.22">-</text>
<text x="416.80" y="252.30" font-size="10.0" text-anchor="middle" stroke="#111" stroke-width="0.22">+</text>
<text x="438.30" y="252.40" font-size="10.0" text-anchor="middle" stroke="#111" stroke-width="0.22">-</text>
<text x="460.50" y="252.30" font-size="10.0" text-anchor="middle" stroke="#111" stroke-width="0.22">+</text>
<text x="482.00" y="252.30" font-size="10.0" text-anchor="middle" stroke="#111" stroke-width="0.22">+</text>
<text x="506.30" y="252.30" font-size="10.0" text-anchor="middle" stroke="#111" stroke-width="0.22">+</text>
<text x="346.30" y="266.00" font-size="10.0" text-anchor="middle" stroke="#111" stroke-width="0.22">-</text>
<text x="372.50" y="266.00" font-size="10.0" text-anchor="middle" stroke="#111" stroke-width="0.22">-</text>
<text x="393.80" y="265.90" font-size="10.0" text-anchor="middle" stroke="#111" stroke-width="0.22">+</text>
<text x="416.80" y="266.00" font-size="10.0" text-anchor="middle" stroke="#111" stroke-width="0.22">-</text>
<text x="438.30" y="265.90" font-size="10.0" text-anchor="middle" stroke="#111" stroke-width="0.22">+</text>
<text x="460.50" y="266.00" font-size="10.0" text-anchor="middle" stroke="#111" stroke-width="0.22">-</text>
<text x="482.00" y="266.00" font-size="10.0" text-anchor="middle" stroke="#111" stroke-width="0.22">-</text>
<text x="506.30" y="266.00" font-size="10.0" text-anchor="middle" stroke="#111" stroke-width="0.22">-</text>
<text x="346.30" y="283.20" font-size="10.25" text-anchor="middle" stroke="#111" stroke-width="0.22">VC</text>
<text x="371.50" y="283.20" font-size="10.25" text-anchor="middle" stroke="#111" stroke-width="0.22">B#1</text>
<text x="405.50" y="283.20" font-size="10.25" text-anchor="middle" stroke="#111" stroke-width="0.22">VC</text>
<text x="449.00" y="283.20" font-size="10.25" text-anchor="middle" stroke="#111" stroke-width="0.22">B#1</text>
<text x="482.30" y="283.20" font-size="10.25" text-anchor="middle" stroke="#111" stroke-width="0.22">VC</text>
<text x="506.30" y="283.20" font-size="10.25" text-anchor="middle" stroke="#111" stroke-width="0.22">B#1</text>
<line x1="388.00" y1="286.30" x2="422.50" y2="286.30" stroke="#666" stroke-width="0.9"/>
<line x1="432.50" y1="286.30" x2="466.30" y2="286.30" stroke="#666" stroke-width="0.9"/>
<rect x="333.80" y="291.30" width="181.20" height="21.20" fill="#fff" stroke="#111" stroke-width="1.3"/>
<rect x="333.80" y="317.50" width="181.20" height="20.50" fill="#bcbcbc" stroke="#222" stroke-width="1.1"/>
<text x="283.00" y="307.50" font-size="10.25" stroke="#111" stroke-width="0.22">pErk1/2</text>
<text x="290.00" y="328.70" font-size="10.25" stroke="#111" stroke-width="0.22">Erk1</text>
<text x="333.40" y="310.80" font-size="6.4" text-anchor="end">37-</text>
<text x="333.40" y="335.40" font-size="6.4" text-anchor="end">37-</text>
<ellipse cx="346.80" cy="301.10" rx="6.25" ry="1.80" fill="#666" opacity="0.55" filter="url(#b2)" transform="rotate(4 346.80 301.10)"/>
<ellipse cx="346.30" cy="304.40" rx="6.25" ry="1.30" fill="#000" opacity="1" filter="url(#b1)" transform="rotate(4 346.30 304.40)"/>
<ellipse cx="370.50" cy="302.20" rx="5.00" ry="1.80" fill="#666" opacity="0.385" filter="url(#b2)"/>
<ellipse cx="370.00" cy="305.50" rx="5.00" ry="1.15" fill="#000" opacity="0.95" filter="url(#b1)"/>
<ellipse cx="392.50" cy="301.70" rx="5.25" ry="1.80" fill="#666" opacity="0.275" filter="url(#b2)"/>
<ellipse cx="392.00" cy="305.00" rx="5.25" ry="1.40" fill="#000" opacity="0.4" filter="url(#b1)"/>
<ellipse cx="416.10" cy="302.30" rx="6.38" ry="1.70" fill="#111" opacity="0.9" filter="url(#b1)"/>
<ellipse cx="415.60" cy="305.20" rx="7.25" ry="1.80" fill="#000" opacity="1" filter="url(#b1)"/>
<ellipse cx="437.70" cy="301.70" rx="5.25" ry="1.80" fill="#666" opacity="0.49500000000000005" filter="url(#b2)"/>
<ellipse cx="437.20" cy="305.00" rx="5.25" ry="1.05" fill="#000" opacity="0.95" filter="url(#b1)"/>
<ellipse cx="460.80" cy="301.20" rx="4.75" ry="1.80" fill="#666" opacity="0.44000000000000006" filter="url(#b2)"/>
<ellipse cx="460.30" cy="304.50" rx="4.75" ry="1.05" fill="#000" opacity="0.95" filter="url(#b1)"/>
<ellipse cx="483.50" cy="301.50" rx="6.60" ry="1.70" fill="#111" opacity="1.0" filter="url(#b1)"/>
<ellipse cx="483.00" cy="304.40" rx="7.50" ry="1.90" fill="#000" opacity="1" filter="url(#b1)"/>
<ellipse cx="506.80" cy="301.20" rx="6.25" ry="1.80" fill="#666" opacity="0.6050000000000001" filter="url(#b2)"/>
<ellipse cx="506.30" cy="304.50" rx="6.25" ry="1.15" fill="#000" opacity="0.95" filter="url(#b1)"/>
<ellipse cx="345.60" cy="328.90" rx="7.00" ry="1.40" fill="#000" opacity="1" filter="url(#b1)" transform="rotate(5 345.60 328.90)"/>
<ellipse cx="369.60" cy="330.60" rx="6.00" ry="1.30" fill="#000" opacity="1" filter="url(#b1)"/>
<ellipse cx="392.50" cy="330.60" rx="5.50" ry="1.10" fill="#000" opacity="1" filter="url(#b1)" transform="rotate(-4 392.50 330.60)"/>
<ellipse cx="415.60" cy="330.00" rx="5.75" ry="1.10" fill="#000" opacity="1" filter="url(#b1)"/>
<ellipse cx="438.00" cy="330.00" rx="5.75" ry="1.10" fill="#000" opacity="1" filter="url(#b1)" transform="rotate(-3 438.00 330.00)"/>
<ellipse cx="461.30" cy="328.80" rx="5.00" ry="1.10" fill="#000" opacity="1" filter="url(#b1)"/>
<ellipse cx="483.20" cy="328.30" rx="4.50" ry="1.00" fill="#000" opacity="1" filter="url(#b1)"/>
<ellipse cx="507.50" cy="328.30" rx="5.00" ry="1.00" fill="#000" opacity="1" filter="url(#b1)"/>
<line x1="381.80" y1="228.80" x2="381.80" y2="430.00" stroke="#555" stroke-width="0.8"/>
<line x1="473.00" y1="228.80" x2="473.00" y2="430.00" stroke="#555" stroke-width="0.8"/>
<line x1="335.00" y1="345.50" x2="335.00" y2="428.30" stroke="#333" stroke-width="0.8"/>
<line x1="335.00" y1="428.30" x2="517.00" y2="428.30" stroke="#333" stroke-width="0.8"/>
<line x1="333.00" y1="428.30" x2="335.00" y2="428.30" stroke="#333" stroke-width="0.7"/>
<text x="333.00" y="430.50" font-size="6.3" text-anchor="end">0.0</text>
<line x1="333.00" y1="411.74" x2="335.00" y2="411.74" stroke="#333" stroke-width="0.7"/>
<text x="333.00" y="413.94" font-size="6.3" text-anchor="end">0.5</text>
<line x1="333.00" y1="395.18" x2="335.00" y2="395.18" stroke="#333" stroke-width="0.7"/>
<text x="333.00" y="397.38" font-size="6.3" text-anchor="end">1.0</text>
<line x1="333.00" y1="378.62" x2="335.00" y2="378.62" stroke="#333" stroke-width="0.7"/>
<text x="333.00" y="380.82" font-size="6.3" text-anchor="end">1.5</text>
<line x1="333.00" y1="362.06" x2="335.00" y2="362.06" stroke="#333" stroke-width="0.7"/>
<text x="333.00" y="364.26" font-size="6.3" text-anchor="end">2.0</text>
<line x1="333.00" y1="345.50" x2="335.00" y2="345.50" stroke="#333" stroke-width="0.7"/>
<text x="333.00" y="347.70" font-size="6.3" text-anchor="end">2.5</text>
<line x1="335.00" y1="428.30" x2="335.00" y2="430.30" stroke="#333" stroke-width="0.7"/>
<line x1="357.75" y1="428.30" x2="357.75" y2="430.30" stroke="#333" stroke-width="0.7"/>
<line x1="380.50" y1="428.30" x2="380.50" y2="430.30" stroke="#333" stroke-width="0.7"/>
<line x1="403.25" y1="428.30" x2="403.25" y2="430.30" stroke="#333" stroke-width="0.7"/>
<line x1="426.00" y1="428.30" x2="426.00" y2="430.30" stroke="#333" stroke-width="0.7"/>
<line x1="448.75" y1="428.30" x2="448.75" y2="430.30" stroke="#333" stroke-width="0.7"/>
<line x1="471.50" y1="428.30" x2="471.50" y2="430.30" stroke="#333" stroke-width="0.7"/>
<line x1="494.25" y1="428.30" x2="494.25" y2="430.30" stroke="#333" stroke-width="0.7"/>
<line x1="517.00" y1="428.30" x2="517.00" y2="430.30" stroke="#333" stroke-width="0.7"/>
<text transform="translate(319.30 384.00) rotate(-90)" font-size="8.7" text-anchor="middle" stroke="#111" stroke-width="0.22">pErk/Erk</text>
<rect x="342.50" y="423.30" width="9.30" height="5.00" fill="#000"/>
<rect x="365.80" y="419.60" width="8.40" height="8.70" fill="#666" stroke="#333" stroke-width="0.6"/>
<rect x="388.30" y="410.80" width="8.40" height="17.50" fill="url(#vstripe)" stroke="#333" stroke-width="0.6"/>
<rect x="410.50" y="389.50" width="9.00" height="38.80" fill="#000"/>
<rect x="433.60" y="415.80" width="8.60" height="12.50" fill="url(#dots)" stroke="#333" stroke-width="0.6"/>
<rect x="456.60" y="415.30" width="8.60" height="13.00" fill="#666" stroke="#333" stroke-width="0.6"/>
<rect x="478.80" y="363.80" width="9.20" height="64.50" fill="#000"/>
<rect x="502.10" y="400.80" width="8.40" height="27.50" fill="#666" stroke="#333" stroke-width="0.6"/>
<text x="281.60" y="477.10" font-size="14" font-weight="bold" fill="#000" stroke="#000" stroke-width="0.35">F</text>
<line x1="330.00" y1="493.80" x2="330.00" y2="571.30" stroke="#222" stroke-width="0.9"/>
<line x1="330.00" y1="571.30" x2="493.80" y2="571.30" stroke="#222" stroke-width="0.9"/>
<line x1="327.50" y1="568.30" x2="330.00" y2="568.30" stroke="#222" stroke-width="0.8"/>
<text x="326.00" y="571.30" font-size="8.6" text-anchor="end" stroke="#111" stroke-width="0.22">0</text>
<line x1="327.50" y1="546.95" x2="330.00" y2="546.95" stroke="#222" stroke-width="0.8"/>
<text x="326.00" y="549.95" font-size="8.6" text-anchor="end" stroke="#111" stroke-width="0.22">200</text>
<line x1="327.50" y1="525.60" x2="330.00" y2="525.60" stroke="#222" stroke-width="0.8"/>
<text x="326.00" y="528.60" font-size="8.6" text-anchor="end" stroke="#111" stroke-width="0.22">400</text>
<line x1="327.50" y1="504.25" x2="330.00" y2="504.25" stroke="#222" stroke-width="0.8"/>
<text x="326.00" y="507.25" font-size="8.6" text-anchor="end" stroke="#111" stroke-width="0.22">600</text>
<line x1="328.50" y1="557.62" x2="330.00" y2="557.62" stroke="#222" stroke-width="0.6"/>
<line x1="328.50" y1="536.27" x2="330.00" y2="536.27" stroke="#222" stroke-width="0.6"/>
<line x1="328.50" y1="514.92" x2="330.00" y2="514.92" stroke="#222" stroke-width="0.6"/>
<line x1="330.00" y1="571.30" x2="330.00" y2="573.90" stroke="#222" stroke-width="0.7"/>
<line x1="337.75" y1="571.30" x2="337.75" y2="572.70" stroke="#222" stroke-width="0.7"/>
<line x1="345.50" y1="571.30" x2="345.50" y2="572.70" stroke="#222" stroke-width="0.7"/>
<line x1="353.25" y1="571.30" x2="353.25" y2="572.70" stroke="#222" stroke-width="0.7"/>
<line x1="361.00" y1="571.30" x2="361.00" y2="572.70" stroke="#222" stroke-width="0.7"/>
<line x1="368.75" y1="571.30" x2="368.75" y2="573.90" stroke="#222" stroke-width="0.7"/>
<line x1="376.50" y1="571.30" x2="376.50" y2="572.70" stroke="#222" stroke-width="0.7"/>
<line x1="384.25" y1="571.30" x2="384.25" y2="572.70" stroke="#222" stroke-width="0.7"/>
<line x1="392.00" y1="571.30" x2="392.00" y2="572.70" stroke="#222" stroke-width="0.7"/>
<line x1="399.75" y1="571.30" x2="399.75" y2="572.70" stroke="#222" stroke-width="0.7"/>
<line x1="407.50" y1="571.30" x2="407.50" y2="573.90" stroke="#222" stroke-width="0.7"/>
<line x1="415.25" y1="571.30" x2="415.25" y2="572.70" stroke="#222" stroke-width="0.7"/>
<line x1="423.00" y1="571.30" x2="423.00" y2="572.70" stroke="#222" stroke-width="0.7"/>
<line x1="430.75" y1="571.30" x2="430.75" y2="572.70" stroke="#222" stroke-width="0.7"/>
<line x1="438.50" y1="571.30" x2="438.50" y2="572.70" stroke="#222" stroke-width="0.7"/>
<line x1="446.25" y1="571.30" x2="446.25" y2="573.90" stroke="#222" stroke-width="0.7"/>
<line x1="454.00" y1="571.30" x2="454.00" y2="572.70" stroke="#222" stroke-width="0.7"/>
<line x1="461.75" y1="571.30" x2="461.75" y2="572.70" stroke="#222" stroke-width="0.7"/>
<line x1="469.50" y1="571.30" x2="469.50" y2="572.70" stroke="#222" stroke-width="0.7"/>
<line x1="477.25" y1="571.30" x2="477.25" y2="572.70" stroke="#222" stroke-width="0.7"/>
<line x1="485.00" y1="571.30" x2="485.00" y2="573.90" stroke="#222" stroke-width="0.7"/>
<line x1="492.75" y1="571.30" x2="492.75" y2="572.70" stroke="#222" stroke-width="0.7"/>
<text x="330.00" y="585.80" font-size="9.6" text-anchor="middle" stroke="#111" stroke-width="0.22" textLength="3.6" lengthAdjust="spacingAndGlyphs">0</text>
<text x="368.75" y="585.80" font-size="9.6" text-anchor="middle" stroke="#111" stroke-width="0.22" textLength="10.8" lengthAdjust="spacingAndGlyphs">100</text>
<text x="407.50" y="585.80" font-size="9.6" text-anchor="middle" stroke="#111" stroke-width="0.22" textLength="10.8" lengthAdjust="spacingAndGlyphs">200</text>
<text x="446.25" y="585.80" font-size="9.6" text-anchor="middle" stroke="#111" stroke-width="0.22" textLength="10.8" lengthAdjust="spacingAndGlyphs">300</text>
<text x="485.00" y="585.80" font-size="9.6" text-anchor="middle" stroke="#111" stroke-width="0.22" textLength="10.8" lengthAdjust="spacingAndGlyphs">400</text>
<text transform="translate(306.00 537.00) rotate(-90)" font-size="10.25" text-anchor="middle" stroke="#111" stroke-width="0.22">Indo-1 lo-A/Indo-1 hi-A</text>
<text x="346.30" y="603.00" font-size="10.25" stroke="#111" stroke-width="0.22">mAb</text>
<text x="384.30" y="600.50" font-size="10.25" stroke="#111" stroke-width="0.22">Time (sec)</text>
<line x1="355.00" y1="592.50" x2="355.00" y2="576.00" stroke="#222" stroke-width="0.8"/>
<path d="M355 573.8l-1.7 3.6h3.4z" fill="#222"/>
<path d="M330.0 547.1 L331.2 547.1 L332.3 547.9 L333.5 547.8 L334.6 547.2 L335.8 547.3 L337.0 547.3 L338.1 547.6 L339.3 547.4 L340.5 547.4 L341.6 547.4 L342.8 547.8 L343.9 547.5 L345.1 547.6 L346.3 547.3 L347.4 547.1 L348.6 547.1 L349.8 547.4 L350.9 547.5 L352.1 547.7 L353.2 547.9 L353.8 547.9 L354.4 547.8 L355.0 547.3 L355.6 550.6 L356.2 559.2 L356.7 562.4 L357.3 554.2 L357.9 551.9 L358.5 547.1 L359.1 546.8 L359.6 547.1 L360.2 547.5 L360.8 547.1 L361.4 547.8 L362.6 547.3 L363.7 547.3 L364.9 547.5 L366.0 547.5 L367.2 547.5 L368.4 547.1 L369.5 547.5 L370.7 547.2 L371.9 547.6 L373.0 547.2 L374.2 547.1 L375.3 547.5 L376.5 547.4 L377.7 547.1 L378.8 547.3 L380.0 547.5 L381.1 547.7 L382.3 547.6 L383.5 547.3 L384.6 547.8 L385.8 547.1 L387.0 547.7 L388.1 547.1 L389.3 547.6 L390.4 547.1 L391.6 547.3 L392.8 547.5 L393.9 547.5 L395.1 547.4 L396.3 547.4 L397.4 547.6 L398.6 547.7 L399.8 547.5 L400.9 547.1 L402.1 547.4 L403.2 547.8 L404.4 547.2 L405.6 547.3 L406.7 547.1 L407.9 547.7 L409.1 547.3 L410.2 547.9 L411.4 547.4 L412.5 547.7 L413.7 547.7 L414.9 547.2 L416.0 547.8 L417.2 547.5 L418.4 547.2 L419.5 547.7 L420.7 547.7 L421.8 547.2 L423.0 547.5 L424.2 547.3 L425.3 547.9 L426.5 547.6 L427.6 547.8 L428.8 547.3 L430.0 547.8 L431.1 547.1 L432.3 547.9 L433.5 547.3 L434.6 547.9 L435.8 547.7 L436.9 547.2 L438.1 547.8 L439.3 547.8 L440.4 547.3 L441.6 547.6 L442.8 547.9 L443.9 547.1 L445.1 547.8 L446.2 547.9 L447.4 547.6 L448.6 547.4 L449.7 547.3 L450.9 547.8 L452.1 547.6 L453.2 547.9 L454.4 547.5 L455.6 547.3 L456.7 547.3 L457.9 547.1 L459.0 547.3 L460.2 547.2 L461.4 547.3 L462.5 547.5 L463.7 547.7 L464.9 547.3 L466.0 547.6 L467.2 547.8 L468.3 547.5 L469.5 547.2 L470.7 547.8 L471.8 547.4 L473.0 547.6 L474.1 547.5 L475.3 547.8 L476.5 547.1 L477.6 547.7 L478.8 547.4 L480.0 547.6 L481.1 547.9 L482.3 547.4 L483.5 547.8 L484.6 547.9 L485.8 547.9 L486.9 547.8 L488.1 547.8 L489.3 547.4 L490.4 547.5 L491.6 547.1 L492.8 547.1" fill="none" stroke="#aaa" stroke-width="0.7"/>
<path d="M330.0 547.7 L331.2 547.4 L332.3 547.6 L333.5 547.4 L334.6 547.4 L335.8 547.9 L337.0 547.9 L338.1 547.2 L339.3 547.7 L340.5 547.7 L341.6 547.1 L342.8 547.5 L343.9 547.2 L345.1 547.5 L346.3 547.4 L347.4 547.8 L348.6 547.4 L349.8 547.2 L350.9 547.5 L352.1 547.3 L353.2 547.3 L353.8 547.9 L354.4 547.2 L355.0 549.5 L355.6 551.2 L356.2 556.2 L356.7 560.0 L357.3 556.8 L357.9 549.9 L358.5 548.9 L359.1 548.2 L359.6 547.1 L360.2 547.4 L360.8 547.5 L361.4 547.6 L362.6 547.6 L363.7 542.4 L364.9 535.7 L366.0 529.6 L367.2 524.9 L368.4 520.5 L369.5 517.2 L370.7 514.3 L371.9 512.5 L373.0 511.2 L374.2 509.5 L375.3 508.5 L376.5 508.1 L377.7 508.1 L378.8 507.8 L380.0 508.2 L381.1 508.0 L382.3 508.9 L383.5 510.0 L384.6 511.1 L385.8 511.4 L387.0 512.4 L388.1 514.2 L389.3 514.7 L390.4 516.2 L391.6 517.6 L392.8 518.6 L393.9 519.3 L395.1 520.3 L396.3 522.1 L397.4 522.7 L398.6 524.2 L399.8 524.7 L400.9 526.0 L402.1 526.6 L403.2 527.4 L404.4 528.8 L405.6 529.2 L406.7 530.7 L407.9 531.7 L409.1 532.1 L410.2 533.4 L411.4 534.0 L412.5 534.5 L413.7 535.0 L414.9 536.1 L416.0 536.8 L417.2 536.7 L418.4 537.8 L419.5 537.8 L420.7 538.3 L421.8 539.3 L423.0 539.7 L424.2 540.1 L425.3 540.4 L426.5 540.9 L427.6 541.3 L428.8 541.6 L430.0 541.7 L431.1 542.4 L432.3 542.8 L433.5 542.8 L434.6 543.5 L435.8 543.7 L436.9 543.4 L438.1 544.0 L439.3 544.2 L440.4 544.9 L441.6 544.7 L442.8 544.8 L443.9 545.4 L445.1 545.1 L446.2 545.2 L447.4 545.9 L448.6 545.5 L449.7 545.8 L450.9 545.7 L452.1 546.1 L453.2 545.9 L454.4 546.0 L455.6 546.7 L456.7 546.7 L457.9 546.3 L459.0 546.1 L460.2 546.8 L461.4 546.7 L462.5 546.6 L463.7 546.9 L464.9 546.9 L466.0 547.0 L467.2 547.0 L468.3 546.9 L469.5 547.2 L470.7 547.1 L471.8 546.8 L473.0 547.5 L474.1 547.1 L475.3 546.9 L476.5 547.3 L477.6 547.4 L478.8 547.0 L480.0 547.5 L481.1 547.5 L482.3 547.3 L483.5 547.1 L484.6 547.6 L485.8 547.5 L486.9 547.5 L488.1 547.1 L489.3 547.4 L490.4 547.1 L491.6 547.7 L492.8 547.5" fill="none" stroke="#888" stroke-width="0.7"/>
<path d="M330.0 547.7 L331.2 547.8 L332.3 547.6 L333.5 547.8 L334.6 547.9 L335.8 547.6 L337.0 547.1 L338.1 547.2 L339.3 547.3 L340.5 547.7 L341.6 547.5 L342.8 547.7 L343.9 547.8 L345.1 547.8 L346.3 547.7 L347.4 547.1 L348.6 547.2 L349.8 547.2 L350.9 547.2 L352.1 547.7 L353.2 547.6 L353.8 547.4 L354.4 546.9 L355.0 548.4 L355.6 547.9 L356.2 552.1 L356.7 554.0 L357.3 548.4 L357.9 549.3 L358.5 547.2 L359.1 546.7 L359.6 547.5 L360.2 547.4 L360.8 547.8 L361.4 547.7 L362.6 547.2 L363.7 547.9 L364.9 546.3 L366.0 543.7 L367.2 542.3 L368.4 540.7 L369.5 539.7 L370.7 539.0 L371.9 537.8 L373.0 538.1 L374.2 537.6 L375.3 537.7 L376.5 537.2 L377.7 537.5 L378.8 537.7 L380.0 537.8 L381.1 538.6 L382.3 538.8 L383.5 539.0 L384.6 540.1 L385.8 540.6 L387.0 540.9 L388.1 540.8 L389.3 541.4 L390.4 542.1 L391.6 542.3 L392.8 542.8 L393.9 542.9 L395.1 543.6 L396.3 543.3 L397.4 543.4 L398.6 543.6 L399.8 544.1 L400.9 544.1 L402.1 545.1 L403.2 545.1 L404.4 544.7 L405.6 545.0 L406.7 545.5 L407.9 545.2 L409.1 545.6 L410.2 545.6 L411.4 546.2 L412.5 546.4 L413.7 546.3 L414.9 546.6 L416.0 546.5 L417.2 546.1 L418.4 546.7 L419.5 547.1 L420.7 547.1 L421.8 547.1 L423.0 546.6 L424.2 547.0 L425.3 547.1 L426.5 547.3 L427.6 546.6 L428.8 547.1 L430.0 547.3 L431.1 547.5 L432.3 547.5 L433.5 547.5 L434.6 547.1 L435.8 547.5 L436.9 547.6 L438.1 547.3 L439.3 547.5 L440.4 546.9 L441.6 547.6 L442.8 547.3 L443.9 547.1 L445.1 547.4 L446.2 547.0 L447.4 547.4 L448.6 547.6 L449.7 547.5 L450.9 547.8 L452.1 547.5 L453.2 547.6 L454.4 547.1 L455.6 547.1 L456.7 547.4 L457.9 547.8 L459.0 547.7 L460.2 547.7 L461.4 547.7 L462.5 547.7 L463.7 547.1 L464.9 547.8 L466.0 547.8 L467.2 547.1 L468.3 547.4 L469.5 547.0 L470.7 547.6 L471.8 547.1 L473.0 547.3 L474.1 547.2 L475.3 547.3 L476.5 547.5 L477.6 547.8 L478.8 547.7 L480.0 547.2 L481.1 547.1 L482.3 547.1 L483.5 547.6 L484.6 547.3 L485.8 547.2 L486.9 547.4 L488.1 547.2 L489.3 547.5 L490.4 547.3 L491.6 547.3 L492.8 547.7" fill="none" stroke="#444" stroke-width="1.1" stroke-dasharray="5 3"/>
<path d="M330.0 547.4 L331.2 547.3 L332.3 547.2 L333.5 547.1 L334.6 547.3 L335.8 547.1 L337.0 547.9 L338.1 547.5 L339.3 547.1 L340.5 547.4 L341.6 547.1 L342.8 547.8 L343.9 547.5 L345.1 547.7 L346.3 547.4 L347.4 547.4 L348.6 547.9 L349.8 547.7 L350.9 547.7 L352.1 547.1 L353.2 547.3 L353.8 547.8 L354.4 547.7 L355.0 548.6 L355.6 548.5 L356.2 554.5 L356.7 552.6 L357.3 550.8 L357.9 548.8 L358.5 547.1 L359.1 546.8 L359.6 547.3 L360.2 547.7 L360.8 547.8 L361.4 547.9 L362.6 544.4 L363.7 535.5 L364.9 528.7 L366.0 522.1 L367.2 517.4 L368.4 513.5 L369.5 510.1 L370.7 508.1 L371.9 506.7 L373.0 505.5 L374.2 504.8 L375.3 505.0 L376.5 504.2 L377.7 505.1 L378.8 505.1 L380.0 505.7 L381.1 507.3 L382.3 507.6 L383.5 509.0 L384.6 509.9 L385.8 511.5 L387.0 512.6 L388.1 513.6 L389.3 514.0 L390.4 515.8 L391.6 516.4 L392.8 517.4 L393.9 518.5 L395.1 520.1 L396.3 521.1 L397.4 522.0 L398.6 522.8 L399.8 524.4 L400.9 524.9 L402.1 525.8 L403.2 526.6 L404.4 528.2 L405.6 528.3 L406.7 529.9 L407.9 530.5 L409.1 531.1 L410.2 531.6 L411.4 532.8 L412.5 533.0 L413.7 534.0 L414.9 534.9 L416.0 535.5 L417.2 536.3 L418.4 536.9 L419.5 537.4 L420.7 537.5 L421.8 537.8 L423.0 539.0 L424.2 539.5 L425.3 539.2 L426.5 540.0 L427.6 540.5 L428.8 541.0 L430.0 541.1 L431.1 541.2 L432.3 541.9 L433.5 542.2 L434.6 542.9 L435.8 542.4 L436.9 543.4 L438.1 543.3 L439.3 543.2 L440.4 544.1 L441.6 543.8 L442.8 543.8 L443.9 544.3 L445.1 544.3 L446.2 545.1 L447.4 545.0 L448.6 545.4 L449.7 544.9 L450.9 545.5 L452.1 545.5 L453.2 545.2 L454.4 545.4 L455.6 545.4 L456.7 546.0 L457.9 546.1 L459.0 545.9 L460.2 546.2 L461.4 546.5 L462.5 546.5 L463.7 546.8 L464.9 546.6 L466.0 546.2 L467.2 546.3 L468.3 546.6 L469.5 546.8 L470.7 546.9 L471.8 547.2 L473.0 547.1 L474.1 546.7 L475.3 546.7 L476.5 547.1 L477.6 546.8 L478.8 546.8 L480.0 546.9 L481.1 547.0 L482.3 546.9 L483.5 547.3 L484.6 547.0 L485.8 547.4 L486.9 547.2 L488.1 547.0 L489.3 547.1 L490.4 547.5 L491.6 546.9 L492.8 547.2" fill="none" stroke="#222" stroke-width="0.9" stroke-dasharray="0.9 1.1"/>
<path d="M330.0 547.2 L331.2 547.2 L332.3 547.5 L333.5 547.7 L334.6 547.9 L335.8 547.3 L337.0 547.5 L338.1 547.3 L339.3 547.6 L340.5 547.3 L341.6 547.7 L342.8 547.2 L343.9 547.3 L345.1 547.6 L346.3 547.5 L347.4 547.3 L348.6 547.7 L349.8 547.4 L350.9 547.2 L352.1 547.7 L353.2 547.2 L353.8 547.3 L354.4 547.4 L355.0 547.3 L355.6 548.4 L356.2 552.0 L356.7 552.2 L357.3 549.3 L357.9 548.1 L358.5 546.8 L359.1 547.1 L359.6 547.2 L360.2 547.1 L360.8 547.9 L361.4 547.6 L362.6 547.4 L363.7 540.4 L364.9 533.8 L366.0 528.7 L367.2 523.3 L368.4 519.6 L369.5 516.7 L370.7 513.5 L371.9 511.6 L373.0 510.0 L374.2 508.5 L375.3 507.8 L376.5 507.2 L377.7 506.2 L378.8 506.2 L380.0 506.7 L381.1 506.0 L382.3 507.1 L383.5 507.4 L384.6 507.6 L385.8 508.6 L387.0 509.7 L388.1 510.5 L389.3 511.4 L390.4 512.6 L391.6 512.7 L392.8 514.5 L393.9 515.1 L395.1 515.8 L396.3 517.1 L397.4 517.5 L398.6 519.1 L399.8 519.4 L400.9 520.4 L402.1 521.5 L403.2 522.2 L404.4 523.5 L405.6 524.0 L406.7 524.9 L407.9 525.9 L409.1 526.8 L410.2 527.4 L411.4 528.4 L412.5 529.4 L413.7 529.6 L414.9 530.7 L416.0 531.2 L417.2 531.6 L418.4 532.8 L419.5 533.6 L420.7 534.1 L421.8 534.3 L423.0 535.1 L424.2 535.7 L425.3 536.1 L426.5 536.2 L427.6 537.2 L428.8 537.6 L430.0 537.6 L431.1 538.3 L432.3 539.0 L433.5 539.2 L434.6 539.6 L435.8 540.3 L436.9 540.5 L438.1 540.9 L439.3 540.8 L440.4 541.5 L441.6 541.5 L442.8 541.5 L443.9 541.8 L445.1 542.6 L446.2 542.6 L447.4 543.1 L448.6 543.3 L449.7 543.4 L450.9 543.4 L452.1 543.5 L453.2 544.2 L454.4 544.6 L455.6 544.4 L456.7 544.9 L457.9 545.1 L459.0 544.6 L460.2 545.3 L461.4 544.9 L462.5 545.4 L463.7 545.0 L464.9 545.2 L466.0 546.0 L467.2 546.0 L468.3 545.4 L469.5 545.8 L470.7 546.1 L471.8 545.8 L473.0 545.9 L474.1 546.2 L475.3 546.3 L476.5 546.7 L477.6 546.6 L478.8 546.8 L480.0 546.4 L481.1 546.5 L482.3 547.0 L483.5 546.6 L484.6 547.1 L485.8 547.1 L486.9 546.7 L488.1 546.9 L489.3 546.6 L490.4 546.8 L491.6 546.8 L492.8 547.3" fill="none" stroke="#111" stroke-width="1.3"/>
<path d="M330.0 547.6 L331.2 547.8 L332.3 547.4 L333.5 547.8 L334.6 547.5 L335.8 547.6 L337.0 547.9 L338.1 547.5 L339.3 547.9 L340.5 547.5 L341.6 547.9 L342.8 547.8 L343.9 547.5 L345.1 547.2 L346.3 547.8 L347.4 547.7 L348.6 547.4 L349.8 547.1 L350.9 547.4 L352.1 547.6 L353.2 547.1 L353.8 547.9 L354.4 547.5 L355.0 548.8 L355.6 547.2 L356.2 549.3 L356.7 550.7 L357.3 551.5 L357.9 549.7 L358.5 547.6 L359.1 547.5 L359.6 547.6 L360.2 547.2 L360.8 547.7 L361.4 547.4 L362.6 547.5 L363.7 547.2 L364.9 547.3 L366.0 547.7 L367.2 547.1 L368.4 547.8 L369.5 547.6 L370.7 547.3 L371.9 547.8 L373.0 547.5 L374.2 547.9 L375.3 547.3 L376.5 547.3 L377.7 547.4 L378.8 547.2 L380.0 547.6 L381.1 547.3 L382.3 547.4 L383.5 547.4 L384.6 547.5 L385.8 547.2 L387.0 547.1 L388.1 547.5 L389.3 547.3 L390.4 547.9 L391.6 547.3 L392.8 547.4 L393.9 547.1 L395.1 547.2 L396.3 547.7 L397.4 547.6 L398.6 547.3 L399.8 547.9 L400.9 547.5 L402.1 547.8 L403.2 547.8 L404.4 547.9 L405.6 547.3 L406.7 547.8 L407.9 547.7 L409.1 547.6 L410.2 547.2 L411.4 547.8 L412.5 547.5 L413.7 547.4 L414.9 547.2 L416.0 547.2 L417.2 547.2 L418.4 547.7 L419.5 547.6 L420.7 547.6 L421.8 547.2 L423.0 547.1 L424.2 547.8 L425.3 547.8 L426.5 547.7 L427.6 547.7 L428.8 547.5 L430.0 547.4 L431.1 547.7 L432.3 547.9 L433.5 547.6 L434.6 547.6 L435.8 547.4 L436.9 547.1 L438.1 547.3 L439.3 547.5 L440.4 547.4 L441.6 547.3 L442.8 547.9 L443.9 547.1 L445.1 547.2 L446.2 547.2 L447.4 547.2 L448.6 547.6 L449.7 547.6 L450.9 547.8 L452.1 547.4 L453.2 547.9 L454.4 547.9 L455.6 547.7 L456.7 547.8 L457.9 547.6 L459.0 547.9 L460.2 547.9 L461.4 547.8 L462.5 547.8 L463.7 547.6 L464.9 547.9 L466.0 547.2 L467.2 547.4 L468.3 547.8 L469.5 547.7 L470.7 547.6 L471.8 547.6 L473.0 547.8 L474.1 547.2 L475.3 547.1 L476.5 547.5 L477.6 547.5 L478.8 547.8 L480.0 547.8 L481.1 547.6 L482.3 547.7 L483.5 547.2 L484.6 547.8 L485.8 547.9 L486.9 547.1 L488.1 547.5 L489.3 547.8 L490.4 547.4 L491.6 547.9 L492.8 547.5" fill="none" stroke="#111" stroke-width="1.2" stroke-dasharray="3 1.6"/>
<text x="410.60" y="629.40" font-size="10.5" stroke="#111" stroke-width="0.22">αHLA-I</text>
<text x="453.80" y="629.40" font-size="10.5" stroke="#111" stroke-width="0.22">αFLAG</text>
<line x1="404.80" y1="633.00" x2="494.20" y2="633.00" stroke="#444" stroke-width="0.75"/>
<line x1="449.00" y1="620.00" x2="449.00" y2="705.50" stroke="#444" stroke-width="0.75"/>
<text x="342.70" y="641.00" font-size="10.5" stroke="#111" stroke-width="0.22">U937</text>
<line x1="328.50" y1="637.40" x2="338.30" y2="637.40" stroke="#111" stroke-width="1.0" stroke-dasharray="2.2 1.4"/>
<text x="342.70" y="653.60" font-size="10.5" stroke="#111" stroke-width="0.22">U937-TD-VC</text>
<line x1="328.50" y1="650.00" x2="338.30" y2="650.00" stroke="#bbb" stroke-width="0.7"/>
<text x="342.70" y="665.60" font-size="10.5" stroke="#111" stroke-width="0.22">U937-TD-VC</text>
<line x1="328.50" y1="662.00" x2="338.30" y2="662.00" stroke="#333" stroke-width="1.4"/>
<text x="342.70" y="678.00" font-size="10.5" stroke="#111" stroke-width="0.22">U937-TD-B#1</text>
<line x1="328.50" y1="674.40" x2="338.30" y2="674.40" stroke="#444" stroke-width="0.9" stroke-dasharray="4 2.4"/>
<text x="343.50" y="690.00" font-size="10.5" stroke="#111" stroke-width="0.22">U937-TD-B#2</text>
<line x1="328.50" y1="686.40" x2="338.30" y2="686.40" stroke="#aaa" stroke-width="0.7"/>
<text x="343.50" y="702.20" font-size="10.5" stroke="#111" stroke-width="0.22">U937-TD-GFP</text>
<line x1="328.50" y1="698.60" x2="338.30" y2="698.60" stroke="#555" stroke-width="0.8" stroke-dasharray="0.9 1"/>
<text x="470.80" y="642.60" font-size="10.25" text-anchor="middle" stroke="#111" stroke-width="0.22">+</text>
<text x="470.80" y="664.20" font-size="10.25" text-anchor="middle" stroke="#111" stroke-width="0.22">+</text>
<text x="470.80" y="676.50" font-size="10.25" text-anchor="middle" stroke="#111" stroke-width="0.22">+</text>
<text x="470.80" y="689.00" font-size="10.25" text-anchor="middle" stroke="#111" stroke-width="0.22">+</text>
<text x="470.80" y="701.20" font-size="10.25" text-anchor="middle" stroke="#111" stroke-width="0.22">+</text>
<text x="427.50" y="653.40" font-size="10.25" text-anchor="middle" stroke="#111" stroke-width="0.22">+</text>
<text x="1.60" y="579.70" font-size="14" font-weight="bold" fill="#000" stroke="#000" stroke-width="0.35">G</text>
<text x="25.00" y="585.00" font-size="10.25" stroke="#111" stroke-width="0.22">Time (min)</text>
<text x="32.50" y="603.00" font-size="10.25" stroke="#111" stroke-width="0.22">αFLAG</text>
<text x="32.50" y="617.50" font-size="10.25" stroke="#111" stroke-width="0.22">αHLA-I</text>
<text x="116.30" y="585.00" font-size="10.25" text-anchor="middle" stroke="#111" stroke-width="0.22">1</text>
<text x="150.00" y="585.00" font-size="10.25" text-anchor="middle" stroke="#111" stroke-width="0.22">2</text>
<text x="202.50" y="585.00" font-size="10.25" text-anchor="middle" stroke="#111" stroke-width="0.22">5</text>
<text x="109.30" y="602.20" font-size="10.0" text-anchor="middle" stroke="#111" stroke-width="0.22">+</text>
<text x="126.00" y="602.20" font-size="10.0" text-anchor="middle" stroke="#111" stroke-width="0.22">+</text>
<text x="142.50" y="602.20" font-size="10.0" text-anchor="middle" stroke="#111" stroke-width="0.22">+</text>
<text x="158.80" y="602.20" font-size="10.0" text-anchor="middle" stroke="#111" stroke-width="0.22">+</text>
<text x="177.50" y="602.30" font-size="10.0" text-anchor="middle" stroke="#111" stroke-width="0.22">-</text>
<text x="193.30" y="602.30" font-size="10.0" text-anchor="middle" stroke="#111" stroke-width="0.22">-</text>
<text x="212.50" y="602.20" font-size="10.0" text-anchor="middle" stroke="#111" stroke-width="0.22">+</text>
<text x="229.30" y="602.20" font-size="10.0" text-anchor="middle" stroke="#111" stroke-width="0.22">+</text>
<text x="109.30" y="615.30" font-size="10.0" text-anchor="middle" stroke="#111" stroke-width="0.22">-</text>
<text x="126.00" y="615.30" font-size="10.0" text-anchor="middle" stroke="#111" stroke-width="0.22">-</text>
<text x="142.50" y="615.30" font-size="10.0" text-anchor="middle" stroke="#111" stroke-width="0.22">-</text>
<text x="158.80" y="615.30" font-size="10.0" text-anchor="middle" stroke="#111" stroke-width="0.22">-</text>
<text x="177.50" y="615.30" font-size="10.0" text-anchor="middle" stroke="#111" stroke-width="0.22">-</text>
<text x="193.30" y="615.20" font-size="10.0" text-anchor="middle" stroke="#111" stroke-width="0.22">+</text>
<text x="212.50" y="615.30" font-size="10.0" text-anchor="middle" stroke="#111" stroke-width="0.22">-</text>
<text x="229.30" y="615.30" font-size="10.0" text-anchor="middle" stroke="#111" stroke-width="0.22">-</text>
<line x1="99.50" y1="580.00" x2="99.50" y2="647.00" stroke="#555" stroke-width="0.8"/>
<line x1="135.50" y1="580.00" x2="135.50" y2="647.00" stroke="#555" stroke-width="0.8"/>
<line x1="169.30" y1="580.00" x2="169.30" y2="647.00" stroke="#555" stroke-width="0.8"/>
<line x1="240.50" y1="580.00" x2="240.50" y2="647.00" stroke="#555" stroke-width="0.8"/>
<text transform="translate(112.90 639.60) rotate(-90)" font-size="10.25" stroke="#111" stroke-width="0.22">VC</text>
<text transform="translate(129.60 639.60) rotate(-90)" font-size="10.25" stroke="#111" stroke-width="0.22">B#1</text>
<text transform="translate(146.10 639.60) rotate(-90)" font-size="10.25" stroke="#111" stroke-width="0.22">VC</text>
<text transform="translate(162.40 639.60) rotate(-90)" font-size="10.25" stroke="#111" stroke-width="0.22">B#1</text>
<text transform="translate(232.90 639.60) rotate(-90)" font-size="10.25" stroke="#111" stroke-width="0.22">B#1</text>
<text x="196.60" y="635.00" font-size="10.25" text-anchor="middle" stroke="#111" stroke-width="0.22">VC</text>
<line x1="173.80" y1="639.60" x2="220.00" y2="639.60" stroke="#666" stroke-width="0.9"/>
<rect x="99.50" y="647.20" width="141.00" height="27.30" fill="#b9b9b9" stroke="#222" stroke-width="1.0"/>
<rect x="99.50" y="681.30" width="141.00" height="30.00" fill="#b4b4b4" stroke="#222" stroke-width="1.0"/>
<text x="18.00" y="663.70" font-size="10.5" stroke="#111" stroke-width="0.22">PLCγ1 pY783</text>
<text x="33.80" y="697.50" font-size="10.5" stroke="#111" stroke-width="0.22">PLCγ1</text>
<text x="99.00" y="663.30" font-size="6.2" text-anchor="end">103-</text>
<text x="99.00" y="699.50" font-size="6.2" text-anchor="end">103-</text>
<ellipse cx="108.80" cy="660.50" rx="6.50" ry="1.20" fill="#000" opacity="1" filter="url(#b1)"/>
<ellipse cx="108.50" cy="668.50" rx="5.50" ry="3.00" fill="#777" opacity="0.5" filter="url(#b2)"/>
<ellipse cx="126.00" cy="660.60" rx="4.50" ry="0.90" fill="#555" opacity="0.45" filter="url(#b1)"/>
<ellipse cx="142.30" cy="660.50" rx="5.50" ry="1.30" fill="#000" opacity="1" filter="url(#b1)"/>
<ellipse cx="142.30" cy="668.50" rx="5.00" ry="4.00" fill="#444" opacity="0.6" filter="url(#b2)"/>
<ellipse cx="158.80" cy="660.60" rx="5.25" ry="1.10" fill="#222" opacity="0.8" filter="url(#b1)"/>
<ellipse cx="158.80" cy="668.00" rx="4.50" ry="3.00" fill="#777" opacity="0.4" filter="url(#b2)"/>
<ellipse cx="213.00" cy="660.20" rx="4.75" ry="1.00" fill="#222" opacity="0.8" filter="url(#b1)"/>
<ellipse cx="213.00" cy="668.00" rx="4.50" ry="3.00" fill="#888" opacity="0.3" filter="url(#b2)"/>
<ellipse cx="229.50" cy="660.40" rx="4.00" ry="0.80" fill="#666" opacity="0.35" filter="url(#b1)"/>
<ellipse cx="177.50" cy="668.00" rx="4.50" ry="3.00" fill="#999" opacity="0.25" filter="url(#b2)"/>
<ellipse cx="193.30" cy="668.00" rx="4.50" ry="3.00" fill="#999" opacity="0.25" filter="url(#b2)"/>
<ellipse cx="107.80" cy="695.80" rx="7.25" ry="1.25" fill="#000" opacity="1" filter="url(#b1)"/>
<ellipse cx="107.80" cy="704.00" rx="5.80" ry="2.50" fill="#888" opacity="0.3" filter="url(#b2)"/>
<ellipse cx="124.80" cy="695.80" rx="5.25" ry="1.25" fill="#000" opacity="1" filter="url(#b1)"/>
<ellipse cx="124.80" cy="704.00" rx="4.20" ry="2.50" fill="#888" opacity="0.3" filter="url(#b2)"/>
<ellipse cx="141.80" cy="695.80" rx="5.75" ry="1.25" fill="#000" opacity="1" filter="url(#b1)"/>
<ellipse cx="141.80" cy="704.00" rx="4.60" ry="2.50" fill="#888" opacity="0.3" filter="url(#b2)"/>
<ellipse cx="159.40" cy="695.80" rx="5.75" ry="1.25" fill="#000" opacity="1" filter="url(#b1)"/>
<ellipse cx="159.40" cy="704.00" rx="4.60" ry="2.50" fill="#888" opacity="0.3" filter="url(#b2)"/>
<ellipse cx="177.80" cy="695.80" rx="7.75" ry="1.25" fill="#000" opacity="1" filter="url(#b1)"/>
<ellipse cx="177.80" cy="704.00" rx="6.20" ry="2.50" fill="#888" opacity="0.3" filter="url(#b2)"/>
<ellipse cx="196.30" cy="695.80" rx="7.50" ry="1.25" fill="#000" opacity="1" filter="url(#b1)"/>
<ellipse cx="196.30" cy="704.00" rx="6.00" ry="2.50" fill="#888" opacity="0.3" filter="url(#b2)"/>
<ellipse cx="215.00" cy="695.80" rx="6.25" ry="1.25" fill="#000" opacity="1" filter="url(#b1)"/>
<ellipse cx="215.00" cy="704.00" rx="5.00" ry="2.50" fill="#888" opacity="0.3" filter="url(#b2)"/>
<ellipse cx="230.60" cy="695.80" rx="6.90" ry="1.25" fill="#000" opacity="1" filter="url(#b1)"/>
<ellipse cx="230.60" cy="704.00" rx="5.52" ry="2.50" fill="#888" opacity="0.3" filter="url(#b2)"/>
</svg>
</body></html>
